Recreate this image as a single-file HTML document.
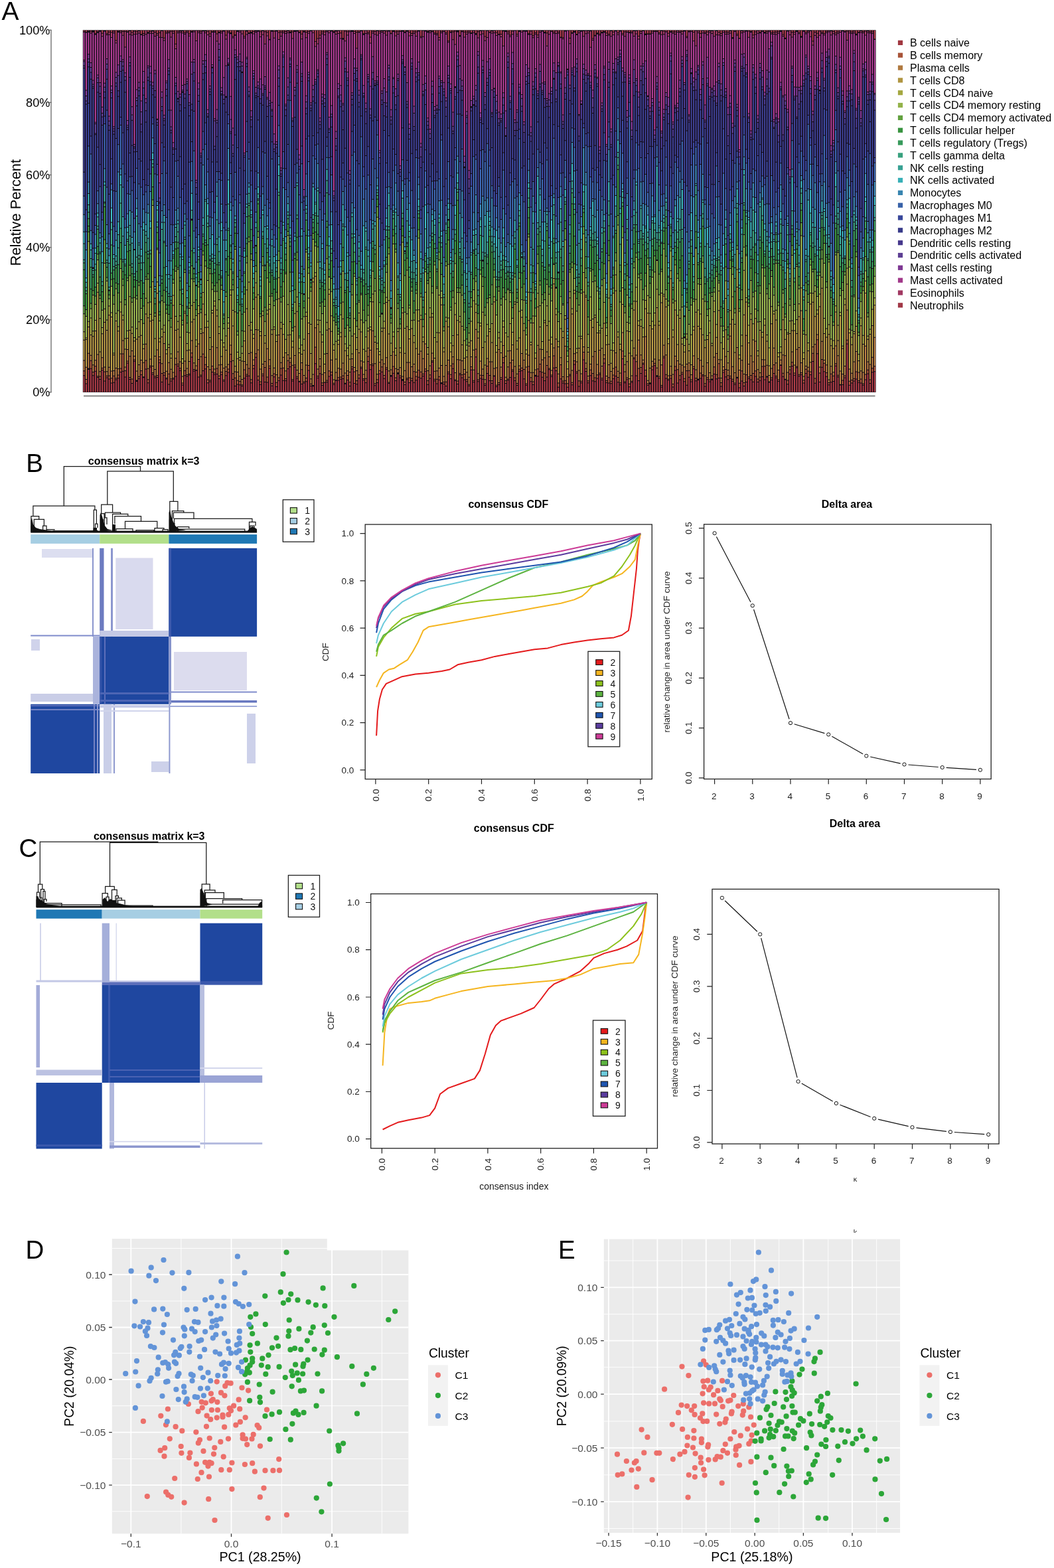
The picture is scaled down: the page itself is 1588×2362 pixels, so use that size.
<!DOCTYPE html>
<html><head><meta charset="utf-8"><style>
html,body{margin:0;padding:0;background:#fff;}
svg{display:block;font-family:'Liberation Sans', Arial, sans-serif;}
</style></head><body>
<svg width="1588" height="2362" viewBox="0 0 1588 2362">
<rect width="1588" height="2362" fill="#fff"/>
<rect x="124.8" y="45.3" width="1194.8" height="545.6" fill="#120a14"/>
<g transform="translate(126.527,0) scale(3.45318,1)" stroke-width="0.565" fill="none">
<path stroke="#b8404a" d="M0 566.2V590.4M1 578.4V590.4M2 557.0V590.4M3 555.8V590.4M4 566.3V590.4M5 559.8V590.4M6 568.9V590.4M7 571.9V590.4M8 558.0V590.4M9 574.4V590.4M10 569.5V590.4M11 571.4V590.4M12 577.5V590.4M13 576.7V590.4M14 572.6V590.4M15 570.2V590.4M16 560.9V590.4M17 559.7V590.4M18 568.5V590.4M19 547.5V590.4M20 572.0V590.4M21 578.1V590.4M22 544.8V590.4M23 574.9V590.4M24 571.0V590.4M25 565.0V590.4M26 569.2V590.4M27 556.5V590.4M28 577.2V590.4M29 553.4V590.4M30 564.6V590.4M31 569.4V590.4M32 568.9V590.4M33 546.8V590.4M34 576.0V590.4M35 565.8V590.4M36 571.6V590.4M37 579.5V590.4M38 574.4V590.4M39 571.8V590.4M40 567.4V590.4M41 551.8V590.4M42 558.7V590.4M43 580.6V590.4M44 566.2V590.4M45 567.6V590.4M46 565.6V590.4M47 538.6V590.4M48 559.6V590.4M49 558.6V590.4M50 568.4V590.4M51 567.4V590.4M52 559.1V590.4M53 556.2V590.4M54 577.2V590.4M55 575.5V590.4M56 561.1V590.4M57 564.8V590.4M58 563.9V590.4M59 570.9V590.4M60 564.7V590.4M61 574.8V590.4M62 566.2V590.4M63 561.4V590.4M64 545.2V590.4M65 572.1V590.4M66 581.9V590.4M67 579.6V590.4M68 580.2V590.4M69 582.2V590.4M70 570.3V590.4M71 567.0V590.4M72 566.8V590.4M73 577.2V590.4M74 555.7V590.4M75 538.7V590.4M76 573.0V590.4M77 579.7V590.4M78 566.6V590.4M79 576.1V590.4M80 576.5V590.4M81 555.2V590.4M82 581.7V590.4M83 568.3V590.4M84 583.1V590.4M85 573.8V590.4M86 565.6V590.4M87 573.8V590.4M88 573.9V590.4M89 555.9V590.4M90 552.9V590.4M91 574.4V590.4M92 553.4V590.4M93 570.5V590.4M94 575.8V590.4M95 578.9V590.4M96 577.4V590.4M97 575.2V590.4M98 558.4V590.4M99 582.1V590.4M100 582.3V590.4M101 548.3V590.4M102 569.7V590.4M103 563.2V590.4M104 581.0V590.4M105 576.8V590.4M106 576.2V590.4M107 567.5V590.4M108 565.6V590.4M109 579.7V590.4M110 573.8V590.4M111 573.4V590.4M112 571.7V590.4M113 571.0V590.4M114 578.8V590.4M115 573.1V590.4M116 582.1V590.4M117 556.3V590.4M118 577.9V590.4M119 579.2V590.4M120 570.3V590.4M121 555.5V590.4M122 573.2V590.4M123 577.1V590.4M124 545.1V590.4M125 557.2V590.4M126 551.3V590.4M127 581.2V590.4M128 577.1V590.4M129 563.5V590.4M130 560.7V590.4M131 570.8V590.4M132 556.8V590.4M133 578.1V590.4M134 567.5V590.4M135 562.7V590.4M136 574.1V590.4M137 563.7V590.4M138 569.4V590.4M139 573.7V590.4M140 579.9V590.4M141 572.2V590.4M142 577.0V590.4M143 573.9V590.4M144 576.7V590.4M145 573.3V590.4M146 568.8V590.4M147 570.3V590.4M148 567.1V590.4M149 559.7V590.4M150 579.7V590.4M151 570.4V590.4M152 545.9V590.4M153 574.3V590.4M154 578.5V590.4M155 572.7V590.4M156 578.4V590.4M157 578.9V590.4M158 582.0V590.4M159 563.4V590.4M160 571.0V590.4M161 555.7V590.4M162 574.1V590.4M163 579.1V590.4M164 565.1V590.4M165 569.6V590.4M166 572.6V590.4M167 575.2V590.4M168 581.8V590.4M169 557.8V590.4M170 576.2V590.4M171 538.3V590.4M172 575.3V590.4M173 570.4V590.4M174 571.8V590.4M175 581.0V590.4M176 563.0V590.4M177 574.0V590.4M178 577.9V590.4M179 567.3V590.4M180 583.0V590.4M181 579.9V590.4M182 572.0V590.4M183 546.9V590.4M184 578.1V590.4M185 573.2V590.4M186 569.1V590.4M187 559.8V590.4M188 573.7V590.4M189 581.1V590.4M190 559.8V590.4M191 558.9V590.4M192 571.2V590.4M193 580.7V590.4M194 560.8V590.4M195 575.3V590.4M196 579.9V590.4M197 567.2V590.4M198 567.2V590.4M199 560.2V590.4M200 568.7V590.4M201 574.1V590.4M202 568.4V590.4M203 557.3V590.4M204 567.8V590.4M205 554.8V590.4M206 559.0V590.4M207 583.8V590.4M208 571.3V590.4M209 577.4V590.4M210 578.6V590.4M211 583.8V590.4M212 566.6V590.4M213 580.3V590.4M214 549.6V590.4M215 562.5V590.4M216 582.5V590.4M217 577.2V590.4M218 542.5V590.4M219 559.9V590.4M220 577.3V590.4M221 566.2V590.4M222 574.3V590.4M223 575.3V590.4M224 570.4V590.4M225 564.7V590.4M226 572.8V590.4M227 547.5V590.4M228 577.0V590.4M229 577.5V590.4M230 578.3V590.4M231 571.1V590.4M232 566.9V590.4M233 576.3V590.4M234 580.3V590.4M235 541.0V590.4M236 577.3V590.4M237 572.2V590.4M238 583.3V590.4M239 576.5V590.4M240 541.1V590.4M241 566.5V590.4M242 573.9V590.4M243 562.9V590.4M244 549.3V590.4M245 567.1V590.4M246 580.8V590.4M247 578.8V590.4M248 557.4V590.4M249 551.2V590.4M250 567.7V590.4M251 570.3V590.4M252 583.4V590.4M253 539.5V590.4M254 570.6V590.4M255 573.2V590.4M256 570.4V590.4M257 583.6V590.4M258 558.5V590.4M259 577.6V590.4M260 572.5V590.4M261 564.2V590.4M262 575.2V590.4M263 580.7V590.4M264 568.7V590.4M265 575.4V590.4M266 556.1V590.4M267 574.2V590.4M268 573.1V590.4M269 570.4V590.4M270 566.8V590.4M271 582.4V590.4M272 572.3V590.4M273 575.4V590.4M274 572.8V590.4M275 564.1V590.4M276 571.2V590.4M277 570.0V590.4M278 582.6V590.4M279 561.6V590.4M280 568.3V590.4M281 572.2V590.4M282 570.1V590.4M283 574.8V590.4M284 579.7V590.4M285 570.1V590.4M286 584.6V590.4M287 574.4V590.4M288 582.1V590.4M289 576.0V590.4M290 570.7V590.4M291 572.6V590.4M292 575.8V590.4M293 567.6V590.4M294 575.9V590.4M295 573.7V590.4M296 568.0V590.4M297 572.4V590.4M298 568.5V590.4M299 576.4V590.4M300 572.7V590.4M301 562.9V590.4M302 569.5V590.4M303 574.9V590.4M304 550.9V590.4M305 567.8V590.4M306 572.6V590.4M307 579.3V590.4M308 563.7V590.4M309 552.1V590.4M310 565.7V590.4M311 554.5V590.4M312 567.3V590.4M313 564.9V590.4M314 577.6V590.4M315 563.1V590.4M316 568.8V590.4M317 564.9V590.4M318 544.9V590.4M319 577.7V590.4M320 533.3V590.4M321 576.1V590.4M322 553.8V590.4M323 560.3V590.4M324 567.7V590.4M325 580.2V590.4M326 576.2V590.4M327 575.0V590.4M328 551.8V590.4M329 568.2V590.4M330 580.4V590.4M331 580.1V590.4M332 569.6V590.4M333 518.4V590.4M334 580.7V590.4M335 577.4V590.4M336 574.5V590.4M337 571.5V590.4M338 576.7V590.4M339 577.4V590.4M340 580.8V590.4M341 572.4V590.4M342 563.6V590.4M343 577.9V590.4M344 561.3V590.4M345 560.3V590.4"/>
<path stroke="#c06040" d="M0 559.2V565.2M1 572.1V577.4M3 543.7V554.8M4 561.0V565.3M5 552.2V558.8M6 567.3V567.9M7 567.6V570.9M8 555.1V557.0M9 560.6V573.4M10 566.8V568.5M11 566.4V570.4M12 570.2V576.5M13 566.8V575.7M14 570.3V571.6M15 565.4V569.2M16 555.6V559.9M17 533.4V558.7M18 559.0V567.5M19 544.4V546.5M20 569.0V571.0M21 571.5V577.1M22 542.6V543.8M24 567.7V570.0M25 559.0V564.0M27 543.6V555.5M28 572.2V576.2M29 551.5V552.4M30 562.0V563.6M31 567.3V568.4M32 566.2V567.9M33 542.6V545.8M34 562.9V575.0M35 561.9V564.8M36 569.9V570.6M37 563.8V578.5M38 571.3V573.4M39 569.9V570.8M40 549.6V566.4M41 548.7V550.8M42 555.3V557.7M43 577.4V579.6M44 558.8V565.2M45 565.0V566.6M46 563.8V564.6M47 532.3V537.6M48 557.0V558.6M50 541.9V567.4M51 565.6V566.4M52 533.7V558.1M53 549.7V555.2M54 572.4V576.2M55 573.3V574.5M56 551.9V560.1M57 562.3V563.8M58 555.4V562.9M59 566.7V569.9M60 561.0V563.7M61 572.7V573.8M62 560.1V565.2M63 556.6V560.4M64 534.2V544.2M65 563.2V571.1M66 569.7V580.9M67 573.7V578.6M68 575.0V579.2M69 580.3V581.2M70 557.6V569.3M71 564.5V566.0M72 555.4V565.8M73 572.3V576.2M74 550.9V554.7M75 533.2V537.7M76 567.2V572.0M77 575.5V578.7M78 563.7V565.6M79 553.9V575.1M80 568.5V575.5M81 551.7V554.2M82 577.9V580.7M83 563.4V567.3M84 576.8V582.1M85 569.4V572.8M86 555.5V564.6M87 554.7V572.8M88 571.1V572.9M89 543.7V554.9M90 546.5V551.9M91 572.2V573.4M92 550.2V552.4M93 567.7V569.5M95 557.2V577.9M96 575.4V576.4M97 570.0V574.2M98 550.9V557.4M99 578.8V581.1M101 523.4V547.3M102 567.1V568.7M103 552.2V562.2M104 577.2V580.0M106 573.5V575.2M107 559.3V566.5M108 561.0V564.6M109 577.8V578.7M111 569.2V572.4M112 568.4V570.7M113 566.5V570.0M115 566.1V572.1M116 576.2V581.1M117 553.0V555.3M118 560.4V576.9M119 573.9V578.2M120 565.2V569.3M121 553.4V554.5M122 570.9V572.2M123 570.7V576.1M124 537.5V544.1M125 550.1V556.2M126 548.7V550.3M127 578.3V580.2M128 572.2V576.1M129 558.8V562.5M130 553.3V559.7M131 566.1V569.8M132 554.3V555.8M133 576.4V577.1M135 552.5V561.7M136 569.5V573.1M138 566.6V568.4M140 575.9V578.9M141 570.3V571.2M142 569.5V576.0M143 570.6V572.9M144 560.2V575.7M145 567.4V572.3M146 558.2V567.8M147 560.7V569.3M148 563.8V566.1M149 556.3V558.7M150 574.0V578.7M151 565.3V569.4M152 544.1V544.9M153 571.7V573.3M154 571.7V577.5M155 567.7V571.7M157 576.1V577.9M158 575.8V581.0M159 560.7V562.4M160 564.7V570.0M161 548.5V554.7M162 572.4V573.1M163 574.5V578.1M164 562.9V564.1M165 565.1V568.6M166 564.0V571.6M167 572.3V574.2M168 579.7V580.8M169 552.9V556.8M170 573.7V575.2M171 526.4V537.3M172 572.4V574.3M173 565.8V569.4M174 565.9V570.8M175 578.4V580.0M176 551.9V562.0M177 566.0V573.0M178 574.1V576.9M180 580.8V582.0M181 576.9V578.9M182 569.3V571.0M183 538.9V545.9M184 574.0V577.1M185 571.4V572.2M186 546.9V568.1M187 557.4V558.8M188 569.4V572.7M189 577.9V580.1M190 556.8V558.8M191 554.8V557.9M192 556.9V570.2M193 578.6V579.7M194 552.5V559.8M195 569.2V574.3M196 575.5V578.9M198 556.3V566.2M199 549.0V559.2M200 561.3V567.7M201 562.7V573.1M202 550.9V567.4M203 555.4V556.3M204 565.5V566.8M205 536.5V553.8M206 553.9V558.0M207 577.5V582.8M208 550.0V570.3M209 574.6V576.4M210 573.7V577.6M211 578.2V582.8M212 564.6V565.6M213 576.7V579.3M214 544.0V548.6M215 560.3V561.5M216 574.2V581.5M217 574.8V576.2M218 531.0V541.5M219 555.7V558.9M220 574.2V576.3M221 557.7V565.2M222 563.0V573.3M223 569.4V574.3M224 565.2V569.4M225 562.4V563.7M226 570.3V571.8M227 541.0V546.5M228 573.9V576.0M229 569.2V576.5M230 574.7V577.3M231 565.6V570.1M232 553.6V565.9M233 569.0V575.3M234 577.2V579.3M235 529.2V540.0M236 575.5V576.3M237 569.6V571.2M238 578.7V582.3M239 574.8V575.5M240 539.2V540.1M241 545.3V565.5M242 555.4V572.9M243 554.1V561.9M244 547.6V548.3M245 558.1V566.1M246 578.3V579.8M248 552.5V556.4M249 547.7V550.2M251 567.5V569.3M252 581.1V582.4M253 537.3V538.5M254 564.8V569.6M255 571.4V572.2M256 566.2V569.4M257 578.9V582.6M258 552.5V557.5M259 557.2V576.6M260 566.3V571.5M261 561.5V563.2M262 570.7V574.2M263 559.0V579.7M264 558.8V567.7M265 572.4V574.4M266 552.8V555.1M267 570.3V573.2M269 562.6V569.4M270 565.0V565.8M271 578.3V581.4M272 569.2V571.3M273 572.4V574.4M275 553.3V563.1M276 564.8V570.2M277 548.3V569.0M278 576.9V581.6M279 558.2V560.6M280 556.9V567.3M281 566.2V571.2M282 567.0V569.1M283 571.8V573.8M284 577.6V578.7M286 577.8V583.6M287 559.2V573.4M288 577.1V581.1M289 565.1V575.0M290 568.3V569.7M291 566.1V571.6M292 562.9V574.8M293 559.3V566.6M294 571.4V574.9M295 568.4V572.7M296 552.5V567.0M297 552.2V571.4M300 569.5V571.7M301 550.1V561.9M302 566.9V568.5M303 572.5V573.9M305 562.7V566.8M307 573.6V578.3M308 557.5V562.7M309 546.2V551.1M310 562.4V564.7M311 552.7V553.5M312 564.8V566.3M313 561.9V563.9M314 573.2V576.6M315 556.8V562.1M316 559.6V567.8M317 560.6V563.9M318 532.7V543.9M319 570.6V576.7M320 512.3V532.3M321 562.4V575.1M322 541.9V552.8M323 547.8V559.3M324 562.0V566.7M325 577.0V579.2M326 563.8V575.2M327 566.8V574.0M328 548.3V550.8M329 565.7V567.2M331 573.6V579.1M332 566.5V568.6M333 512.8V517.4M334 574.7V579.7M335 573.1V576.4M336 570.8V573.5M337 560.4V570.5M338 574.1V575.7M339 571.6V576.4M340 578.4V579.8M341 564.4V571.4M342 557.8V562.6M343 572.6V576.9M344 555.3V560.3M345 552.2V559.3"/>
<path stroke="#c88a48" d="M0 543.6V558.2M1 553.7V571.1M2 532.8V554.6M3 535.8V542.7M4 550.3V560.0M5 543.2V551.2M6 534.5V566.3M7 560.3V566.6M8 539.2V554.1M9 553.4V559.6M10 560.3V565.8M11 553.7V565.4M12 559.4V569.2M13 559.1V565.8M14 555.0V569.3M15 556.1V564.4M16 533.5V554.6M17 513.6V532.4M18 553.6V558.0M19 527.1V543.4M20 537.3V568.0M21 528.9V570.5M22 536.9V541.6M23 559.4V572.4M24 549.9V566.7M25 543.1V558.0M26 546.7V567.3M27 518.8V542.6M28 555.7V571.2M29 541.5V550.5M30 552.0V561.0M31 557.0V566.3M32 527.6V565.2M33 538.0V541.6M34 548.2V561.9M35 518.0V560.9M36 559.8V568.9M37 546.7V562.8M38 556.8V570.3M39 561.4V568.9M40 540.3V548.6M41 530.6V547.7M42 545.5V554.3M43 567.5V576.4M44 544.5V557.8M45 555.6V564.0M46 545.1V562.8M47 513.5V531.3M48 547.3V556.0M49 551.5V556.9M50 518.4V540.9M51 537.8V564.6M52 501.8V532.7M53 538.8V548.7M54 552.9V571.4M55 557.3V572.3M56 522.8V550.9M57 556.6V561.3M58 524.3V554.4M59 550.2V565.7M60 549.7V560.0M61 555.0V571.7M62 553.2V559.1M63 549.6V555.6M64 520.4V533.2M65 543.7V562.2M66 560.5V568.7M67 561.0V572.7M68 567.3V574.0M69 571.9V579.3M70 545.0V556.6M71 549.8V563.5M72 532.9V554.4M73 531.6V571.3M74 542.6V549.9M75 496.9V532.2M76 527.5V566.2M77 556.4V574.5M78 549.1V562.7M79 544.9V552.9M80 525.7V567.5M81 542.3V550.7M82 566.2V576.9M83 554.8V562.4M84 565.0V575.8M85 505.0V568.4M86 546.8V554.5M87 538.7V553.7M88 559.2V570.1M89 535.0V542.7M90 539.9V545.5M91 550.7V571.2M92 536.1V549.2M93 557.9V566.7M94 562.9V573.8M95 546.9V556.2M96 566.1V574.4M97 550.5V569.0M98 502.9V549.9M99 571.3V577.8M100 564.5V579.9M101 494.3V522.4M102 556.5V566.1M103 541.0V551.2M104 564.6V576.2M105 562.1V575.5M106 533.0V572.5M107 495.7V558.3M108 542.8V560.0M109 572.5V576.8M110 561.6V572.3M111 555.2V568.2M112 556.5V567.4M113 547.5V565.5M114 562.4V576.8M115 559.2V565.1M116 561.0V575.2M117 541.1V552.0M118 553.9V559.4M119 559.0V572.9M120 532.1V564.2M121 544.3V552.4M122 564.6V569.9M123 558.3V569.7M124 524.8V536.5M125 527.9V549.1M126 498.8V547.7M127 548.3V577.3M128 564.2V571.2M129 546.2V557.8M130 542.4V552.3M131 548.5V565.1M132 539.3V553.3M133 559.2V575.4M134 557.5V564.9M135 530.5V551.5M136 555.7V568.5M137 556.9V561.1M138 554.3V565.6M139 567.4V571.1M140 558.8V574.9M141 546.6V569.3M142 546.5V568.5M143 553.0V569.6M144 549.1V559.2M145 560.9V566.4M146 534.0V557.2M147 529.5V559.7M148 540.8V562.8M149 518.5V555.3M150 559.0V573.0M151 551.4V564.3M152 532.4V543.1M153 559.7V570.7M154 559.2V570.7M155 554.9V566.7M156 551.1V575.9M157 567.5V575.1M158 551.1V574.8M159 542.9V559.7M160 551.4V563.7M161 538.1V547.5M162 562.1V571.4M163 542.2V573.5M164 542.8V561.9M165 543.9V564.1M166 557.0V563.0M167 561.3V571.3M168 568.8V578.7M169 537.9V551.9M170 557.7V572.7M171 496.7V525.4M172 563.2V571.4M173 544.6V564.8M174 556.5V564.9M175 572.2V577.4M176 540.4V550.9M177 545.4V565.0M178 545.5V573.1M179 555.5V565.6M180 554.5V579.8M181 526.9V575.9M182 553.5V568.3M183 521.0V537.9M184 568.7V573.0M185 553.3V570.4M186 528.8V545.9M187 543.1V556.4M188 552.5V568.4M189 563.7V576.9M190 551.6V555.8M191 533.1V553.8M192 543.1V555.9M193 553.4V577.6M194 535.5V551.5M195 561.8V568.2M196 561.7V574.5M197 557.4V564.8M198 520.7V555.3M199 526.6V548.0M200 542.4V560.3M201 539.5V561.7M202 530.4V549.9M203 538.1V554.4M204 558.6V564.5M205 524.6V535.5M206 511.2V552.9M207 563.8V576.5M208 539.2V549.0M209 567.9V573.6M210 522.0V572.7M211 568.0V577.2M212 526.0V563.6M213 558.5V575.7M214 533.2V543.0M215 545.5V559.3M216 558.5V573.2M217 563.4V573.8M218 522.9V530.0M219 547.6V554.7M220 566.9V573.2M221 549.1V556.7M222 537.6V562.0M223 529.9V568.4M224 549.5V564.2M225 527.9V561.4M226 551.9V569.3M227 534.9V540.0M228 566.9V572.9M229 549.9V568.2M230 560.1V573.7M231 555.6V564.6M232 532.0V552.6M233 559.7V568.0M234 562.5V576.2M235 501.6V528.2M236 560.5V574.5M237 545.2V568.6M238 570.9V577.7M239 566.6V573.8M240 524.7V538.2M241 535.5V544.3M242 512.7V554.4M243 535.2V553.1M244 542.8V546.6M245 507.4V557.1M246 573.7V577.3M247 555.1V576.3M248 544.7V551.5M249 541.5V546.7M250 554.8V565.3M251 542.8V566.5M252 550.2V580.1M253 520.4V536.3M254 535.3V563.8M255 566.4V570.4M256 552.2V565.2M257 564.6V577.9M258 536.9V551.5M259 544.1V556.2M260 548.9V565.3M261 550.5V560.5M262 553.2V569.7M263 549.0V558.0M264 547.3V557.8M265 564.9V571.4M266 536.6V551.8M267 557.4V569.3M268 540.7V570.5M269 543.2V561.6M270 552.2V564.0M271 566.5V577.3M272 547.0V568.2M273 562.1V571.4M274 566.6V570.6M275 538.5V552.3M276 533.0V563.8M277 542.3V547.3M278 569.9V575.9M279 552.9V557.2M280 537.5V555.9M281 557.9V565.2M282 506.7V566.0M283 552.8V570.8M284 562.0V576.6M285 523.9V567.7M286 558.1V576.8M287 543.2V558.2M288 564.0V576.1M289 505.7V564.1M290 548.9V567.3M291 536.6V565.1M292 545.6V561.9M293 514.5V558.3M294 557.2V570.4M295 562.1V567.4M296 542.3V551.5M297 542.4V551.2M298 550.7V566.4M299 566.0V574.6M300 555.6V568.5M301 524.8V549.1M302 547.3V565.9M303 558.1V571.5M304 542.7V549.2M305 535.2V561.7M306 536.2V570.7M307 561.5V572.6M308 552.9V556.5M309 530.6V545.2M310 550.6V561.4M311 526.8V551.7M312 524.1V563.8M313 546.9V560.9M314 567.4V572.2M315 552.1V555.8M316 553.8V558.6M317 546.2V559.6M318 523.0V531.7M319 519.3V569.6M320 504.5V511.3M321 553.5V561.4M322 514.8V540.9M323 543.0V546.8M324 550.3V561.0M325 572.4V576.0M326 552.3V562.8M327 561.2V565.8M328 521.6V547.3M329 536.3V564.7M330 559.6V578.8M331 563.9V572.6M332 552.1V565.5M333 467.5V511.8M334 556.5V573.7M335 562.8V572.1M336 545.4V569.8M337 529.9V559.4M338 561.6V573.1M339 559.3V570.6M340 561.5V577.4M341 521.8V563.4M342 545.4V556.8M343 549.6V571.6M344 538.8V554.3M345 508.8V551.2"/>
<path stroke="#c8aa4a" d="M0 512.8V542.6M1 512.1V552.7M2 492.9V531.8M3 505.1V534.8M4 507.3V549.3M5 499.0V542.2M6 440.7V533.5M7 530.6V559.3M8 503.3V538.2M9 486.0V552.4M10 497.9V559.3M11 475.3V552.7M12 477.9V558.4M13 535.2V558.1M14 484.0V554.0M15 499.2V555.1M16 470.5V532.5M17 482.6V512.6M18 526.6V552.6M19 509.9V526.1M20 498.1V536.3M21 502.8V527.9M22 514.2V535.9M23 511.4V558.4M24 508.0V548.9M25 505.8V542.1M26 525.8V545.7M27 473.5V517.8M28 479.2V554.7M29 484.2V540.5M30 482.8V551.0M31 537.0V556.0M32 442.2V526.6M33 515.6V537.0M34 507.9V547.2M35 501.1V517.0M36 533.6V558.8M37 524.1V545.7M38 540.1V555.8M39 460.6V560.4M40 498.1V539.3M41 496.5V529.6M42 508.5V544.5M43 547.8V566.5M44 472.3V543.5M45 528.6V554.6M46 527.7V544.1M47 485.4V512.5M48 481.4V546.3M49 522.3V550.5M50 473.0V517.4M51 503.0V536.8M52 458.5V500.8M53 493.7V537.8M54 493.4V551.9M55 527.1V556.3M56 472.1V521.8M57 461.6V555.6M58 476.6V523.3M59 502.9V549.2M60 537.5V548.7M61 523.3V554.0M62 528.0V552.2M63 495.1V548.6M64 444.9V519.4M65 491.5V542.7M66 552.3V559.5M67 540.7V560.0M68 543.0V566.3M69 544.6V570.9M70 514.1V544.0M71 465.5V548.8M72 491.0V531.9M73 497.8V530.6M74 510.2V541.6M75 448.3V495.9M76 497.6V526.5M77 506.2V555.4M78 475.8V548.1M79 517.5V543.9M80 473.6V524.7M81 466.3V541.3M82 504.3V565.2M83 496.5V553.8M84 514.9V564.0M85 450.6V504.0M86 495.6V545.8M87 504.2V537.7M88 532.1V558.2M89 505.3V534.0M90 504.7V538.9M91 523.5V549.7M92 492.6V535.1M93 469.7V556.9M94 532.1V561.9M95 533.9V545.9M96 528.2V565.1M97 476.9V549.5M98 487.1V501.9M99 533.1V570.3M100 425.2V563.5M101 416.8V493.3M102 489.2V555.5M103 500.6V540.0M104 515.8V563.6M105 548.9V561.1M106 497.8V532.0M107 443.8V494.7M108 499.8V541.8M109 528.1V571.5M110 541.5V560.6M111 519.3V554.2M112 507.8V555.5M113 480.8V546.5M114 528.8V561.4M115 536.3V558.2M116 541.6V560.0M117 533.6V540.1M118 503.5V552.9M119 527.0V558.0M120 496.4V531.1M121 500.4V543.3M122 545.7V563.6M123 529.6V557.3M124 499.3V523.8M125 497.2V526.9M126 455.2V497.8M127 516.0V547.3M128 526.1V563.2M129 534.7V545.2M130 499.8V541.4M131 494.8V547.5M132 456.0V538.3M133 503.4V558.2M134 536.0V556.5M135 507.5V529.5M136 535.7V554.7M137 500.1V555.9M138 531.6V553.3M139 471.8V566.4M140 532.7V557.8M141 492.4V545.6M142 511.0V545.5M143 495.5V552.0M144 516.5V548.1M145 525.5V559.9M146 484.0V533.0M147 481.8V528.5M148 515.3V539.8M149 473.6V517.5M150 534.1V558.0M151 478.6V550.4M152 478.3V531.4M153 540.0V558.7M154 515.6V558.2M155 501.8V553.9M156 459.8V550.1M157 530.4V566.5M158 484.5V550.1M159 492.8V541.9M160 530.5V550.4M161 521.3V537.1M162 474.5V561.1M163 504.7V541.2M164 485.4V541.8M165 520.0V542.9M166 540.0V556.0M167 538.3V560.3M168 521.8V567.8M169 513.8V536.9M170 527.7V556.7M171 471.2V495.7M172 509.8V562.2M173 491.6V543.6M174 524.0V555.5M175 550.4V571.2M176 506.4V539.4M177 500.1V544.4M178 516.6V544.5M179 455.2V554.5M180 531.3V553.5M181 509.5V525.9M182 532.0V552.5M183 492.9V520.0M184 537.3V567.7M185 529.2V552.3M186 488.1V527.8M187 519.9V542.1M188 458.8V551.5M189 526.6V562.7M190 509.5V550.6M191 478.6V532.1M192 498.5V542.1M193 533.8V552.4M194 483.2V534.5M195 520.0V560.8M196 486.9V560.7M197 540.3V556.4M198 462.7V519.7M199 493.1V525.6M200 527.0V541.4M201 486.6V538.5M202 490.9V529.4M203 512.8V537.1M204 518.7V557.6M205 428.3V523.6M206 474.6V510.2M207 522.9V562.8M208 495.4V538.2M209 509.0V566.9M210 481.6V521.0M211 556.2V567.0M212 449.3V525.0M213 473.5V557.5M214 442.4V532.2M215 531.8V544.5M216 524.9V557.5M217 510.6V562.4M218 440.4V521.9M219 448.1V546.6M220 531.1V565.9M221 482.9V548.1M222 493.8V536.6M223 478.7V528.9M224 502.1V548.5M225 501.9V526.9M226 525.2V550.9M227 487.4V533.9M228 519.7V565.9M229 519.3V548.9M230 547.8V559.1M231 528.7V554.6M232 438.4V531.0M233 508.2V558.7M234 527.3V561.5M235 458.9V500.6M236 549.7V559.5M237 498.9V544.2M238 532.4V569.9M239 536.5V565.6M240 467.6V523.7M241 454.4V534.5M242 490.8V511.7M243 491.9V534.2M244 508.0V541.8M245 465.5V506.4M246 472.2V572.7M247 491.1V554.1M248 495.9V543.7M249 490.6V540.5M250 464.0V553.8M251 490.5V541.8M252 456.5V549.2M253 446.5V519.4M254 462.7V534.3M255 518.2V565.4M256 420.3V551.2M257 508.3V563.6M258 467.5V535.9M259 519.4V543.1M260 479.9V547.9M261 518.8V549.5M262 530.8V552.2M263 511.5V548.0M264 528.9V546.3M265 550.0V563.9M266 497.8V535.6M267 470.7V556.4M268 491.9V539.7M269 495.8V542.2M270 504.8V551.2M271 524.3V565.5M272 511.9V546.0M273 501.7V561.1M274 521.3V565.6M275 470.0V537.5M276 508.8V532.0M277 468.2V541.3M278 542.6V568.9M279 525.8V551.9M280 497.2V536.5M281 547.2V556.9M282 488.8V505.7M283 481.7V551.8M284 531.4V561.0M285 432.9V522.9M286 540.8V557.1M287 521.5V542.2M288 474.7V563.0M289 455.5V504.7M290 517.1V547.9M291 481.8V535.6M292 512.5V544.6M293 480.3V513.5M294 536.5V556.2M295 498.0V561.1M296 508.4V541.3M297 490.6V541.4M298 514.5V549.7M299 551.4V565.0M300 488.3V554.6M301 473.5V523.8M302 482.5V546.3M303 537.9V557.1M304 531.4V541.7M305 482.3V534.2M306 511.8V535.2M307 503.8V560.5M308 502.9V551.9M309 498.5V529.6M310 498.4V549.6M311 503.0V525.8M312 477.6V523.1M313 468.4V545.9M314 541.0V566.4M315 504.8V551.1M316 529.1V552.8M317 458.6V545.2M318 455.7V522.0M319 477.2V518.3M320 473.4V503.5M321 462.5V552.5M322 434.8V513.8M323 503.1V542.0M324 508.6V549.3M325 504.3V571.4M326 521.3V551.3M327 525.6V560.2M328 470.4V520.6M329 513.5V535.3M330 476.0V558.6M331 525.6V562.9M332 459.5V551.1M333 428.5V466.5M334 502.1V555.5M335 519.7V561.8M336 503.2V544.4M337 491.9V528.9M338 544.1V560.6M339 491.2V558.3M340 518.9V560.5M341 442.1V520.8M342 511.7V544.4M343 504.0V548.6M344 491.0V537.8M345 460.3V507.8"/>
<path stroke="#bcc04a" d="M0 500.3V511.8M1 509.4V511.1M2 484.8V491.9M3 479.5V504.1M4 499.3V506.3M5 482.9V498.0M6 426.9V439.7M7 480.3V529.6M8 494.1V502.3M9 465.8V485.0M10 482.4V496.9M11 461.4V474.3M12 471.6V476.9M13 532.4V534.2M14 472.6V483.0M15 492.4V498.2M16 455.6V469.5M17 475.4V481.6M18 510.5V525.6M19 498.7V508.9M20 447.3V497.1M21 493.2V501.8M22 508.9V513.2M23 495.6V510.4M24 485.3V507.0M25 481.9V504.8M26 519.3V524.8M27 449.8V472.5M28 456.5V478.2M29 473.9V483.2M30 424.7V481.8M31 510.5V536.0M32 425.3V441.2M33 510.2V514.6M34 496.3V506.9M35 490.6V500.1M36 527.3V532.6M37 519.6V523.1M38 533.6V539.1M39 445.6V459.6M40 477.0V497.1M41 484.8V495.5M42 476.3V507.5M43 541.0V546.8M44 469.4V471.3M45 517.9V527.6M46 501.8V526.7M47 460.8V484.4M48 456.1V480.4M49 512.5V521.3M50 461.1V472.0M51 496.1V502.0M52 440.9V457.5M53 474.4V492.7M54 484.6V492.4M55 509.0V526.1M56 468.0V471.1M57 453.9V460.6M58 467.6V475.6M59 492.8V501.9M60 512.8V536.5M61 516.9V522.3M62 506.5V527.0M63 487.2V494.1M64 437.2V443.9M65 468.1V490.5M66 470.2V551.3M67 531.0V539.7M68 539.0V542.0M69 532.7V543.6M70 499.6V513.1M71 437.2V464.5M72 425.5V490.0M73 485.9V496.8M74 504.3V509.2M75 426.5V447.3M76 444.4V496.6M77 499.9V505.2M78 469.3V474.8M79 506.1V516.5M80 467.7V472.6M81 458.9V465.3M82 497.2V503.3M83 493.0V495.5M84 505.6V513.9M85 418.7V449.6M86 486.2V494.6M87 489.0V503.2M88 511.8V531.1M89 459.2V504.3M90 484.9V503.7M91 514.6V522.5M92 472.7V491.6M93 447.7V468.7M94 525.6V531.1M95 520.2V532.9M96 511.4V527.2M97 470.7V475.9M98 449.5V486.1M99 488.9V532.1M100 419.4V424.2M101 411.2V415.8M102 482.5V488.2M103 483.1V499.6M104 504.7V514.8M105 533.7V547.9M106 486.3V496.8M107 436.6V442.8M108 476.3V498.8M109 519.6V527.1M110 514.8V540.5M111 512.9V518.3M112 501.4V506.8M113 455.6V479.8M114 518.5V527.8M115 524.7V535.3M116 520.8V540.6M117 506.7V532.6M118 480.2V502.5M119 509.0V526.0M120 471.9V495.4M121 482.5V499.4M122 526.8V544.7M123 507.9V528.6M124 494.7V498.3M125 493.1V496.2M126 443.5V454.2M127 507.4V515.0M128 517.6V525.1M129 529.9V533.7M130 494.7V498.8M131 484.5V493.8M132 448.4V455.0M133 453.2V502.4M134 517.5V535.0M135 500.6V506.5M136 524.9V534.7M137 495.3V499.1M138 524.6V530.6M139 464.1V470.8M140 494.9V531.7M141 473.3V491.4M142 496.9V510.0M143 483.2V494.5M144 505.9V515.5M145 467.6V524.5M146 467.3V483.0M147 475.5V480.8M148 508.3V514.3M149 440.8V472.6M150 524.0V533.1M151 464.3V477.6M152 472.8V477.3M153 509.1V539.0M154 501.6V514.6M155 445.0V500.8M156 449.1V458.8M157 524.4V529.4M158 478.5V483.5M159 479.5V491.8M160 517.2V529.5M161 506.0V520.3M162 457.4V473.5M163 483.3V503.7M164 477.1V484.4M165 492.1V519.0M166 513.6V539.0M167 528.2V537.3M168 516.4V520.8M169 484.6V512.8M170 453.6V526.7M171 458.6V470.2M172 500.6V508.8M173 487.2V490.6M174 470.8V523.0M175 515.5V549.4M176 489.2V505.4M177 495.9V499.1M178 488.0V515.6M179 447.4V454.2M180 521.1V530.3M181 501.2V508.5M182 515.6V531.0M183 484.1V491.9M184 501.9V536.3M185 507.7V528.2M186 455.3V487.1M187 501.1V518.9M188 455.3V457.8M189 514.0V525.6M190 469.4V508.5M191 467.7V477.6M192 487.8V497.5M193 527.5V532.8M194 440.8V482.2M195 515.9V519.0M196 476.4V485.9M197 532.3V539.3M198 442.3V461.7M199 461.1V492.1M200 515.1V526.0M201 483.3V485.6M202 461.3V489.9M203 484.6V511.8M204 508.5V517.7M205 420.1V427.3M206 465.4V473.6M207 514.7V521.9M208 473.0V494.4M209 499.8V508.0M210 476.0V480.6M211 545.2V555.2M212 439.7V448.3M213 465.4V472.5M214 437.7V441.4M215 525.5V530.8M216 506.9V523.9M217 507.1V509.6M218 411.0V439.4M219 445.4V447.1M220 524.1V530.1M221 447.7V481.9M222 480.9V492.8M223 475.2V477.7M224 485.9V501.1M225 499.0V500.9M226 495.1V524.2M227 456.1V486.4M228 506.1V518.7M229 449.6V518.3M230 528.1V546.8M231 516.9V527.7M232 414.6V437.4M233 500.5V507.2M234 518.9V526.3M235 434.0V457.9M236 537.1V548.7M237 485.9V497.9M238 500.1V531.4M239 513.5V535.5M240 454.3V466.6M241 433.2V453.4M242 483.8V489.8M243 482.3V490.9M244 494.3V507.0M245 453.1V464.5M246 445.8V471.2M247 472.5V490.1M248 484.5V494.9M249 472.0V489.6M250 436.3V463.0M251 484.6V489.5M252 442.0V455.5M253 443.8V445.5M254 450.9V461.7M255 510.7V517.2M256 408.2V419.3M257 497.6V507.3M258 453.7V466.5M259 475.5V518.4M260 467.5V478.9M261 510.0V517.8M262 521.0V529.8M263 503.4V510.5M264 519.2V527.9M265 504.7V549.0M266 492.4V496.8M267 451.4V469.7M268 467.5V490.9M269 473.6V494.8M270 450.7V503.8M271 512.8V523.3M272 506.1V510.9M273 483.8V500.7M274 517.7V520.3M275 453.7V469.0M276 489.3V507.8M277 438.7V467.2M278 516.8V541.6M279 508.0V524.8M280 449.9V496.2M281 530.1V546.2M282 468.3V487.8M283 447.6V480.7M284 489.1V530.4M285 406.6V431.9M286 535.3V539.8M287 505.2V520.5M288 407.8V473.7M289 448.9V454.5M290 490.6V516.1M291 473.3V480.8M292 488.3V511.5M293 465.9V479.3M294 529.1V535.5M295 485.1V497.0M296 501.0V507.4M297 481.0V489.6M298 504.9V513.5M299 524.4V550.4M300 462.3V487.3M301 469.3V472.5M302 467.8V481.5M303 531.9V536.9M304 523.0V530.4M305 463.2V481.3M306 497.3V510.8M307 501.5V502.8M308 484.1V501.9M309 483.5V497.5M310 488.6V497.4M311 482.1V502.0M312 458.3V476.6M313 434.3V467.4M314 531.7V540.0M315 468.3V503.8M316 517.1V528.1M317 441.9V457.6M318 442.2V454.7M319 439.5V476.2M320 467.6V472.4M321 443.6V461.5M322 417.9V433.8M323 480.0V502.1M324 495.6V507.6M325 489.6V503.3M326 511.2V520.3M327 513.4V524.6M328 461.2V469.4M329 490.4V512.5M330 471.1V475.0M331 521.7V524.6M332 450.7V458.5M333 404.4V427.5M334 496.5V501.1M335 508.6V518.7M336 499.9V502.2M337 468.8V490.9M338 534.2V543.1M339 479.5V490.2M340 505.7V517.9M341 423.8V441.1M342 506.8V510.7M343 496.5V503.0M344 466.5V490.0M345 449.2V459.3"/>
<path stroke="#a8cc55" d="M0 473.3V499.3M1 477.1V508.4M2 364.2V483.8M3 465.5V478.5M4 445.0V498.3M5 459.1V481.9M6 391.9V425.9M7 450.2V479.3M8 467.8V493.1M9 397.0V464.8M10 423.8V481.4M11 450.6V460.4M12 431.7V470.6M13 458.7V531.4M14 435.4V471.6M15 468.5V491.4M16 404.9V454.6M17 430.6V474.4M18 459.4V509.5M19 423.3V497.7M20 415.6V446.3M21 455.7V492.2M22 448.7V507.9M23 450.8V494.6M24 430.5V484.3M25 464.9V480.9M26 487.8V518.3M27 421.3V448.8M28 421.3V455.5M29 455.4V472.9M30 310.1V423.7M31 476.9V509.5M32 376.4V424.3M33 483.9V509.2M34 453.4V495.3M35 455.7V489.6M36 472.5V526.3M37 483.5V518.6M38 493.4V532.6M39 427.1V444.6M40 409.0V476.0M41 406.3V483.8M42 458.9V475.3M43 490.1V540.0M44 411.0V468.4M45 501.1V516.9M46 464.9V500.8M47 420.6V459.8M48 424.7V455.1M49 476.1V511.5M50 432.8V460.1M51 471.4V495.1M52 384.4V439.9M53 401.6V473.4M54 423.1V483.6M55 412.8V508.0M56 436.4V467.0M57 439.5V452.9M58 439.6V466.6M59 451.9V491.8M60 436.5V511.8M61 495.6V515.9M62 446.9V505.5M63 478.9V486.2M64 406.4V436.2M65 437.3V467.1M66 376.1V469.2M67 505.3V530.0M68 468.4V538.0M69 522.4V531.7M70 470.7V498.6M71 396.4V436.2M72 364.7V424.5M73 391.7V484.9M74 465.7V503.3M75 409.4V425.5M76 358.1V443.4M77 477.6V498.9M78 400.8V468.3M79 484.7V505.1M80 419.3V466.7M81 446.8V457.9M82 446.6V496.2M83 461.1V492.0M84 451.8V504.6M85 392.9V417.7M86 455.5V485.2M87 446.8V488.0M88 413.1V510.8M89 355.2V458.2M90 439.4V483.9M91 499.1V513.6M92 455.8V471.7M93 392.2V446.7M94 509.4V524.6M95 480.9V519.2M96 477.6V510.4M97 380.3V469.7M98 412.2V448.5M99 439.3V487.9M100 361.1V418.4M101 371.0V410.2M102 395.4V481.5M103 461.7V482.1M104 473.0V503.7M105 461.9V532.7M106 390.2V485.3M107 418.1V435.6M108 439.7V475.3M109 483.4V518.6M110 490.1V513.8M111 504.1V511.9M112 474.8V500.4M113 409.1V454.6M114 507.5V517.5M115 490.4V523.7M116 498.9V519.8M117 444.7V505.7M118 416.7V479.2M119 492.3V508.0M120 455.8V470.9M121 444.5V481.5M122 486.4V525.8M123 483.4V506.9M124 475.4V493.7M125 455.1V492.1M126 408.9V442.5M127 439.0V506.4M128 327.8V516.6M129 477.3V528.9M130 473.8V493.7M131 457.7V483.5M132 410.8V447.4M133 382.9V452.2M134 487.3V516.5M135 368.1V499.6M136 380.5V523.9M137 465.3V494.3M138 495.4V523.6M139 365.5V463.1M140 470.8V493.9M141 407.6V472.3M142 464.5V495.9M143 439.0V482.2M144 482.8V504.9M145 442.6V466.6M146 359.2V466.3M147 447.7V474.5M148 492.4V507.3M149 409.9V439.8M150 427.6V523.0M151 419.0V463.3M152 441.8V471.8M153 399.6V508.1M154 434.9V500.6M155 391.8V444.0M156 438.9V448.1M157 499.1V523.4M158 401.1V477.5M159 398.7V478.5M160 467.8V516.2M161 448.6V505.0M162 397.4V456.4M163 441.1V482.3M164 441.3V476.1M165 445.3V491.1M166 497.6V512.6M167 520.5V527.2M168 502.3V515.4M169 462.8V483.6M170 436.9V452.6M171 424.4V457.6M172 486.6V499.6M173 413.4V486.2M174 432.1V469.8M175 475.6V514.5M176 456.6V488.2M177 449.1V494.9M178 458.7V487.0M179 418.1V446.4M180 475.0V520.1M181 439.1V500.2M182 460.0V514.6M183 447.7V483.1M184 451.8V500.9M185 437.0V506.7M186 441.3V454.3M187 480.0V500.1M188 417.7V454.3M189 456.0V513.0M190 419.7V468.4M191 452.1V466.7M192 452.7V486.8M193 505.1V526.5M194 357.4V439.8M195 487.1V514.9M196 441.5V475.4M197 476.8V531.3M198 397.4V441.3M199 429.8V460.1M200 456.7V514.1M201 452.1V482.3M202 428.7V460.3M203 443.7V483.6M204 453.8V507.5M205 399.1V419.1M206 434.7V464.4M207 485.0V513.7M208 447.3V472.0M209 460.1V498.8M210 361.8V475.0M211 537.0V544.2M212 410.6V438.7M213 403.4V464.4M214 420.1V436.7M215 469.3V524.5M216 459.9V505.9M217 442.3V506.1M218 352.8V410.0M219 418.9V444.4M220 504.3V523.1M221 408.8V446.7M222 425.0V479.9M223 423.7V474.2M224 438.7V484.9M225 490.6V498.0M226 430.7V494.1M227 419.8V455.1M228 494.3V505.1M229 393.3V448.6M230 488.1V527.1M231 442.3V515.9M232 393.5V413.6M233 339.6V499.5M234 455.5V517.9M235 358.5V433.0M236 471.7V536.1M237 445.1V484.9M238 487.5V499.1M239 465.2V512.5M240 403.9V453.3M241 387.9V432.2M242 418.9V482.8M243 421.9V481.3M244 452.2V493.3M245 431.5V452.1M246 398.9V444.8M247 448.8V471.5M248 418.0V483.5M249 410.2V471.0M250 393.1V435.3M251 444.5V483.6M252 409.6V441.0M253 375.5V442.8M254 437.0V449.9M255 460.6V509.7M256 378.6V407.2M257 456.8V496.6M258 399.4V452.7M259 419.8V474.5M260 423.5V466.5M261 463.1V509.0M262 509.5V520.0M263 463.3V502.4M264 489.0V518.2M265 460.1V503.7M266 454.4V491.4M267 374.4V450.4M268 428.2V466.5M269 429.1V472.6M270 395.8V449.7M271 454.4V511.8M272 476.1V505.1M273 465.5V482.8M274 446.9V516.7M275 440.5V452.7M276 417.0V488.3M277 426.8V437.7M278 491.8V515.8M279 498.8V507.0M280 423.4V448.9M281 511.4V529.1M282 405.0V467.3M283 413.7V446.6M284 471.8V488.1M285 376.0V405.6M286 469.6V534.3M287 452.0V504.2M288 372.7V406.8M289 385.8V447.9M290 462.2V489.6M291 423.0V472.3M292 447.4V487.3M293 439.0V464.9M294 485.6V528.1M295 442.3V484.1M296 403.9V500.0M297 416.6V480.0M298 443.3V503.9M299 450.3V523.4M300 417.1V461.3M301 445.2V468.3M302 397.3V466.8M303 460.8V530.9M304 497.2V522.0M305 442.3V462.2M306 478.3V496.3M307 404.0V500.5M308 460.4V483.1M309 385.0V482.5M310 468.2V487.6M311 402.0V481.1M312 435.5V457.3M313 355.4V433.3M314 504.0V530.7M315 438.4V467.3M316 455.9V516.1M317 399.8V440.9M318 410.0V441.2M319 430.9V438.5M320 447.0V466.6M321 415.5V442.6M322 390.6V416.9M323 397.1V479.0M324 433.4V494.6M325 395.3V488.6M326 475.8V510.2M327 490.7V512.4M328 384.4V460.2M329 381.0V489.4M330 445.8V470.1M331 437.9V520.7M332 414.7V449.7M333 357.5V403.4M334 402.7V495.5M335 498.2V507.6M336 447.4V498.9M337 387.3V467.8M338 505.9V533.2M339 454.7V478.5M340 438.2V504.7M341 408.6V422.8M342 477.8V505.8M343 439.5V495.5M344 440.0V465.5M345 416.8V448.2"/>
<path stroke="#70b848" d="M0 461.3V472.3M1 467.0V476.1M2 349.7V363.2M3 457.6V464.5M4 438.3V444.0M5 446.5V458.1M6 383.2V390.9M7 445.2V449.2M8 454.9V466.8M9 361.5V396.0M10 418.4V422.8M11 444.8V449.6M12 421.6V430.7M13 445.5V457.7M14 426.8V434.4M15 441.8V467.5M16 390.8V403.9M17 421.0V429.6M18 452.1V458.4M19 419.2V422.3M20 400.0V414.6M21 449.5V454.7M22 432.7V447.7M23 445.7V449.8M24 425.5V429.5M25 449.9V463.9M26 461.5V486.8M27 417.4V420.3M28 412.8V420.3M29 432.9V454.4M30 301.6V309.1M31 472.1V475.9M32 374.6V375.4M33 475.1V482.9M34 446.3V452.4M35 437.8V454.7M36 466.2V471.5M37 474.1V482.5M38 480.1V492.4M39 421.6V426.1M40 401.5V408.0M41 403.4V405.3M42 437.4V457.9M43 483.0V489.1M44 406.4V410.0M45 487.3V500.1M46 456.8V463.9M47 401.0V419.6M48 420.5V423.7M49 466.8V475.1M50 425.0V431.8M51 466.6V470.4M52 378.4V383.4M53 393.3V400.6M54 404.3V422.1M55 405.1V411.8M56 426.4V435.4M57 431.1V438.5M58 426.6V438.6M59 421.8V450.9M60 430.3V435.5M61 488.1V494.6M62 440.6V445.9M63 415.3V477.9M64 389.7V405.4M65 429.6V436.3M66 372.0V375.1M67 499.5V504.3M68 459.6V467.4M69 498.7V521.4M70 443.6V469.7M71 386.4V395.4M72 357.4V363.7M73 383.1V390.7M74 451.6V464.7M75 400.7V408.4M76 349.2V357.1M77 473.2V476.6M78 386.9V399.8M79 463.5V483.7M80 395.5V418.3M81 425.5V445.8M82 442.7V445.6M83 453.7V460.1M84 440.7V450.8M85 378.7V391.9M86 448.5V454.5M87 424.7V445.8M88 410.7V412.1M89 349.0V354.2M90 410.6V438.4M91 494.2V498.1M92 436.7V454.8M93 380.6V391.2M94 506.8V508.4M95 442.7V479.9M96 464.3V476.6M97 376.0V379.3M98 403.8V411.2M99 432.9V438.3M100 351.9V360.1M101 365.3V370.0M102 372.5V394.4M103 456.9V460.7M104 455.5V472.0M105 451.6V460.9M106 370.2V389.2M108 420.0V438.7M109 478.4V482.4M110 486.2V489.1M111 499.5V503.1M112 457.2V473.8M113 393.1V408.1M114 495.1V506.5M115 478.9V489.4M116 494.0V497.9M117 429.1V443.7M118 412.4V415.7M119 483.6V491.3M120 453.2V454.8M121 442.6V443.5M122 467.7V485.4M123 443.9V482.4M124 460.5V474.4M125 448.9V454.1M126 394.7V407.9M127 420.0V438.0M128 312.0V326.8M129 456.3V476.3M131 441.2V456.7M132 398.5V409.8M133 373.8V381.9M134 479.8V486.3M135 355.7V367.1M136 375.7V379.5M137 457.4V464.3M138 488.6V494.4M139 355.8V364.5M140 415.6V469.8M141 389.4V406.6M142 460.3V463.5M143 432.7V438.0M144 471.7V481.8M145 437.5V441.6M146 346.6V358.2M147 442.5V446.7M148 481.7V491.4M149 405.9V408.9M150 423.1V426.6M151 409.8V418.0M152 431.7V440.8M153 394.2V398.6M154 432.7V433.9M155 380.3V390.8M156 414.1V437.9M157 492.7V498.1M158 394.4V400.1M159 362.0V397.7M160 463.3V466.8M161 438.5V447.6M162 382.5V396.4M163 433.9V440.1M164 434.6V440.3M165 430.1V444.3M166 470.4V496.6M167 511.2V519.5M168 488.0V501.3M169 448.9V461.8M170 420.2V435.9M171 416.0V423.4M172 472.7V485.6M173 407.2V412.4M174 417.2V431.1M175 463.4V474.6M176 450.2V455.6M177 444.8V448.1M178 429.4V457.7M179 407.3V417.1M180 452.8V474.0M181 432.3V438.1M182 450.5V459.0M183 434.0V446.7M184 441.4V450.8M185 435.2V436.0M186 438.1V440.3M187 464.0V479.0M188 412.5V416.7M189 449.7V455.0M190 410.7V418.7M191 433.6V451.1M192 428.6V451.7M193 494.5V504.1M194 353.1V356.4M195 480.8V486.1M196 426.1V440.5M197 464.5V475.8M198 383.6V396.4M199 423.4V428.8M200 444.3V455.7M201 441.3V451.1M202 421.7V427.7M203 432.5V442.7M204 434.4V452.8M205 397.5V398.1M207 470.4V484.0M208 428.4V446.3M209 458.1V459.1M210 344.9V360.8M211 529.3V536.0M212 406.8V409.6M213 395.5V402.4M214 398.1V419.1M215 450.2V468.3M216 440.7V458.9M217 437.0V441.3M218 341.7V351.8M219 404.8V417.9M220 477.9V503.3M221 405.3V407.8M222 406.8V424.0M223 416.3V422.7M224 432.6V437.7M225 466.5V489.6M226 421.8V429.7M227 397.8V418.8M228 486.8V493.3M229 385.3V392.3M230 476.8V487.1M231 434.6V441.3M232 381.2V392.5M233 324.9V338.6M234 439.0V454.5M235 341.8V357.5M236 462.2V470.7M237 415.9V444.1M238 478.0V486.5M239 458.6V464.2M240 394.9V402.9M241 381.6V386.9M242 413.6V417.9M243 412.1V420.9M244 436.7V451.2M245 411.9V430.5M246 389.2V397.9M247 427.3V447.8M248 407.6V417.0M249 385.9V409.2M251 413.4V443.5M252 406.2V408.6M253 367.2V374.5M254 386.5V436.0M255 454.1V459.6M256 372.4V377.6M257 451.4V455.8M258 391.7V398.4M259 412.8V418.8M260 403.9V422.5M261 444.9V462.1M263 456.0V462.3M264 468.1V488.0M265 449.3V459.1M266 451.1V453.4M268 419.9V427.2M269 420.0V428.1M270 386.1V394.8M271 444.8V453.4M272 466.6V475.1M273 442.1V464.5M274 441.0V445.9M275 434.1V439.5M276 409.6V416.0M277 423.6V425.8M278 479.1V490.8M279 491.8V497.8M280 402.4V422.4M281 505.3V510.4M282 392.4V404.0M283 402.3V412.7M284 465.5V470.8M285 370.6V375.0M286 465.3V468.6M287 437.2V451.0M288 354.0V371.7M289 383.8V384.8M290 457.0V461.2M291 404.4V422.0M292 440.8V446.4M293 411.3V438.0M294 468.6V484.6M295 430.8V441.3M296 399.6V402.9M297 404.0V415.6M298 435.2V442.3M299 428.3V449.3M300 408.0V416.1M301 432.9V444.2M302 392.5V396.3M303 455.8V459.8M304 400.0V496.2M305 436.9V441.3M306 473.6V477.3M307 398.2V403.0M308 451.1V459.4M309 370.3V384.0M310 459.0V467.2M311 398.8V401.0M312 430.3V434.5M313 336.1V354.4M314 498.8V503.0M315 426.4V437.4M316 443.8V454.9M317 390.9V398.8M318 406.3V409.0M319 406.0V429.9M320 433.1V446.0M321 410.4V414.5M322 376.8V389.6M323 367.0V396.1M324 425.1V432.4M325 391.3V394.3M326 448.8V474.8M327 485.6V489.7M328 380.4V383.4M329 378.6V380.0M330 435.1V444.8M331 426.1V436.9M332 409.8V413.7M333 343.5V356.5M334 391.8V401.7M335 489.7V497.2M336 445.0V446.4M337 379.8V386.3M338 501.1V504.9M339 441.9V453.7M340 432.3V437.2M341 386.9V407.6M342 471.8V476.8M343 429.7V438.5M344 428.3V439.0M345 401.3V415.8"/>
<path stroke="#40a848" d="M0 406.7V460.3M1 443.0V466.0M2 340.9V348.7M3 435.8V456.6M4 417.8V437.3M5 433.1V445.5M6 371.7V382.2M7 417.7V444.2M8 440.0V453.9M9 311.9V360.5M10 402.9V417.4M11 438.6V443.8M12 411.8V420.6M13 420.6V444.5M14 404.1V425.8M15 428.3V440.8M16 366.1V389.8M17 409.4V420.0M18 414.6V451.1M19 379.4V418.2M20 377.9V399.0M21 412.8V448.5M22 421.9V431.7M23 422.9V444.7M24 396.9V424.5M25 423.2V448.9M26 443.0V460.5M27 380.4V416.4M28 389.4V411.8M29 401.8V431.9M30 281.9V300.6M31 458.3V471.1M32 350.8V373.6M33 469.7V474.1M34 427.0V445.3M35 403.4V436.8M36 459.8V465.2M37 460.2V473.1M38 457.0V479.1M39 406.4V420.6M40 375.4V400.5M41 374.2V402.4M42 423.8V436.4M43 460.8V482.0M44 371.0V405.4M45 476.0V486.3M46 431.8V455.8M47 378.3V400.0M48 412.7V419.5M49 452.3V465.8M50 410.9V424.0M51 448.3V465.6M52 368.1V377.4M53 370.2V392.3M54 369.3V403.3M55 398.3V404.1M56 412.8V425.4M57 411.6V430.1M58 399.2V425.6M59 414.3V420.8M60 419.0V429.3M61 480.6V487.1M62 410.1V439.6M63 386.7V414.3M64 380.7V388.7M65 421.8V428.6M66 351.8V371.0M67 471.9V498.5M68 421.1V458.6M69 473.8V497.7M70 432.7V442.6M71 367.4V385.4M72 325.8V356.4M73 362.9V382.1M74 441.7V450.6M75 381.2V399.7M76 307.5V348.2M77 449.8V472.2M78 359.5V385.9M79 408.1V462.5M80 381.1V394.5M81 411.2V424.5M82 415.6V441.7M83 436.2V452.7M84 420.6V439.7M85 343.5V377.7M86 432.6V447.5M87 407.3V423.7M88 392.2V409.7M89 338.0V348.0M90 371.6V409.6M91 467.9V493.2M92 390.1V435.7M93 357.7V379.6M94 461.4V505.8M95 425.3V441.7M96 454.1V463.3M97 355.2V375.0M98 391.6V402.8M99 426.5V431.9M100 343.4V350.9M101 350.1V364.3M102 353.5V371.5M103 435.2V455.9M104 431.5V454.5M105 437.2V450.6M106 342.7V369.2M107 406.6V416.5M108 393.2V419.0M109 461.1V477.4M110 473.5V485.2M111 494.9V498.5M112 433.3V456.2M113 373.2V392.1M114 441.2V494.1M115 432.9V477.9M116 479.9V493.0M117 395.0V428.1M118 394.6V411.4M119 458.3V482.6M120 418.2V452.2M121 424.9V441.6M122 431.2V466.7M123 428.2V442.9M124 442.8V459.5M125 431.4V447.9M126 374.2V393.7M127 383.3V419.0M128 300.5V311.0M129 437.2V455.3M130 440.3V471.3M131 433.6V440.2M132 388.0V397.5M133 359.6V372.8M134 474.1V478.8M135 346.2V354.7M136 367.8V374.7M137 444.0V456.4M138 480.7V487.6M139 341.0V354.8M140 392.6V414.6M141 371.7V388.4M142 417.9V459.3M143 425.5V431.7M144 453.7V470.7M145 428.8V436.5M146 328.7V345.6M147 423.9V441.5M148 463.3V480.7M149 394.3V404.9M150 412.2V422.1M151 398.6V408.8M152 362.0V430.7M153 375.1V393.2M154 409.6V431.7M155 365.6V379.3M156 397.1V413.1M157 459.8V491.7M158 368.1V393.4M159 343.0V361.0M160 439.6V462.3M161 418.3V437.5M162 363.3V381.5M163 302.2V432.9M164 389.8V433.6M165 414.6V429.1M166 456.4V469.4M167 493.9V510.2M168 480.1V487.0M169 440.0V447.9M170 381.8V419.2M171 403.9V415.0M172 460.2V471.7M173 392.7V406.2M174 404.0V416.2M175 418.3V462.4M176 397.5V449.2M177 356.7V443.8M178 380.6V428.4M179 398.4V406.3M180 432.8V451.8M181 422.2V431.3M182 418.3V449.5M183 406.5V433.0M184 421.0V440.4M185 416.6V434.2M186 425.6V437.1M187 441.6V463.0M188 375.7V411.5M189 440.9V448.7M190 341.2V409.7M191 411.6V432.6M192 408.7V427.6M193 478.3V493.5M194 328.5V352.1M195 453.6V479.8M196 411.3V425.1M197 450.6V463.5M198 371.6V382.6M199 371.0V422.4M200 401.2V443.3M201 420.4V440.3M202 348.1V420.7M203 410.2V431.5M204 429.7V433.4M205 367.2V396.5M206 420.6V432.1M207 420.6V469.4M208 388.6V427.4M209 423.0V457.1M210 332.9V343.9M211 522.8V528.3M212 398.1V405.8M213 307.5V394.5M214 356.2V397.1M215 439.4V449.2M216 426.9V439.7M217 400.7V436.0M218 320.6V340.7M219 386.9V403.8M220 452.9V476.9M221 369.8V404.3M222 372.7V405.8M223 397.1V415.3M224 392.9V431.6M225 449.8V465.5M226 395.7V420.8M227 366.6V396.8M228 478.7V485.8M229 362.8V384.3M230 467.8V475.8M231 414.9V433.6M232 352.1V380.2M233 255.7V323.9M234 409.7V438.0M235 311.3V340.8M236 436.2V461.2M237 398.5V414.9M238 461.2V477.0M239 440.3V457.6M240 368.2V393.9M241 349.6V380.6M242 391.4V412.6M243 389.7V411.1M244 369.3V435.7M245 385.5V410.9M246 375.3V388.2M247 417.1V426.3M248 371.0V406.6M249 377.4V384.9M250 377.4V390.9M251 371.1V412.4M252 384.7V405.2M253 348.6V366.2M254 343.9V385.5M255 427.0V453.1M256 355.6V371.4M257 436.9V450.4M258 381.0V390.7M259 373.4V411.8M260 392.3V402.9M261 385.7V443.9M262 503.4V507.1M263 441.5V455.0M264 405.3V467.1M265 382.0V448.3M266 437.0V450.1M267 349.5V372.4M268 399.2V418.9M269 393.7V419.0M270 341.4V385.1M271 428.1V443.8M272 455.1V465.6M273 434.4V441.1M274 423.7V440.0M275 419.6V433.1M276 402.7V408.6M277 413.4V422.6M278 462.4V478.1M279 464.9V490.8M280 383.4V401.4M281 493.1V504.3M282 378.8V391.4M283 393.6V401.3M284 439.5V464.5M285 334.5V369.6M286 452.0V464.3M287 396.1V436.2M288 317.3V353.0M289 370.8V382.8M290 451.4V456.0M291 391.1V403.4M292 391.6V439.8M293 380.7V410.3M294 431.3V467.6M295 373.9V429.8M296 365.7V398.6M297 386.6V403.0M298 401.7V434.2M299 404.5V427.3M300 387.3V407.0M301 398.1V431.9M302 365.0V391.5M303 396.9V454.8M304 381.8V399.0M305 407.5V435.9M306 457.7V472.6M307 391.3V397.2M308 431.0V450.1M309 353.4V369.3M310 425.2V458.0M311 375.8V397.8M312 417.2V429.3M313 317.3V335.1M314 480.8V497.8M315 417.1V425.4M316 429.2V442.8M317 371.0V389.9M318 395.1V405.3M319 386.4V405.0M320 421.7V432.1M321 390.8V409.4M322 343.2V375.8M323 355.5V366.0M324 387.8V424.1M325 383.6V390.3M326 438.2V447.8M327 458.7V484.6M328 344.4V379.4M329 353.9V377.6M330 402.3V434.1M331 409.5V425.1M332 398.9V408.8M333 329.7V342.5M334 368.2V390.8M335 446.5V488.7M336 371.0V444.0M337 361.3V378.8M338 486.9V500.1M339 431.6V440.9M340 419.9V431.3M341 345.3V385.9M342 417.6V470.8M343 403.6V428.7M344 405.0V427.3M345 348.5V400.3"/>
<path stroke="#40b068" d="M0 396.5V405.7M1 438.6V442.0M2 329.7V339.9M3 403.1V434.8M4 414.3V416.8M5 407.2V432.1M6 345.7V370.7M7 382.4V416.7M8 430.7V439.0M9 306.5V310.9M10 396.2V401.9M12 369.4V410.8M13 407.2V419.6M14 400.0V403.1M15 399.3V427.3M16 344.4V365.1M17 394.7V408.4M18 400.9V413.6M19 363.9V378.4M20 369.2V376.9M21 403.0V411.8M22 417.6V420.9M23 409.4V421.9M24 390.6V395.9M25 406.7V422.2M26 426.7V442.0M27 365.7V379.4M28 383.6V388.4M29 382.7V400.8M30 252.3V280.9M31 449.8V457.3M32 342.5V349.8M33 456.5V468.7M34 421.4V426.0M35 366.1V402.4M36 439.7V458.8M37 446.9V459.2M38 452.7V456.0M39 389.3V405.4M40 364.9V374.4M41 365.4V373.2M42 418.4V422.8M43 443.0V459.8M44 361.0V370.0M45 464.3V475.0M46 411.6V430.8M47 332.2V377.3M48 405.6V411.7M49 430.9V451.3M50 391.6V409.9M51 442.5V447.3M52 356.2V367.1M53 365.7V369.2M54 342.0V368.3M55 392.9V397.3M56 393.9V411.8M57 406.2V410.6M58 369.0V398.2M59 399.6V413.3M60 416.6V418.0M61 475.4V479.6M62 391.7V409.1M63 347.5V385.7M64 371.6V379.7M65 412.5V420.8M66 342.6V350.8M67 455.7V470.9M68 407.7V420.1M69 461.8V472.8M70 411.9V431.7M71 359.5V366.4M72 309.9V324.8M73 346.2V361.9M74 433.5V440.7M75 371.2V380.2M76 302.1V306.5M77 447.2V448.8M78 356.5V358.5M79 401.0V407.1M80 374.5V380.1M81 400.7V410.2M82 410.8V414.6M83 421.1V435.2M84 409.6V419.6M85 294.7V342.5M86 412.3V431.6M87 362.6V406.3M88 383.5V391.2M89 329.7V337.0M90 364.8V370.6M91 464.5V466.9M92 384.6V389.1M93 329.9V356.7M94 458.0V460.4M95 412.9V424.3M96 444.3V453.1M97 331.9V354.2M98 388.2V390.6M99 422.8V425.5M100 335.5V342.4M101 325.3V349.1M102 336.7V352.5M103 425.6V434.2M104 425.9V430.5M105 427.8V436.2M106 333.8V341.7M107 398.6V405.6M108 382.1V392.2M109 456.2V460.1M110 464.0V472.5M111 485.3V493.9M112 414.1V432.3M113 347.1V372.2M114 438.1V440.2M115 423.0V431.9M116 475.3V478.9M117 358.7V394.0M118 380.6V393.6M119 444.4V457.3M120 393.8V417.2M121 421.6V423.9M122 422.2V430.2M123 375.7V427.2M124 437.0V441.8M125 418.8V430.4M126 363.9V373.2M127 376.5V382.3M128 295.0V299.5M129 420.4V436.2M130 437.9V439.3M131 425.7V432.6M132 357.0V387.0M133 347.1V358.6M134 465.4V473.1M135 329.7V345.2M136 352.5V366.8M137 436.3V443.0M138 452.8V479.7M139 329.4V340.0M140 382.2V391.6M141 367.6V370.7M142 403.1V416.9M143 420.6V424.5M144 420.5V452.7M145 426.0V427.8M146 322.6V327.7M147 420.4V422.9M148 452.7V462.3M149 385.6V393.3M150 402.8V411.2M151 391.9V397.6M152 356.9V361.0M153 367.6V374.1M154 405.7V408.6M155 358.2V364.6M156 372.4V396.1M157 448.4V458.8M158 351.8V367.1M159 332.2V342.0M160 412.4V438.6M161 409.0V417.3M162 353.5V362.3M163 290.0V301.2M164 387.2V388.8M165 395.2V413.6M166 452.1V455.4M167 431.9V492.9M168 463.0V479.1M169 413.8V439.0M170 378.7V380.8M171 385.0V402.9M172 445.8V459.2M173 355.1V391.7M174 393.7V403.0M175 386.5V417.3M176 387.5V396.5M177 347.2V355.7M178 371.3V379.6M179 389.7V397.4M180 421.8V431.8M181 418.4V421.2M182 407.3V417.3M183 392.3V405.5M184 411.9V420.0M185 411.0V415.6M186 419.8V424.6M187 421.0V440.6M188 367.7V374.7M189 436.3V439.9M190 336.5V340.2M191 388.5V410.6M192 402.0V407.7M193 457.0V477.3M194 312.9V327.5M195 441.0V452.6M196 401.0V410.3M197 436.7V449.6M198 353.6V370.6M199 349.8V370.0M200 396.1V400.2M201 407.5V419.4M202 341.8V347.1M203 401.1V409.2M204 419.0V428.7M205 359.6V366.2M206 396.8V419.6M207 411.7V419.6M208 375.7V387.6M209 409.6V422.0M210 308.1V331.9M211 514.6V521.8M212 381.9V397.1M213 290.9V306.5M214 323.6V355.2M215 432.0V438.4M216 418.1V425.9M217 389.3V399.7M218 314.8V319.6M219 365.0V385.9M220 431.3V451.9M221 362.1V368.8M222 362.4V371.7M223 372.0V396.1M224 384.7V391.9M225 443.3V448.8M226 380.0V394.7M227 349.6V365.6M228 448.1V477.7M229 340.6V361.8M230 462.2V466.8M231 405.4V413.9M232 347.5V351.1M233 249.6V254.7M234 399.8V408.7M235 305.8V310.3M236 422.7V435.2M237 361.9V397.5M238 458.4V460.2M239 428.0V439.3M240 343.7V367.2M241 339.1V348.6M242 380.3V390.4M243 360.6V388.7M244 360.4V368.3M245 377.4V384.5M246 367.5V374.3M247 406.7V416.1M248 360.7V370.0M249 359.2V376.4M250 365.4V376.4M251 361.8V370.1M252 367.3V383.7M253 343.5V347.6M254 327.0V342.9M255 418.3V426.0M256 343.8V354.6M257 433.6V435.9M258 371.5V380.0M259 360.8V372.4M260 365.1V391.3M261 359.9V384.7M262 477.5V502.4M263 436.9V440.5M264 398.6V404.3M265 371.5V381.0M266 425.3V436.0M267 325.3V348.5M268 396.3V398.2M269 390.2V392.7M270 329.5V340.4M271 417.8V427.1M272 423.8V454.1M273 418.8V433.4M274 414.4V422.7M275 403.6V418.6M276 392.8V401.7M277 392.1V412.4M278 414.5V461.4M279 456.7V463.9M280 367.9V382.4M281 470.2V492.1M282 366.3V377.8M283 390.8V392.6M284 420.1V438.5M285 323.1V333.5M286 434.8V451.0M287 389.3V395.1M288 309.3V316.3M289 337.4V369.8M290 446.6V450.4M291 386.4V390.1M292 372.8V390.6M293 369.6V379.7M294 425.9V430.3M295 362.3V372.9M296 331.9V364.7M297 383.2V385.6M298 371.4V400.7M299 398.3V403.5M300 374.9V386.3M301 391.4V397.1M302 353.7V364.0M303 392.5V395.9M304 351.7V380.8M305 402.8V406.5M306 434.9V456.7M307 382.1V390.3M308 423.8V430.0M309 345.6V352.4M310 419.5V424.2M311 367.2V374.8M312 402.4V416.2M313 306.9V316.3M314 452.5V479.8M315 394.6V416.1M316 423.8V428.2M317 354.3V370.0M318 373.2V394.1M319 383.3V385.4M320 415.8V420.7M321 377.3V389.8M322 330.2V342.2M323 346.4V354.5M324 384.1V386.8M325 372.6V382.6M326 432.9V437.2M327 454.7V457.7M328 336.7V343.4M329 338.6V352.9M330 385.3V401.3M331 396.5V408.5M332 390.3V397.9M333 322.6V328.7M334 363.4V367.2M335 432.8V445.5M336 348.0V370.0M337 345.0V360.3M338 483.5V485.9M339 425.4V430.6M340 413.0V418.9M341 333.6V344.3M342 393.1V416.6M343 380.1V402.6M344 394.4V404.0M345 332.8V347.5"/>
<path stroke="#40b890" d="M0 391.7V395.5M1 433.6V437.6M2 320.3V328.7M3 390.0V402.1M4 408.1V413.3M5 398.6V406.2M6 341.3V344.7M7 380.2V381.4M8 424.7V429.7M9 304.8V305.5M10 392.5V395.2M11 433.1V436.4M12 346.6V368.4M13 402.0V406.2M14 394.2V399.0M15 373.7V398.3M16 306.5V343.4M17 391.7V393.7M18 398.4V399.9M19 361.0V362.9M20 356.0V368.2M21 397.7V402.0M22 412.9V416.6M23 387.7V408.4M24 385.2V389.6M25 396.5V405.7M26 396.3V425.7M27 354.8V364.7M28 379.0V382.6M29 377.6V381.7M30 247.2V251.3M31 440.0V448.8M32 335.1V341.5M33 454.7V455.5M34 416.5V420.4M35 363.9V365.1M36 433.4V438.7M37 442.7V445.9M38 446.9V451.7M39 386.6V388.3M40 357.1V363.9M41 349.8V364.4M42 400.5V417.4M43 436.2V442.0M44 357.8V360.0M45 461.9V463.3M46 408.6V410.6M50 387.0V390.6M51 429.0V441.5M52 353.2V355.2M53 362.3V364.7M54 336.8V341.0M55 391.2V391.9M56 389.7V392.9M57 396.9V405.2M58 360.2V368.0M59 396.3V398.6M60 408.1V415.6M61 473.4V474.4M62 390.0V390.7M63 344.6V346.5M64 369.5V370.6M65 410.2V411.5M66 336.1V341.6M67 452.1V454.7M68 393.5V406.7M69 458.8V460.8M70 409.7V410.9M71 326.9V358.5M72 306.7V308.9M73 327.4V345.2M74 420.2V432.5M76 300.0V301.1M77 431.5V446.2M78 349.6V355.5M79 399.4V400.0M80 360.3V373.5M81 398.3V399.7M82 407.5V409.8M83 418.6V420.1M84 403.7V408.6M85 290.3V293.7M86 406.5V411.3M87 359.8V361.6M88 373.9V382.5M89 324.8V328.7M90 359.6V363.8M91 459.0V463.5M92 382.2V383.6M93 324.4V328.9M94 441.2V457.0M95 401.8V411.9M97 321.8V330.9M98 383.0V387.2M100 331.0V334.5M101 321.6V324.3M102 325.9V335.7M103 422.7V424.6M104 405.4V424.9M105 422.4V426.8M106 291.0V332.8M107 387.6V397.6M108 375.2V381.1M109 451.6V455.2M110 461.0V463.0M111 480.2V484.3M112 412.3V413.1M113 341.1V346.1M114 421.7V437.1M115 411.7V422.0M116 472.3V474.3M117 352.7V357.7M118 367.2V379.6M119 429.4V443.4M120 386.5V392.8M121 419.4V420.6M122 411.4V421.2M123 372.7V374.7M124 432.3V436.0M125 415.7V417.8M126 345.8V362.9M127 370.1V375.5M128 290.6V294.0M129 416.4V419.4M130 429.3V436.9M131 402.0V424.7M132 347.0V356.0M133 341.9V346.1M135 324.3V328.7M136 341.2V351.5M137 418.4V435.3M138 448.1V451.8M139 321.8V328.4M140 379.4V381.2M141 365.7V366.6M142 357.2V402.1M143 410.5V419.6M144 411.2V419.5M145 414.9V425.0M146 317.9V321.6M147 413.1V419.4M148 448.3V451.7M149 382.3V384.6M150 399.3V401.8M151 389.0V390.9M152 351.7V355.9M153 354.1V366.6M154 389.4V404.7M155 335.7V357.2M156 366.3V371.4M157 443.9V447.4M158 348.2V350.8M160 397.6V411.4M161 393.9V408.0M162 346.6V352.5M163 285.8V289.0M164 380.7V386.2M165 390.9V394.2M166 442.4V451.1M167 421.3V430.9M168 457.5V462.0M169 410.8V412.8M170 377.0V377.7M171 375.7V384.0M172 437.4V444.8M173 342.0V354.1M175 381.6V385.5M176 384.6V386.5M177 340.1V346.2M178 365.3V370.3M179 379.6V388.7M180 417.5V420.8M181 410.2V417.4M182 399.7V406.3M183 385.4V391.3M184 401.9V410.9M185 409.3V410.0M186 410.9V418.8M187 415.8V420.0M188 359.1V366.7M189 403.1V435.3M190 325.5V335.5M193 453.4V456.0M194 298.7V311.9M195 435.6V440.0M196 375.9V400.0M197 433.2V435.7M198 344.8V352.6M199 341.8V348.8M200 385.5V395.1M201 403.1V406.5M202 337.6V340.8M203 398.9V400.1M204 389.3V418.0M205 323.9V358.6M206 388.7V395.8M208 335.3V374.7M209 400.9V408.6M210 304.6V307.1M211 510.3V513.6M212 371.0V380.9M213 284.8V289.9M214 315.9V322.6M215 418.6V431.0M216 413.4V417.1M217 376.5V388.3M218 310.9V313.8M219 358.4V364.0M220 425.8V430.3M221 358.6V361.1M222 352.5V361.4M223 362.2V371.0M224 367.7V383.7M225 440.2V442.3M226 375.3V379.0M227 343.9V348.6M228 444.5V447.1M229 324.4V339.6M230 458.9V461.2M231 403.0V404.4M232 326.8V346.5M233 237.7V248.6M234 368.6V398.8M235 297.7V304.8M236 413.2V421.7M237 345.0V360.9M238 448.7V457.4M239 398.0V427.0M240 339.1V342.7M241 320.4V338.1M242 367.1V379.3M243 348.1V359.6M244 356.3V359.4M245 365.5V376.4M246 358.0V366.5M247 402.4V405.7M248 336.3V359.7M249 347.1V358.2M250 361.4V364.4M251 350.7V360.8M252 365.6V366.3M253 335.5V342.5M254 316.7V326.0M255 416.5V417.3M256 341.5V342.8M257 426.7V432.6M258 365.8V370.5M259 350.3V359.8M260 347.1V364.1M261 345.9V358.9M263 434.9V435.9M264 393.9V397.6M265 361.7V370.5M266 417.2V424.3M267 294.1V324.3M268 382.8V395.3M269 372.3V389.2M270 322.5V328.5M271 404.8V416.8M272 420.8V422.8M273 412.4V417.8M274 407.4V413.4M275 400.5V402.6M276 390.1V391.8M277 387.8V391.1M278 408.1V413.5M279 453.9V455.7M280 360.3V366.9M281 467.0V469.2M282 360.9V365.3M283 387.1V389.8M284 403.8V419.1M285 314.3V322.1M286 430.0V433.8M287 378.9V388.3M288 306.1V308.3M289 325.9V336.4M290 436.4V445.6M291 376.6V385.4M292 347.7V371.8M293 367.4V368.6M294 413.1V424.9M295 357.5V361.3M296 325.6V330.9M297 378.8V382.2M298 362.6V370.4M299 388.1V397.3M300 365.0V373.9M301 386.7V390.4M302 351.3V352.7M303 383.2V391.5M304 338.3V350.7M305 393.1V401.8M306 421.3V433.9M307 354.2V381.1M308 420.4V422.8M309 340.5V344.6M310 404.8V418.5M311 362.5V366.2M312 396.8V401.4M313 291.5V305.9M314 447.7V451.5M315 391.6V393.6M316 411.7V422.8M317 351.0V353.3M318 366.5V372.2M319 371.5V382.3M320 410.5V414.8M321 373.0V376.3M322 325.1V329.2M323 343.6V345.4M324 367.2V383.1M326 422.0V431.9M327 451.3V453.7M328 325.9V335.7M329 330.5V337.6M330 369.0V384.3M331 389.5V395.5M332 388.7V389.3M333 313.2V321.6M334 352.3V362.4M335 423.0V431.8M336 334.9V347.0M337 340.1V344.0M338 478.0V482.5M339 413.6V424.4M340 391.9V412.0M341 328.5V332.6M342 390.6V392.1M343 377.0V379.1M344 380.3V393.4M345 328.2V331.8"/>
<path stroke="#40b8a8" d="M0 367.5V390.7M1 425.7V432.6M2 309.1V319.3M3 377.1V389.0M4 405.0V407.1M5 381.9V397.6M6 327.3V340.3M7 366.5V379.2M8 396.2V423.7M9 279.5V303.8M10 374.0V391.5M11 397.0V432.1M12 335.6V345.6M13 390.3V401.0M14 386.0V393.2M15 354.1V372.7M16 278.9V305.5M17 356.3V390.7M18 391.0V397.4M19 350.6V360.0M20 340.0V355.0M21 366.7V396.7M22 377.1V411.9M23 326.0V386.7M24 369.4V384.2M25 386.2V395.5M26 346.9V395.3M27 349.2V353.8M28 359.6V378.0M29 344.2V376.6M30 241.1V246.2M31 436.1V439.0M32 316.7V334.1M33 439.3V453.7M34 346.1V415.5M35 335.4V362.9M36 414.3V432.4M37 420.6V441.7M38 415.3V445.9M39 384.0V385.6M40 343.1V356.1M41 337.4V348.8M42 387.4V399.5M43 391.2V435.2M44 339.6V356.8M45 448.9V460.9M46 402.7V407.6M47 317.3V329.6M48 381.2V403.6M49 418.4V428.9M50 376.9V386.0M51 422.2V428.0M52 340.1V352.2M53 303.6V361.3M54 325.8V335.8M55 386.1V390.2M56 383.4V388.7M57 389.4V395.9M58 331.6V359.2M59 379.6V395.3M60 347.9V407.1M61 455.2V472.4M62 378.1V389.0M63 307.8V343.6M64 355.1V368.5M65 396.4V409.2M66 331.6V335.1M67 445.6V451.1M68 385.8V392.5M69 450.7V457.8M70 388.0V408.7M71 312.5V325.9M72 291.8V305.7M73 323.9V326.4M74 412.2V419.2M75 343.6V369.0M76 292.5V299.0M77 422.6V430.5M78 323.9V348.6M79 368.0V398.4M80 345.2V359.3M81 392.2V397.3M82 370.8V406.5M83 396.6V417.6M84 392.9V402.7M85 265.1V289.3M86 396.5V405.5M87 339.7V358.8M88 366.7V372.9M89 319.7V323.8M90 354.7V358.6M91 438.3V458.0M92 363.3V381.2M93 280.3V323.4M94 425.4V440.2M95 356.3V400.8M96 425.9V442.0M97 315.4V320.8M98 373.5V382.0M99 401.4V420.3M100 323.9V330.0M101 307.8V320.6M102 287.9V324.9M103 403.9V421.7M104 375.0V404.4M105 413.7V421.4M106 272.6V290.0M107 370.8V386.6M108 363.3V374.2M109 436.4V450.6M110 451.3V460.0M111 476.8V479.2M112 402.2V411.3M113 338.1V340.1M114 412.4V420.7M115 386.6V410.7M116 464.1V471.3M117 327.0V351.7M118 357.6V366.2M119 423.5V428.4M120 374.3V385.5M121 405.9V418.4M122 406.4V410.4M123 348.8V371.7M124 386.6V431.3M125 407.3V414.7M126 337.4V344.8M127 340.8V369.1M128 286.4V289.6M129 407.3V415.4M130 423.3V428.3M131 399.8V401.0M132 341.3V346.0M133 310.2V340.9M134 450.1V462.8M135 320.0V323.3M136 320.2V340.2M137 416.3V417.4M138 443.9V447.1M139 299.0V320.8M141 333.3V364.7M142 349.1V356.2M143 394.3V409.5M144 393.0V410.2M145 405.3V413.9M146 311.6V316.9M147 390.3V412.1M148 411.7V447.3M149 345.3V381.3M150 389.5V398.3M151 372.6V388.0M152 333.3V350.7M153 339.8V353.1M154 386.0V388.4M155 328.8V334.7M156 356.0V365.3M157 428.5V442.9M158 338.6V347.2M159 315.8V329.9M160 393.1V396.6M161 376.3V392.9M162 324.8V345.6M163 275.9V284.8M164 375.0V379.7M165 359.2V389.9M166 411.1V441.4M167 412.5V420.3M168 439.6V456.5M169 384.5V409.8M170 354.9V376.0M171 354.1V374.7M172 406.2V436.4M173 331.3V341.0M174 380.5V391.3M175 341.5V380.6M176 365.3V383.6M177 334.1V339.1M178 356.6V364.3M179 367.9V378.6M180 373.2V416.5M181 386.7V409.2M182 393.7V398.7M183 359.0V384.4M184 392.8V400.9M185 402.2V408.3M186 402.1V409.9M187 411.3V414.8M188 349.4V358.1M189 400.5V402.1M190 317.7V324.5M191 382.9V386.2M192 390.3V400.4M193 447.7V452.4M194 283.9V297.7M195 411.5V434.6M196 336.8V374.9M197 428.0V432.2M198 335.9V343.8M199 317.0V340.8M200 376.0V384.5M201 363.6V402.1M202 323.8V336.6M203 374.3V397.9M204 364.6V388.3M205 308.9V322.9M206 380.7V387.7M207 379.9V409.2M208 315.1V334.3M209 371.9V399.9M210 297.8V303.6M211 505.6V509.3M212 352.8V370.0M213 273.2V283.8M214 307.8V314.9M215 407.0V417.6M216 367.1V412.4M217 361.2V375.5M218 289.5V309.9M219 347.1V357.4M220 403.7V424.8M221 347.3V357.6M222 325.0V351.5M223 350.2V361.2M224 363.6V366.7M225 434.4V439.2M226 351.5V374.3M227 333.3V342.9M228 436.0V443.5M229 303.2V323.4M230 445.2V457.9M231 358.5V402.0M232 310.8V325.8M233 229.9V236.7M234 322.3V367.6M235 289.2V296.7M236 400.5V412.2M237 331.0V344.0M238 436.0V447.7M239 389.7V397.0M240 325.3V338.1M241 279.3V319.4M242 364.0V366.1M243 314.6V347.1M244 352.3V355.3M245 343.7V364.5M246 350.3V357.0M247 389.1V401.4M248 333.0V335.3M249 336.7V346.1M250 350.9V360.4M251 343.4V349.7M252 347.6V364.6M253 329.4V334.5M254 305.0V315.7M255 404.1V415.5M256 338.5V340.5M257 386.8V425.7M258 347.2V364.8M259 334.3V349.3M260 330.4V346.1M261 316.1V344.9M262 461.6V475.3M263 427.2V433.9M264 381.7V392.9M265 348.1V360.7M266 398.9V416.2M267 279.9V293.1M268 357.9V381.8M269 366.7V371.3M270 305.3V321.5M271 371.7V403.8M272 367.7V419.8M273 385.2V411.4M274 398.7V406.4M275 390.8V399.5M276 366.0V389.1M277 376.2V386.8M278 401.5V407.1M279 404.3V452.9M280 342.8V359.3M281 445.6V466.0M282 352.8V359.9M283 377.0V386.1M284 383.8V402.8M285 307.0V313.3M286 411.0V429.0M287 353.4V377.9M288 263.9V305.1M289 320.6V324.9M290 331.6V435.4M291 358.2V375.6M292 316.9V346.7M293 351.2V366.4M294 393.3V412.1M295 312.0V356.5M296 300.8V324.6M297 346.7V377.8M298 356.8V361.6M299 379.1V387.1M300 351.4V364.0M301 364.0V385.7M302 340.7V350.3M303 376.9V382.2M304 330.6V337.3M305 382.3V392.1M306 411.4V420.3M307 339.9V353.2M308 412.8V419.4M309 317.9V339.5M310 382.3V403.8M311 349.5V361.5M312 384.8V395.8M313 284.3V290.5M314 437.1V446.7M315 385.2V390.6M316 386.5V410.7M317 321.5V350.0M318 342.7V365.5M319 343.1V370.5M320 385.6V409.5M321 348.7V372.0M322 320.6V324.1M323 318.9V342.6M324 354.6V366.2M325 358.7V370.3M326 417.1V421.0M327 441.5V450.3M328 281.7V324.9M329 321.8V329.5M330 356.4V368.0M331 358.6V388.5M332 386.2V387.7M333 307.7V312.2M334 336.2V351.3M335 404.8V422.0M336 324.0V333.9M337 332.2V339.1M338 474.4V477.0M339 409.5V412.6M340 389.1V390.9M341 304.0V327.5M342 365.0V389.6M343 365.0V376.0M344 372.8V379.3M345 310.1V327.2"/>
<path stroke="#40c8d0" d="M0 349.8V366.5M1 419.3V424.7M2 292.1V308.1M3 367.7V376.1M5 374.3V380.9M6 321.4V326.3M7 359.1V365.5M8 379.6V395.2M9 274.6V278.5M10 367.4V373.0M11 385.6V396.0M12 313.8V334.6M13 383.9V389.3M14 362.4V385.0M15 334.5V353.1M16 264.1V277.9M17 326.9V355.3M18 370.1V390.0M19 342.7V349.6M20 317.7V339.0M21 358.0V365.7M23 314.5V325.0M24 366.6V368.4M25 376.0V385.2M26 335.4V345.9M27 338.7V348.2M28 321.6V358.6M29 333.8V343.2M30 230.8V240.1M31 432.0V435.1M32 310.0V315.7M33 430.5V438.3M34 335.6V345.1M35 325.1V334.4M36 401.9V413.3M37 414.1V419.6M38 393.5V414.3M39 378.6V383.0M40 338.4V342.1M41 332.5V336.4M42 383.6V386.4M43 387.6V390.2M44 334.3V338.6M45 438.2V447.9M46 396.1V401.7M47 291.7V316.3M48 374.7V380.2M49 413.3V417.4M50 372.8V375.9M52 328.6V339.1M53 301.1V302.6M54 307.3V324.8M55 360.1V385.1M56 353.9V382.4M57 385.4V388.4M58 296.2V330.6M59 357.4V378.6M60 335.5V346.9M61 438.1V454.2M62 362.2V377.1M63 271.5V306.8M64 317.2V354.1M65 390.9V395.4M66 325.8V330.6M67 433.7V444.6M68 373.1V384.8M69 440.3V449.7M70 378.6V387.0M71 308.1V311.5M72 282.2V290.8M73 317.2V322.9M74 401.9V411.2M75 335.5V342.6M76 282.3V291.5M77 417.4V421.6M78 317.0V322.9M79 342.0V367.0M80 340.9V344.2M81 387.4V391.2M82 361.1V369.8M83 386.9V395.6M84 384.4V391.9M85 248.7V264.1M86 389.6V395.5M87 335.4V338.7M88 357.1V365.7M89 307.3V318.7M90 343.4V353.7M91 431.2V437.3M92 356.5V362.3M93 276.0V279.3M94 419.4V424.4M95 345.3V355.3M96 417.2V424.9M97 309.9V314.4M98 355.9V372.5M99 396.4V400.4M100 281.9V322.9M101 305.2V306.8M102 283.7V286.9M103 394.9V402.9M104 367.6V374.0M105 407.5V412.7M106 255.8V271.6M107 357.3V369.8M108 339.1V362.3M109 428.3V435.4M110 448.6V450.3M111 462.0V475.8M112 393.5V401.2M113 308.7V337.1M114 342.2V411.4M115 381.3V385.6M116 439.9V463.1M117 321.3V326.0M118 352.9V356.6M119 420.3V422.5M120 365.1V373.3M121 400.3V404.9M122 340.6V405.4M123 344.1V347.8M124 377.5V385.6M125 394.3V406.3M126 332.7V336.4M127 334.2V339.8M128 280.6V285.4M129 401.9V406.3M130 419.4V422.3M131 393.3V398.8M132 329.1V340.3M133 291.5V309.2M134 438.6V449.1M135 318.0V319.0M136 315.5V319.2M137 396.4V415.3M138 423.0V442.9M139 288.1V298.0M140 372.2V377.2M141 316.1V332.3M142 339.7V348.1M143 361.7V393.3M144 385.0V392.0M145 396.2V404.3M146 300.4V310.6M147 380.3V389.3M148 404.3V410.7M149 309.2V344.3M150 373.9V388.5M151 366.3V371.6M152 323.8V332.3M153 331.1V338.8M154 381.4V385.0M155 323.2V327.8M156 348.7V355.0M157 417.2V427.5M158 336.4V337.6M159 306.7V314.8M160 388.2V392.1M161 360.7V375.3M162 309.7V323.8M163 261.2V274.9M164 365.0V374.0M165 328.2V358.2M166 408.8V410.1M167 397.5V411.5M168 409.4V438.6M169 381.3V383.5M170 347.1V353.9M171 345.5V353.1M172 382.3V405.2M173 329.0V330.3M174 356.4V379.5M175 324.9V340.5M176 319.1V364.3M177 327.2V333.1M178 342.6V355.6M179 357.3V366.9M180 347.4V372.2M181 359.4V385.7M182 380.5V392.7M183 343.5V358.0M184 387.3V391.8M185 395.1V401.2M186 367.9V401.1M187 371.6V410.3M188 332.4V348.4M189 391.7V399.5M190 308.4V316.7M191 380.9V381.9M192 387.7V389.3M193 440.5V446.7M194 275.9V282.9M195 399.5V410.5M196 319.2V335.8M197 424.6V427.0M198 266.1V334.9M199 294.2V316.0M200 362.5V375.0M201 334.7V362.6M202 319.3V322.8M203 370.1V373.3M204 331.7V363.6M205 298.3V307.9M206 366.3V379.7M207 364.4V378.9M208 296.8V314.1M209 363.9V370.9M210 286.1V296.8M211 499.9V504.6M212 339.2V351.8M213 246.8V272.2M214 297.7V306.8M215 399.4V406.0M216 346.8V366.1M217 342.2V360.2M218 278.5V288.5M219 279.3V346.1M220 387.5V402.7M221 342.1V346.3M222 303.4V324.0M223 327.3V349.2M224 358.3V362.6M225 406.4V433.4M226 343.3V350.5M227 323.8V332.3M228 426.8V435.0M229 274.2V302.2M230 435.9V444.2M231 356.6V357.5M232 294.9V309.8M233 211.4V228.9M234 314.6V321.3M235 285.5V288.2M236 396.0V399.5M237 309.9V330.0M238 429.7V435.0M239 375.5V388.7M240 316.5V324.3M241 274.8V278.3M242 361.6V363.0M243 310.6V313.6M244 339.5V351.3M245 341.2V342.7M246 324.5V349.3M247 362.7V388.1M248 327.3V332.0M249 326.9V335.7M250 250.8V349.9M251 340.6V342.4M252 333.7V346.6M253 324.8V328.4M254 299.1V304.0M255 396.3V403.1M256 326.8V337.5M257 374.9V385.8M258 310.6V346.2M259 329.7V333.3M260 297.8V329.4M261 286.0V315.1M262 434.9V460.6M263 414.4V426.2M264 373.8V380.7M265 321.0V347.1M266 386.8V397.9M267 277.2V278.9M268 350.4V356.9M269 345.3V365.7M270 301.7V304.3M271 344.5V370.7M272 343.0V366.7M273 372.9V384.2M274 392.6V397.7M275 386.0V389.8M276 360.0V365.0M277 358.4V375.2M278 396.8V400.5M279 370.0V403.3M280 330.8V341.8M281 436.3V444.6M282 340.1V351.8M283 373.4V376.0M284 313.4V382.8M285 285.1V306.0M286 405.8V410.0M287 344.0V352.4M288 256.0V262.9M289 317.7V319.6M290 328.1V330.6M291 334.6V357.2M292 297.2V315.9M293 320.0V350.2M294 384.5V392.3M295 305.0V311.0M296 298.7V299.8M297 337.8V345.7M298 349.4V355.8M299 366.2V378.1M300 335.8V350.4M301 361.3V363.0M302 335.0V339.7M303 364.2V375.9M304 318.9V329.6M305 375.5V381.3M306 394.1V410.4M307 336.9V338.9M308 405.4V411.8M309 266.7V316.9M310 376.9V381.3M311 345.3V348.5M312 370.3V383.8M313 272.5V283.3M314 430.5V436.1M315 376.0V384.2M316 301.7V385.5M317 285.9V320.5M318 336.1V341.7M319 315.7V342.1M320 377.3V384.6M321 344.5V347.7M322 303.2V319.6M323 315.0V317.9M324 328.0V353.6M325 353.9V357.7M326 408.5V416.1M327 429.0V440.5M328 261.2V280.7M329 312.9V320.8M330 342.6V355.4M331 347.9V357.6M332 362.0V385.2M333 301.5V306.7M334 299.2V335.2M335 397.7V403.8M336 318.6V323.0M337 327.4V331.2M338 464.6V473.4M339 390.1V408.5M340 378.8V388.1M341 297.3V303.0M342 351.3V364.0M343 358.5V364.0M344 362.5V371.8M345 296.0V309.1"/>
<path stroke="#4098c8" d="M0 323.7V348.8M1 377.1V418.3M2 274.7V291.1M3 347.8V366.7M4 391.4V402.5M5 353.4V373.3M6 307.2V320.4M7 351.3V358.1M8 357.2V378.6M9 254.4V273.6M10 338.9V366.4M11 375.6V384.6M12 286.5V312.8M13 371.2V382.9M14 349.0V361.4M15 259.6V333.5M16 254.7V263.1M17 282.5V325.9M18 343.4V369.1M19 322.5V341.7M20 293.1V316.7M21 320.1V357.0M22 349.7V375.0M23 299.5V313.5M24 337.6V365.6M25 342.2V375.0M26 315.5V334.4M27 320.5V337.7M28 308.4V320.6M29 289.1V332.8M30 208.2V229.8M31 418.4V431.0M32 304.1V309.0M33 415.7V429.5M34 318.0V334.6M35 309.0V324.1M36 371.0V400.9M37 393.2V413.1M38 369.0V392.5M39 366.0V377.6M40 316.9V337.4M41 314.2V331.5M42 367.5V382.6M43 366.4V386.6M44 322.8V333.3M45 427.1V437.2M46 387.7V395.1M47 272.8V290.7M48 348.5V373.7M49 395.5V412.3M50 353.9V371.8M51 410.1V419.8M52 249.1V327.6M53 279.1V300.1M54 299.5V306.3M55 340.9V359.1M56 328.4V352.9M57 368.6V384.4M58 274.8V295.2M59 337.3V356.4M60 307.9V334.5M61 362.3V437.1M62 347.2V361.2M63 223.9V270.5M64 305.2V316.2M65 367.7V389.9M66 301.6V324.8M67 417.2V432.7M68 306.3V372.1M69 424.5V439.3M70 374.7V377.6M71 292.9V307.1M72 276.2V281.2M73 304.2V316.2M74 393.1V400.9M75 319.9V334.5M76 260.9V281.3M77 395.4V416.4M78 292.5V316.0M79 309.8V341.0M80 325.4V339.9M81 369.6V386.4M82 346.3V360.1M83 372.8V385.9M84 360.6V383.4M85 236.0V247.7M86 370.0V388.6M87 283.2V334.4M88 346.4V356.1M89 297.0V306.3M90 324.7V342.4M91 410.6V430.2M92 351.4V355.5M93 261.3V275.0M94 412.0V418.4M95 305.5V344.3M96 406.1V416.2M97 296.6V308.9M98 346.9V354.9M99 378.7V395.4M100 276.7V280.9M101 285.6V304.2M102 246.7V282.7M103 357.1V393.9M104 332.0V366.6M105 397.1V406.5M106 237.8V254.8M107 339.6V356.3M108 319.4V338.1M109 417.4V427.3M110 436.0V447.6M111 435.7V461.0M112 368.0V392.5M113 288.9V307.7M114 316.5V341.2M115 354.4V380.3M116 407.7V438.9M117 305.9V320.3M118 313.5V351.9M119 397.8V419.3M120 355.2V364.1M121 379.1V399.3M122 300.6V339.6M123 334.2V343.1M124 362.2V376.5M125 366.5V393.3M126 300.7V331.7M127 321.3V333.2M128 268.4V279.6M129 371.7V400.9M130 405.8V418.4M131 361.7V392.3M132 314.3V328.1M133 281.7V290.5M134 423.0V437.6M135 309.6V317.0M136 276.2V314.5M137 325.1V395.4M138 412.8V422.0M139 272.7V287.1M140 358.1V371.2M141 297.0V315.1M142 306.7V338.7M143 344.2V360.7M144 377.4V384.0M145 356.4V395.2M146 278.4V299.4M147 353.1V379.3M148 392.0V403.3M149 282.4V308.2M150 320.7V372.9M151 355.5V365.3M152 315.7V322.8M153 317.9V330.1M154 374.4V380.4M155 303.0V322.2M156 302.2V347.7M157 388.3V416.2M158 324.4V335.4M159 300.3V305.7M160 380.9V387.2M161 346.2V359.7M162 283.7V308.7M163 235.8V260.2M164 321.7V364.0M165 288.2V327.2M166 374.2V407.8M167 389.1V396.5M168 388.6V408.4M169 365.3V380.3M170 320.4V346.1M171 293.9V344.5M172 368.7V381.3M173 307.8V328.0M174 296.1V355.4M175 302.4V323.9M176 298.6V318.1M177 318.5V326.2M178 298.7V341.6M179 345.6V356.3M180 328.4V346.4M181 342.5V358.4M182 366.5V379.5M183 314.7V342.5M184 372.1V386.3M185 366.0V394.1M186 329.0V366.9M187 355.5V370.6M188 298.7V331.4M189 346.6V390.7M190 291.0V307.4M191 369.2V379.9M192 379.8V386.7M193 420.3V439.5M194 257.2V274.9M195 373.1V398.5M196 296.1V318.2M197 412.7V423.6M198 253.1V265.1M199 284.9V293.2M200 335.1V361.5M201 319.1V333.7M202 313.9V318.3M203 358.6V369.1M204 311.2V330.7M205 292.5V297.3M206 360.2V365.3M207 337.7V363.4M208 281.5V295.8M209 348.2V362.9M210 267.6V285.1M211 495.6V498.9M212 324.7V338.2M213 215.1V245.8M214 258.0V296.7M215 369.7V398.4M216 336.7V345.8M217 327.0V341.2M218 223.0V277.5M219 259.9V278.3M220 354.3V386.5M221 314.1V341.1M222 300.0V302.4M223 300.6V326.3M224 317.1V357.3M225 389.7V405.4M226 317.1V342.3M227 301.4V322.8M228 412.7V425.8M229 225.8V273.2M230 418.3V434.9M231 341.5V355.6M232 282.2V293.9M233 179.3V210.4M234 296.5V313.6M235 276.7V284.5M236 381.7V395.0M237 292.1V308.9M238 418.2V428.7M239 347.6V374.5M240 303.2V315.5M241 256.5V273.8M242 349.2V360.6M243 274.4V309.6M244 307.0V338.5M245 308.5V340.2M246 311.3V323.5M247 345.9V361.7M248 295.5V326.3M249 324.4V325.9M250 237.0V249.8M251 317.5V339.6M252 311.2V332.7M253 310.4V323.8M254 279.4V298.1M255 368.6V395.3M256 320.3V325.8M257 351.0V373.9M258 301.2V309.6M259 295.2V328.7M260 274.8V296.8M261 270.8V285.0M262 423.5V433.9M263 350.1V413.4M264 364.7V372.8M265 295.2V320.0M266 297.1V385.8M267 249.3V276.2M268 332.0V349.4M269 325.3V344.3M270 262.9V300.7M271 308.2V343.5M272 330.5V342.0M273 341.5V371.9M274 378.7V391.6M275 367.8V385.0M276 297.3V359.0M277 338.7V357.4M278 384.6V395.8M279 352.4V369.0M280 316.7V329.8M281 424.3V435.3M282 321.2V339.1M283 365.6V372.4M284 296.5V312.4M285 274.4V284.1M286 382.6V404.8M287 331.5V343.0M288 236.7V255.0M289 284.7V316.7M290 318.4V327.1M291 313.2V333.6M292 275.9V296.2M293 298.1V319.0M294 362.2V383.5M295 290.7V304.0M296 281.6V297.7M297 308.8V336.8M298 307.6V348.4M299 357.6V365.2M300 326.9V334.8M301 353.9V360.3M302 323.5V334.0M303 353.3V363.2M304 279.0V317.9M305 339.9V374.5M306 376.9V393.1M307 326.0V335.9M308 397.6V404.4M309 255.2V265.7M310 357.1V375.9M311 335.1V344.3M312 346.4V369.3M313 264.9V271.5M314 356.6V429.5M315 288.0V375.0M316 284.9V300.7M317 248.0V284.9M318 312.8V335.1M319 275.8V314.7M320 360.7V376.3M321 321.1V343.5M322 279.9V302.2M323 274.6V314.0M324 306.8V327.0M325 341.2V352.9M326 366.9V407.5M327 419.4V428.0M328 244.1V260.2M329 303.6V311.9M330 318.8V341.6M331 340.8V346.9M332 347.3V361.0M333 268.3V300.5M334 280.3V298.2M335 388.8V396.7M336 296.9V317.6M337 311.5V326.4M338 449.7V463.6M339 373.9V389.1M340 359.0V377.8M341 261.7V296.3M342 333.9V350.3M343 347.0V357.5M344 347.0V361.5M345 274.1V295.0"/>
<path stroke="#4070c0" d="M0 295.7V322.7M1 349.5V376.1M2 220.5V273.7M3 232.4V346.8M4 374.6V390.4M5 339.9V352.4M6 288.1V306.2M7 281.5V350.3M8 331.8V356.2M9 187.0V253.4M10 282.6V337.9M11 352.7V374.6M12 277.5V285.5M13 341.5V370.2M14 288.7V348.0M15 218.3V258.6M16 189.0V253.7M17 247.6V281.5M18 330.4V342.4M19 292.2V321.5M20 266.7V292.1M21 287.4V319.1M22 329.5V348.7M23 253.9V298.5M24 277.4V336.6M25 282.4V341.2M26 293.8V314.5M27 289.4V319.5M28 280.0V307.4M29 262.4V288.1M30 187.2V207.2M31 262.4V417.4M32 263.7V303.1M33 381.6V414.7M34 262.1V317.0M35 242.8V308.0M36 327.9V370.0M37 316.4V392.2M38 338.8V368.0M39 339.3V365.0M40 243.2V315.9M41 266.0V313.2M42 297.7V366.5M43 344.8V365.4M44 307.2V321.8M45 330.4V426.1M46 355.8V386.7M47 243.8V271.8M48 227.8V347.5M49 357.9V394.5M50 331.0V352.9M51 400.2V409.1M52 225.7V248.1M53 217.8V278.1M54 259.4V298.5M55 327.4V339.9M56 289.3V327.4M57 320.6V367.6M58 258.9V273.8M59 270.9V336.3M60 272.2V306.9M61 343.8V361.3M62 335.6V346.2M63 186.9V222.9M64 262.0V304.2M65 310.6V366.7M66 259.9V300.6M67 352.2V416.2M68 293.7V305.3M69 415.8V423.5M70 336.8V373.7M71 228.9V291.9M72 240.0V275.2M73 279.3V303.2M74 373.4V392.1M75 285.1V318.9M76 222.7V259.9M77 328.9V394.4M78 281.4V291.5M79 231.0V308.8M80 300.8V324.4M81 314.3V368.6M82 240.1V345.3M83 354.6V371.8M84 341.3V359.6M85 189.4V235.0M86 351.4V369.0M87 254.3V282.2M88 286.0V345.4M89 275.6V296.0M90 151.7V323.7M91 392.4V409.6M92 282.9V350.4M93 246.3V260.3M94 356.8V411.0M95 247.2V304.5M96 349.0V405.1M97 262.4V295.6M98 243.9V345.9M99 355.2V377.7M100 235.3V275.7M101 240.1V284.6M102 217.6V245.7M103 316.3V356.1M104 304.3V331.0M105 322.8V396.1M106 220.7V236.8M107 293.4V338.6M108 264.1V318.4M109 402.4V416.4M110 390.1V435.0M111 402.7V434.7M112 332.8V367.0M113 270.6V287.9M114 281.2V315.5M115 327.8V353.4M116 385.3V406.7M117 234.4V304.9M118 229.5V312.5M119 346.6V396.8M120 280.4V354.2M121 206.5V378.1M122 266.3V299.6M123 285.2V333.2M124 264.3V361.2M125 331.4V365.5M126 240.1V299.7M127 254.5V320.3M128 203.8V267.4M129 330.3V370.7M130 369.7V404.8M131 346.2V360.7M132 282.8V313.3M133 260.2V280.7M134 315.6V422.0M135 257.4V308.6M136 249.3V275.2M137 288.6V324.1M138 369.6V411.8M139 241.2V271.7M140 278.3V357.1M141 269.4V296.0M142 273.1V305.7M143 287.6V343.2M144 343.8V376.4M145 237.9V355.4M146 267.4V277.4M147 329.6V352.1M148 311.6V391.0M149 258.0V281.4M150 307.7V319.7M151 308.4V354.5M152 273.6V314.7M153 285.5V316.9M154 272.7V373.4M155 269.9V302.0M156 211.5V301.2M157 347.6V387.3M158 310.3V323.4M159 244.1V299.3M160 307.2V379.9M161 310.3V345.2M162 241.3V282.7M163 172.6V234.8M164 286.1V320.7M165 225.1V287.2M166 351.2V373.2M167 364.6V388.1M168 344.7V387.6M169 281.1V364.3M170 236.3V319.4M171 240.6V292.9M172 334.2V367.7M173 254.8V306.8M174 225.9V295.1M175 243.7V301.4M176 216.7V297.6M177 250.5V317.5M178 280.2V297.7M179 310.6V344.6M180 310.9V327.4M181 281.1V341.5M182 330.9V365.5M183 256.7V313.7M184 322.8V371.1M185 353.5V365.0M186 279.3V328.0M187 274.2V354.5M188 269.9V297.7M189 296.4V345.6M190 209.4V290.0M191 295.1V368.2M192 304.4V378.8M193 397.6V419.3M194 240.2V256.2M195 312.5V372.1M196 274.0V295.1M197 319.8V411.7M198 225.5V252.1M199 245.3V283.9M200 270.1V334.1M201 300.8V318.1M202 241.5V312.9M203 319.3V357.6M204 294.9V310.2M205 208.7V291.5M206 326.0V359.2M207 298.1V336.7M208 261.6V280.5M209 294.6V347.2M210 242.1V266.6M211 480.0V494.6M212 274.1V323.7M213 193.2V214.1M214 222.4V257.0M215 320.6V368.7M216 307.9V335.7M217 309.2V326.0M218 193.1V222.0M219 219.5V258.9M220 221.4V353.3M221 267.1V313.1M222 274.6V299.0M223 256.8V299.6M224 275.5V316.1M225 287.1V388.7M226 296.6V316.1M227 242.3V300.4M228 382.0V411.7M229 206.7V224.8M230 323.1V417.3M231 279.0V340.5M232 236.9V281.2M233 162.9V178.3M234 217.1V295.5M235 231.3V275.7M236 350.6V380.7M237 268.8V291.1M238 175.6V417.2M239 327.2V346.6M240 269.5V302.2M241 215.5V255.5M242 254.2V348.2M243 238.0V273.4M244 273.8V306.0M245 263.0V307.5M246 290.2V310.3M247 276.9V344.9M248 276.4V294.5M249 303.4V323.4M250 219.5V236.0M251 279.1V316.5M252 293.6V310.2M253 292.5V309.4M254 237.3V278.4M255 340.1V367.6M256 280.4V319.3M257 329.7V350.0M258 244.8V300.2M259 252.7V294.2M260 258.6V273.8M261 213.0V269.8M262 343.4V422.5M263 280.4V349.1M264 324.0V363.7M265 249.0V294.2M266 232.5V296.1M267 221.9V248.3M268 287.4V331.0M269 247.9V324.3M270 206.5V261.9M271 301.6V307.2M272 283.0V329.5M273 308.7V340.5M274 322.5V377.7M275 328.8V366.8M276 250.4V296.3M277 296.7V337.7M278 339.4V383.6M279 261.6V351.4M280 284.5V315.7M281 404.8V423.3M282 286.5V320.2M283 302.8V364.6M284 246.6V295.5M285 237.5V273.4M286 308.4V381.6M287 306.9V330.5M288 203.7V235.7M289 246.2V283.7M290 274.8V317.4M291 285.4V312.2M292 255.3V274.9M293 257.4V297.1M294 307.5V361.2M295 273.7V289.7M296 265.6V280.6M297 278.7V307.8M298 265.9V306.6M299 336.8V356.6M300 264.9V325.9M301 313.2V352.9M302 289.8V322.5M303 311.7V352.3M304 246.2V278.0M305 307.5V338.9M306 331.1V375.9M307 262.4V325.0M308 364.3V396.6M309 212.2V254.2M310 318.6V356.1M311 281.7V334.1M312 245.5V345.4M313 228.3V263.9M314 270.8V355.6M315 257.5V287.0M316 187.7V283.9M317 219.2V247.0M318 264.8V311.8M319 237.1V274.8M320 290.4V359.7M321 274.2V320.1M322 262.3V278.9M323 204.6V273.6M324 239.7V305.8M325 305.4V340.2M326 324.3V365.9M327 336.4V418.4M328 196.1V243.1M329 257.8V302.6M330 289.7V317.8M331 311.8V339.8M332 287.0V346.3M333 236.6V267.3M334 256.8V279.3M335 327.2V387.8M336 247.5V295.9M337 289.4V310.5M338 415.5V448.7M339 349.7V372.9M340 327.1V358.0M341 237.0V260.7M342 278.2V332.9M343 231.7V346.0M344 279.3V346.0M345 245.7V273.1"/>
<path stroke="#4050b0" d="M0 259.7V294.7M1 316.6V348.5M2 156.0V219.5M3 205.5V231.4M4 350.7V373.6M5 322.8V338.9M6 222.3V287.1M7 248.2V280.5M8 320.2V330.8M9 175.6V186.0M10 166.4V281.6M11 293.1V351.7M12 239.7V276.5M13 288.1V340.5M14 208.9V287.7M15 193.9V217.3M16 176.9V188.0M17 200.4V246.6M18 262.4V329.4M19 273.1V291.2M20 231.0V265.7M21 266.2V286.4M22 275.6V328.5M23 229.1V252.9M24 239.9V276.4M25 243.2V281.4M26 271.1V292.8M27 279.3V288.4M28 255.4V279.0M29 241.6V261.4M30 177.5V186.2M31 217.0V261.4M32 248.1V262.7M33 362.3V380.6M34 215.5V261.1M35 222.1V241.8M36 261.4V326.9M37 166.4V315.4M38 282.4V337.8M39 298.1V338.3M40 225.0V242.2M41 242.2V265.0M42 236.5V296.7M43 285.2V343.8M44 277.7V306.2M45 303.5V329.4M46 244.7V354.8M47 214.0V242.8M48 168.1V226.8M49 343.6V356.9M50 304.7V330.0M51 375.9V399.2M52 198.5V224.7M53 185.6V216.8M54 240.2V258.4M55 290.0V326.4M56 244.6V288.3M57 305.1V319.6M58 244.6V257.9M59 258.9V269.9M60 261.5V271.2M61 321.1V342.8M62 308.9V334.6M63 173.3V185.9M64 245.5V261.0M65 296.6V309.6M66 203.7V258.9M67 222.9V351.2M68 253.7V292.7M69 386.9V414.8M70 322.1V335.8M71 183.4V227.9M72 214.7V239.0M73 257.8V278.3M74 355.5V372.4M75 258.5V284.1M76 181.3V221.7M77 295.9V327.9M78 229.3V280.4M79 213.4V230.0M80 266.1V299.8M81 305.9V313.3M82 214.3V239.1M83 339.3V353.6M84 285.5V340.3M85 159.2V188.4M86 333.8V350.4M87 228.9V253.3M88 254.4V285.0M89 217.9V274.6M90 124.5V150.7M91 333.7V391.4M92 248.2V281.9M93 225.4V245.3M94 294.1V355.8M95 220.5V246.2M96 316.7V348.0M97 209.8V261.4M98 205.4V242.9M99 328.2V354.2M100 205.1V234.3M101 219.0V239.1M102 200.4V216.6M103 290.7V315.3M104 240.6V303.3M105 295.7V321.8M106 207.2V219.7M107 237.9V292.4M108 236.6V263.1M109 378.6V401.4M110 319.6V389.1M111 338.9V401.7M112 267.2V331.8M113 245.9V269.6M114 223.7V280.2M115 261.2V326.8M116 333.6V384.3M117 198.4V233.4M118 189.0V228.5M119 242.4V345.6M120 247.3V279.4M121 175.3V205.5M122 251.8V265.3M123 235.0V284.2M124 221.2V263.3M125 278.9V330.4M126 182.6V239.1M127 176.7V253.5M128 181.8V202.8M129 308.3V329.3M130 336.4V368.7M131 197.0V345.2M132 246.0V281.8M133 205.0V259.2M134 283.2V314.6M135 225.1V256.4M136 233.0V248.3M137 261.9V287.6M138 346.0V368.6M139 193.3V240.2M140 270.0V277.3M141 241.9V268.4M142 260.5V272.1M143 231.8V286.6M144 327.9V342.8M145 226.3V236.9M146 238.8V266.4M147 316.7V328.6M148 244.7V310.6M149 226.2V257.0M150 279.8V306.7M151 266.4V307.4M152 247.2V272.6M153 273.1V284.5M154 259.6V271.7M155 166.1V268.9M156 203.5V210.5M157 281.4V346.6M158 269.8V309.3M159 193.6V243.1M160 265.3V306.2M161 267.3V309.3M162 223.0V240.3M163 140.1V171.6M164 243.7V285.1M165 174.3V224.1M166 301.5V350.2M167 356.0V363.6M168 332.8V343.7M169 261.9V280.1M170 210.9V235.3M171 233.7V239.6M172 320.9V333.2M173 227.3V253.8M174 187.1V224.9M175 229.4V242.7M176 194.2V215.7M177 226.4V249.5M178 222.9V279.2M179 288.1V309.6M180 292.1V309.9M181 267.9V280.1M182 297.8V329.9M183 230.6V255.7M184 296.7V321.8M185 309.5V352.5M186 260.7V278.3M187 239.6V273.2M188 241.6V268.9M189 279.2V295.4M190 195.3V208.4M191 253.4V294.1M192 250.6V303.4M193 362.5V396.6M194 203.8V239.2M195 284.9V311.5M196 232.6V273.0M197 306.4V318.8M198 184.2V224.5M199 229.8V244.3M200 247.3V269.1M201 215.8V299.8M202 223.5V240.5M203 296.3V318.3M204 280.2V293.9M205 188.2V207.7M206 284.4V325.0M207 190.7V297.1M208 233.7V260.6M209 260.8V293.6M210 212.3V241.1M211 456.5V479.0M212 261.5V273.1M213 157.2V192.2M214 194.7V221.4M215 256.7V319.6M216 290.6V306.9M217 276.1V308.2M218 186.6V192.1M219 202.1V218.5M220 200.4V220.4M221 221.1V266.1M222 254.3V273.6M223 219.8V255.8M224 252.8V274.5M225 263.8V286.1M226 267.7V295.6M227 200.6V241.3M228 321.8V381.0M229 184.2V205.7M230 269.7V322.1M231 264.5V278.0M232 197.9V235.9M233 146.6V161.9M234 199.0V216.1M235 181.7V230.3M236 298.6V349.6M237 244.3V267.8M238 154.7V174.6M239 296.9V326.2M240 256.6V268.5M241 197.2V214.5M242 218.8V253.2M243 214.1V237.0M244 214.6V272.8M245 238.2V262.0M246 232.0V289.2M247 221.0V275.9M248 221.2V275.4M249 238.3V302.4M250 192.3V218.5M251 245.2V278.1M252 257.8V292.6M253 220.3V291.5M254 212.6V236.3M255 318.0V339.1M256 252.5V279.4M257 261.8V328.7M258 234.4V243.8M259 236.9V251.7M260 217.7V257.6M261 178.4V212.0M262 275.0V342.4M263 197.4V279.4M264 288.2V323.0M265 224.3V248.0M266 214.6V231.5M267 211.8V220.9M268 215.7V286.4M269 217.5V246.9M270 178.9V205.5M271 281.9V300.6M272 216.0V282.0M273 263.8V307.7M274 278.2V321.5M275 278.6V327.8M276 230.4V249.4M277 274.0V295.7M278 308.0V338.4M279 194.4V260.6M280 240.2V283.5M281 355.3V403.8M282 232.0V285.5M283 281.7V301.8M284 190.5V245.6M285 228.2V236.5M286 273.0V307.4M287 255.7V305.9M288 176.4V202.7M289 225.4V245.2M290 239.1V273.8M291 261.9V284.4M292 210.2V254.3M293 199.8V256.4M294 235.0V306.5M295 218.2V272.7M296 230.0V264.6M297 268.8V277.7M298 243.3V264.9M299 307.7V335.8M300 183.0V263.9M301 272.6V312.2M302 244.7V288.8M303 284.0V310.7M304 221.1V245.2M305 285.7V306.5M306 295.8V330.1M307 253.1V261.4M308 353.8V363.3M309 186.6V211.2M310 275.4V317.6M311 237.0V280.7M312 217.5V244.5M313 205.7V227.3M314 236.3V269.8M315 242.0V256.5M316 173.9V186.7M317 207.9V218.2M318 247.8V263.8M319 218.1V236.1M320 249.9V289.4M321 262.5V273.2M322 232.2V261.3M323 164.4V203.6M324 166.2V238.7M325 281.6V304.4M326 300.3V323.3M327 309.2V335.4M328 166.7V195.1M329 214.2V256.8M330 232.8V288.7M331 258.0V310.8M332 261.8V286.0M333 216.3V235.6M334 217.7V255.8M335 274.0V326.2M336 224.0V246.5M337 251.8V288.4M338 403.1V414.5M339 314.6V348.7M340 240.3V326.1M341 216.7V236.0M342 227.9V277.2M343 184.1V230.7M344 250.5V278.3M345 237.9V244.7"/>
<path stroke="#40449c" d="M0 102.9V258.7M1 157.6V315.6M2 101.2V155.0M3 119.8V204.5M4 133.5V349.7M5 203.2V321.8M6 139.4V221.3M7 146.0V247.2M8 188.9V319.2M9 147.7V174.6M10 119.7V165.4M11 196.8V292.1M12 148.0V238.7M13 202.8V287.1M14 130.4V207.9M15 145.7V192.9M16 124.5V175.9M17 106.2V199.4M18 139.6V261.4M19 195.7V272.1M20 117.0V230.0M21 219.5V265.2M22 229.2V274.6M23 160.1V228.1M24 144.8V238.9M25 199.3V242.2M26 143.8V270.1M27 184.4V278.3M28 121.7V254.4M29 128.4V240.6M30 143.2V176.5M31 146.8V216.0M32 189.0V247.1M33 306.7V361.3M34 167.3V214.5M35 188.7V221.1M36 144.8V260.4M37 112.8V165.4M38 200.6V281.4M39 233.1V297.1M40 141.6V224.0M41 153.6V241.2M42 167.5V235.5M43 139.7V284.2M44 163.0V276.7M45 136.4V302.5M46 175.0V243.7M47 166.3V213.0M48 122.5V167.1M49 293.0V342.6M50 153.1V303.7M51 246.0V374.9M52 120.5V197.5M53 110.2V184.6M54 177.1V239.2M55 142.9V289.0M56 110.3V243.6M57 225.8V304.1M58 206.2V243.6M59 91.2V257.9M60 143.8V260.5M61 156.8V320.1M62 169.6V307.9M63 98.9V172.3M64 201.6V244.5M65 235.7V295.6M66 120.2V202.7M67 101.1V221.9M68 107.3V252.7M69 109.9V385.9M70 257.4V321.1M71 100.7V182.4M72 145.9V213.7M73 191.6V256.8M74 119.2V354.5M75 147.4V257.5M76 146.1V180.3M77 156.2V294.9M78 158.8V228.3M79 134.9V212.4M80 176.0V265.1M81 159.4V304.9M82 175.7V213.3M83 228.8V338.3M84 231.4V284.5M85 130.5V158.2M86 266.1V332.8M87 101.2V227.9M88 174.8V253.4M89 151.2V216.9M90 100.9V123.5M91 190.9V332.7M92 177.2V247.2M93 125.8V224.4M94 255.5V293.1M95 123.1V219.5M96 303.5V315.7M97 171.9V208.8M98 122.2V204.4M99 167.2V327.2M100 152.7V204.1M101 155.5V218.0M102 116.2V199.4M103 194.6V289.7M104 156.9V239.6M105 161.0V294.7M106 98.0V206.2M107 200.0V236.9M108 191.8V235.6M109 302.7V377.6M110 226.7V318.6M111 147.6V337.9M112 161.3V266.2M113 196.0V244.9M114 108.4V222.7M115 129.6V260.2M116 277.7V332.6M117 158.5V197.4M118 121.2V188.0M119 122.8V241.4M120 161.5V246.3M121 90.4V174.3M122 146.7V250.8M123 186.7V234.0M124 123.7V220.2M125 178.3V277.9M126 134.4V181.6M127 129.6V175.7M128 128.0V180.8M129 246.8V307.3M130 158.1V335.4M131 175.0V196.0M132 176.7V245.0M133 121.0V204.0M134 187.5V282.2M135 140.5V224.1M136 165.5V232.0M137 144.5V260.9M138 266.1V345.0M139 96.2V192.3M140 112.9V269.0M141 162.4V240.9M142 210.0V259.5M143 104.5V230.8M144 197.1V326.9M145 123.6V225.3M146 120.9V237.8M147 253.1V315.7M148 144.4V243.7M149 158.0V225.2M150 195.5V278.8M151 232.5V265.4M152 155.1V246.2M153 177.6V272.1M154 171.0V258.6M155 140.7V165.1M156 153.4V202.5M157 143.7V280.4M158 175.7V268.8M159 124.7V192.6M160 140.6V264.3M161 201.8V266.3M162 149.8V222.0M163 100.6V139.1M164 172.2V242.7M165 151.5V173.3M166 253.3V300.5M167 186.6V355.0M168 291.8V331.8M169 167.6V260.9M170 159.2V209.9M171 160.6V232.7M172 110.7V319.9M173 185.0V226.3M174 110.0V186.1M175 165.5V228.4M176 128.9V193.2M177 114.0V225.4M178 176.3V221.9M179 147.1V287.1M180 170.7V291.1M181 189.3V266.9M182 184.3V296.8M183 170.8V229.6M184 206.0V295.7M185 102.2V308.5M186 164.7V259.7M187 126.7V238.6M188 205.0V240.6M189 196.9V278.2M190 141.7V194.3M191 168.3V252.4M192 214.9V249.6M193 127.5V361.5M194 126.1V202.8M195 213.6V283.9M196 143.3V231.6M197 134.2V305.4M198 149.0V183.2M199 131.4V228.8M200 142.8V246.3M201 162.3V214.8M202 160.9V222.5M203 177.4V295.3M204 155.2V279.2M205 119.8V187.2M206 153.7V283.4M207 109.5V189.7M208 133.8V232.7M209 194.1V259.8M210 150.1V211.3M211 113.5V455.5M212 171.9V260.5M213 113.2V156.2M214 137.4V193.7M215 108.6V255.7M216 212.7V289.6M217 180.6V275.1M218 120.0V185.6M219 137.7V201.1M220 119.3V199.4M221 132.2V220.1M222 171.0V253.3M223 116.4V218.8M224 130.6V251.8M225 242.8V262.8M226 168.2V266.7M227 120.7V199.6M228 243.2V320.8M229 132.0V183.2M230 221.9V268.7M231 128.3V263.5M232 118.6V196.9M233 97.4V145.6M234 93.1V198.0M235 145.6V180.7M236 124.3V297.6M237 193.4V243.3M238 126.0V153.7M239 210.5V295.9M240 144.6V255.6M241 138.5V196.2M242 174.6V217.8M243 143.1V213.1M244 128.2V213.6M245 165.3V237.2M246 160.0V231.0M247 179.0V220.0M248 168.2V220.2M249 214.0V237.3M250 134.8V191.3M251 173.7V244.2M252 224.6V256.8M253 180.9V219.3M254 165.4V211.6M255 186.8V317.0M256 111.7V251.5M257 206.7V260.8M258 170.2V233.4M259 181.5V235.9M260 145.6V216.7M261 100.8V177.4M262 164.1V274.0M263 91.7V196.4M264 184.5V287.2M265 126.8V223.3M266 137.0V213.6M267 150.8V210.8M268 112.6V214.7M269 165.8V216.5M270 128.1V177.9M271 194.0V280.9M272 129.8V215.0M273 176.0V262.8M274 146.7V277.2M275 152.5V277.6M276 159.3V229.4M277 125.7V273.0M278 152.5V307.0M279 146.3V193.4M280 147.2V239.2M281 220.1V354.3M282 173.1V231.0M283 242.1V280.7M284 107.9V189.5M285 175.2V227.2M286 247.4V272.0M287 107.7V254.7M288 114.5V175.4M289 116.5V224.4M290 185.1V238.1M291 211.1V260.9M292 120.3V209.2M293 141.2V198.8M294 193.9V234.0M295 119.4V217.2M296 135.6V229.0M297 158.4V267.8M298 141.9V242.3M299 138.6V306.7M300 89.3V182.0M301 194.0V271.6M302 185.9V243.7M303 214.6V283.0M304 136.0V220.1M305 212.4V284.7M306 164.1V294.8M307 196.1V252.1M308 275.7V352.8M309 124.0V185.6M310 151.1V274.4M311 179.0V236.0M312 164.5V216.5M313 153.5V204.7M314 130.0V235.3M315 119.4V241.0M316 112.8V172.9M317 141.4V206.9M318 197.5V246.8M319 150.8V217.1M320 135.3V248.9M321 141.0V261.5M322 109.4V231.2M323 137.4V163.4M324 100.7V165.2M325 95.7V280.6M326 236.9V299.3M327 226.4V308.2M328 110.1V165.7M329 149.3V213.2M330 117.7V231.8M331 157.3V257.0M332 187.5V260.8M333 161.2V215.3M334 152.6V216.7M335 159.7V273.0M336 107.1V223.0M337 193.4V250.8M338 157.2V402.1M339 190.2V313.6M340 116.3V239.3M341 116.4V215.7M342 157.8V226.9M343 151.1V183.1M344 138.6V249.5M345 166.5V236.9"/>
<path stroke="#5040a0" d="M0 99.5V101.9M1 152.4V156.6M2 93.9V100.2M3 109.4V118.8M4 130.7V132.5M5 201.4V202.2M6 125.1V138.4M7 141.3V145.0M8 176.6V187.9M9 139.1V146.7M10 104.7V118.7M11 189.5V195.8M12 139.9V147.0M13 197.9V201.8M14 125.5V129.4M15 137.3V144.7M16 107.9V123.5M17 100.0V105.2M18 121.4V138.6M19 192.2V194.7M20 99.6V116.0M21 181.7V218.5M22 223.6V228.2M23 152.1V159.1M24 137.3V143.8M25 187.4V198.3M26 133.1V142.8M27 167.2V183.4M28 116.7V120.7M29 123.4V127.4M30 133.6V142.2M31 136.9V145.8M32 185.3V188.0M33 304.8V305.7M34 161.1V166.3M35 182.2V187.7M36 135.1V143.8M37 107.3V111.8M38 196.7V199.6M39 225.4V232.1M40 129.4V140.6M41 149.8V152.6M42 158.2V166.5M44 148.6V162.0M45 126.5V135.4M46 159.2V174.0M47 157.4V165.3M48 109.8V121.5M49 283.0V292.0M50 144.2V152.1M51 236.9V245.0M52 111.2V119.5M53 101.1V109.2M54 175.3V176.1M55 138.4V141.9M56 102.7V109.3M57 220.8V224.8M58 185.5V205.2M59 86.4V90.2M60 141.9V142.8M61 150.0V155.8M62 147.3V168.6M64 198.8V200.6M65 231.8V234.7M66 87.0V119.2M67 95.1V100.1M68 101.0V106.3M70 237.2V256.4M71 96.3V99.7M72 143.7V144.9M73 181.0V190.6M74 114.9V118.2M75 144.5V146.4M76 133.1V145.1M77 149.3V155.2M78 143.8V157.8M79 132.3V133.9M80 160.8V175.0M81 156.0V158.4M82 167.5V174.7M83 225.1V227.8M84 222.2V230.4M85 117.9V129.5M86 262.4V265.1M87 86.3V100.2M88 165.8V173.8M89 143.7V150.2M90 97.1V99.9M91 183.5V189.9M92 144.6V176.2M93 109.2V124.8M94 251.2V254.5M95 115.5V122.1M96 298.4V302.5M97 163.4V170.9M98 117.5V121.2M99 163.4V166.2M100 146.3V151.7M101 127.1V154.5M102 110.7V115.2M103 188.2V193.6M104 152.6V155.9M105 155.6V160.0M106 88.8V97.0M107 196.0V199.0M108 176.4V190.8M109 298.5V301.7M110 220.5V225.7M111 145.2V146.6M112 152.5V160.3M113 167.7V195.0M114 103.8V107.4M115 121.2V128.6M116 271.7V276.7M117 149.9V157.5M118 111.1V120.2M119 119.1V121.8M120 154.7V160.5M121 87.9V89.4M122 144.8V145.7M123 168.8V185.7M124 118.7V122.7M125 173.8V177.3M126 119.6V133.4M128 125.3V127.0M129 238.0V245.8M130 151.2V157.1M131 154.9V174.0M132 160.5V175.7M133 116.2V120.0M134 181.4V186.5M135 131.0V139.5M136 158.5V164.5M137 121.7V143.5M138 259.8V265.1M139 93.8V95.2M140 109.1V111.9M141 157.4V161.4M142 202.7V209.0M143 100.6V103.5M144 191.0V196.1M145 116.4V122.6M146 113.5V119.9M147 236.8V252.1M148 142.5V143.4M149 135.9V157.0M150 189.3V194.5M151 209.1V231.5M152 142.3V154.1M153 174.4V176.6M154 166.4V170.0M155 131.0V139.7M156 130.0V152.4M157 138.5V142.7M158 161.9V174.7M159 118.3V123.7M160 136.9V139.6M161 198.0V200.8M162 146.3V148.8M163 90.4V99.6M164 136.6V171.2M165 136.9V150.5M167 177.2V185.6M168 284.2V290.8M169 162.4V166.6M171 152.5V159.6M172 101.5V109.7M173 181.1V184.0M174 106.1V109.0M175 158.2V164.5M176 124.7V127.9M177 109.9V113.0M178 172.1V175.3M179 138.6V146.1M180 166.5V169.7M181 185.7V188.3M182 181.7V183.3M183 158.8V169.8M185 93.9V101.2M186 155.0V163.7M187 104.2V125.7M188 197.0V204.0M189 184.8V195.9M190 139.8V140.7M191 160.6V167.3M192 200.0V213.9M193 122.9V126.5M194 114.2V125.1M195 205.2V212.6M196 135.2V142.3M197 116.7V133.2M198 144.3V148.0M199 126.9V130.4M200 139.5V141.8M201 149.0V161.3M202 155.7V159.9M203 160.7V176.4M204 142.0V154.2M206 149.6V152.7M207 100.6V108.5M208 126.9V132.8M209 187.8V193.1M210 141.1V149.1M211 108.8V112.5M212 151.8V170.9M213 108.9V112.2M214 133.1V136.4M215 103.5V107.6M216 205.5V211.7M217 158.1V179.6M218 112.3V119.0M219 125.4V136.7M220 113.9V118.3M221 129.3V131.2M222 162.4V170.0M223 110.7V115.4M224 126.8V129.6M225 231.7V241.8M226 164.5V167.2M227 112.7V119.7M228 233.1V242.2M229 124.4V131.0M230 218.3V220.9M231 109.4V127.3M232 110.5V117.6M233 94.8V96.4M234 86.0V92.1M235 124.6V144.6M236 116.6V123.3M237 183.8V192.4M238 122.7V125.0M239 206.0V209.5M240 124.9V143.6M241 129.2V137.5M242 161.7V173.6M243 121.9V142.1M244 108.5V127.2M245 140.3V164.3M246 150.8V159.0M247 175.2V178.0M248 159.4V167.2M249 210.4V213.0M250 130.4V133.8M251 166.4V172.7M252 207.4V223.6M253 177.0V179.9M254 158.6V164.4M255 172.0V185.8M256 92.4V110.7M257 194.9V205.7M258 163.7V169.2M259 168.3V180.5M260 139.1V144.6M261 96.0V99.8M262 136.3V163.1M263 85.5V90.7M264 181.5V183.5M265 111.6V125.8M266 131.5V136.0M267 136.3V149.8M268 105.8V111.6M269 150.9V164.8M270 119.1V127.1M271 184.3V193.0M272 126.4V128.8M273 149.4V175.0M274 139.8V145.7M275 145.1V151.5M276 155.7V158.3M277 121.9V124.7M278 144.2V151.5M279 98.9V145.3M280 143.7V146.2M281 205.0V219.1M282 161.6V172.1M283 201.6V241.1M284 101.5V106.9M285 166.7V174.2M286 236.7V246.4M287 103.4V106.7M288 102.9V113.5M289 111.9V115.5M290 178.5V184.1M291 207.4V210.1M292 109.3V119.3M293 131.7V140.2M294 185.0V192.9M295 110.0V118.4M296 131.2V134.6M297 149.6V157.4M298 129.9V140.9M299 133.5V137.6M300 86.7V88.3M301 192.3V193.0M302 179.7V184.9M303 204.4V213.6M304 134.1V135.0M305 203.6V211.4M306 159.2V163.1M307 192.1V195.1M308 270.1V274.7M309 114.1V123.0M310 148.3V150.1M311 176.7V178.0M312 157.2V163.5M313 141.5V152.5M314 126.4V129.0M315 110.5V118.4M316 108.7V111.8M317 133.9V140.4M318 184.1V196.5M319 144.1V149.8M320 121.5V134.3M321 137.6V140.0M322 103.2V108.4M323 133.0V136.4M324 93.2V99.7M325 87.4V94.7M326 232.9V235.9M327 220.5V225.4M328 106.1V109.1M329 145.4V148.3M330 105.0V116.7M331 152.9V156.3M332 178.9V186.5M333 152.4V160.2M334 141.4V151.6M335 150.8V158.7M336 93.6V106.1M337 178.7V192.4M338 153.8V156.2M339 185.4V189.2M340 107.3V115.3M341 113.4V115.4M342 151.5V156.8M343 142.4V150.1M344 127.3V137.6M345 151.4V165.5"/>
<path stroke="#6a48a8" d="M0 93.3V98.5M1 145.1V151.4M2 89.3V92.9M3 102.0V108.4M4 127.4V129.7M5 187.1V200.4M6 117.8V124.1M7 130.5V140.3M8 171.0V175.6M9 131.7V138.1M10 97.1V103.7M11 182.7V188.5M12 136.3V138.9M13 194.6V196.9M14 116.9V124.5M15 114.3V136.3M16 92.9V106.9M17 93.6V99.0M18 115.9V120.4M19 189.2V191.2M20 94.9V98.6M21 173.5V180.7M22 221.3V222.6M23 148.1V151.1M24 132.4V136.3M25 169.0V186.4M26 124.3V132.1M27 155.2V166.2M28 102.4V115.7M29 110.4V122.4M30 130.0V132.6M31 111.6V135.9M32 180.8V184.3M33 298.7V303.8M34 147.6V160.1M35 179.2V181.2M36 125.2V134.1M37 103.2V106.3M38 191.5V195.7M39 223.3V224.4M40 125.8V128.4M42 146.7V157.2M43 136.2V137.6M44 142.3V147.6M45 123.3V125.5M46 155.3V158.2M47 112.2V156.4M48 94.2V108.8M49 275.6V282.0M50 134.4V143.2M51 234.6V235.9M52 96.9V110.2M53 91.7V100.1M54 171.9V174.3M55 134.7V137.4M57 182.4V219.8M58 181.7V184.5M59 75.0V85.4M60 137.9V140.9M61 143.6V149.0M63 95.5V96.5M64 180.5V197.8M65 218.9V230.8M66 83.1V86.0M67 89.6V94.1M68 93.1V100.0M69 100.0V107.7M70 234.2V236.2M71 89.0V95.3M72 138.3V142.7M73 176.5V180.0M74 110.9V113.9M75 140.8V143.5M76 129.8V132.1M77 134.4V148.3M78 141.5V142.8M79 129.8V131.3M80 149.6V159.8M81 152.3V155.0M82 165.4V166.5M83 217.5V224.1M84 217.9V221.2M85 105.8V116.9M86 257.2V261.4M87 83.5V85.3M88 159.9V164.8M89 131.6V142.7M90 90.6V96.1M91 181.6V182.5M92 136.5V143.6M93 105.4V108.2M94 240.4V250.2M95 111.5V114.5M96 296.6V297.4M97 153.9V162.4M98 113.1V116.5M99 158.7V162.4M100 135.6V145.3M101 123.9V126.1M102 107.5V109.7M103 183.7V187.2M104 146.7V151.6M105 148.9V154.6M106 82.8V87.8M107 194.0V195.0M108 172.6V175.4M109 295.5V297.5M110 208.9V219.5M111 133.9V144.2M112 143.6V151.5M113 158.5V166.7M114 92.4V102.8M115 118.0V120.2M116 263.1V270.7M117 144.1V148.9M118 102.9V110.1M119 107.1V118.1M120 143.8V153.7M121 85.0V86.9M122 140.9V143.8M123 164.3V167.8M124 116.1V117.7M125 164.4V172.8M126 109.8V118.6M127 125.8V127.4M128 122.4V124.3M129 230.6V237.0M130 141.2V150.2M131 133.0V153.9M132 155.5V159.5M133 103.1V115.2M134 176.6V180.4M135 119.1V130.0M136 146.0V157.5M137 119.0V120.7M138 256.0V258.8M139 90.6V92.8M140 101.8V108.1M141 153.6V156.4M142 194.0V201.7M143 95.4V99.6M144 171.0V190.0M145 110.3V115.4M146 110.1V112.5M147 221.9V235.8M148 138.1V141.5M149 125.9V134.9M150 183.5V188.3M151 201.7V208.1M152 130.5V141.3M153 166.7V173.4M154 164.5V165.4M155 118.6V130.0M156 124.7V129.0M157 134.6V137.5M158 152.5V160.9M159 114.1V117.3M160 133.9V135.9M161 190.8V197.0M162 132.5V145.3M163 84.8V89.4M164 119.3V135.6M165 130.2V135.9M166 244.9V250.7M167 174.5V176.2M168 270.0V283.2M170 149.5V157.1M171 136.1V151.5M172 83.7V100.5M173 178.3V180.1M174 100.7V105.1M175 146.1V157.2M176 118.5V123.7M177 105.3V108.9M178 169.9V171.1M179 134.3V137.6M180 153.2V165.5M181 179.2V184.7M182 179.0V180.7M183 147.5V157.8M184 193.2V203.8M185 85.8V92.9M186 152.4V154.0M187 96.3V103.2M188 185.3V196.0M189 169.4V183.8M190 131.7V138.8M191 148.8V159.6M192 188.6V199.0M193 115.8V121.9M194 110.0V113.2M195 200.2V204.2M196 130.4V134.2M197 110.6V115.7M198 141.5V143.3M199 107.9V125.9M200 136.7V138.5M201 127.0V148.0M202 152.3V154.7M203 151.0V159.7M204 138.0V141.0M205 107.2V117.5M206 136.2V148.6M207 98.9V99.6M208 110.6V125.9M209 183.5V186.8M210 132.6V140.1M211 105.8V107.8M212 133.8V150.8M213 105.9V107.9M214 115.2V132.1M215 96.5V102.5M216 174.6V204.5M218 103.9V111.3M219 113.8V124.4M221 124.6V128.3M222 147.9V161.4M223 105.4V109.7M224 118.4V125.8M225 226.9V230.7M226 159.8V163.5M227 102.8V111.7M228 220.8V232.1M229 105.1V123.4M230 199.2V217.3M231 105.1V108.4M232 108.8V109.5M233 90.3V93.8M234 81.8V85.0M235 107.4V123.6M236 113.3V115.6M237 177.0V182.8M238 117.9V121.7M239 196.5V205.0M240 105.2V123.9M241 121.7V128.2M242 146.8V160.7M243 105.6V120.9M244 99.9V107.5M245 118.7V139.3M246 146.1V149.8M247 168.6V174.2M248 155.0V158.4M249 204.0V209.4M250 125.2V129.4M251 162.4V165.4M252 200.7V206.4M253 171.7V176.0M254 146.0V157.6M255 160.8V171.0M256 84.6V91.4M257 187.6V193.9M258 161.8V162.7M259 163.0V167.3M260 133.7V138.1M261 91.3V95.0M262 128.1V135.3M263 82.9V84.5M264 175.3V180.5M266 123.8V130.5M267 120.3V135.3M268 101.2V104.8M269 142.9V149.9M270 98.6V118.1M271 181.5V183.3M272 118.0V125.4M273 145.8V148.4M274 135.2V138.8M275 137.3V144.1M276 145.7V154.7M277 100.9V120.9M278 136.1V143.2M279 95.1V97.9M280 138.8V142.7M281 173.2V204.0M282 156.0V160.6M283 192.6V200.6M284 95.8V100.5M285 162.2V165.7M286 229.6V235.7M287 100.4V102.4M288 86.5V101.9M289 110.1V110.9M290 176.4V177.5M291 202.6V206.4M292 102.4V108.3M293 117.8V130.7M294 179.7V184.0M295 102.3V109.0M296 116.7V130.2M297 144.9V148.6M298 119.6V128.9M299 108.9V132.5M300 69.4V85.7M301 184.0V191.3M302 177.7V178.7M303 184.2V203.4M304 131.2V133.1M305 146.4V202.6M306 152.4V158.2M307 169.4V191.1M308 267.1V269.1M309 103.0V113.1M310 145.6V147.3M311 145.2V175.7M312 137.1V156.2M313 136.7V140.5M314 121.2V125.4M315 86.6V109.5M316 103.9V107.7M317 122.0V132.9M318 173.2V183.1M319 134.9V143.1M320 117.9V120.5M322 91.8V102.2M323 121.2V132.0M324 87.0V92.2M325 85.2V86.4M326 228.0V231.9M327 215.7V219.5M328 97.4V105.1M329 140.1V144.4M330 100.0V104.0M331 144.0V151.9M332 170.0V177.9M333 146.3V151.4M334 137.4V140.4M335 142.1V149.8M336 80.8V92.6M337 166.2V177.7M338 149.4V152.8M339 179.1V184.4M340 104.3V106.3M341 105.4V112.4M342 143.1V150.5M343 137.8V141.4M344 124.2V126.3M345 142.8V150.4"/>
<path stroke="#9040a8" d="M0 91.0V92.3M1 136.6V144.1M2 82.3V88.3M3 94.9V101.0M4 121.5V126.4M5 184.8V186.1M6 113.4V116.8M7 125.0V129.5M8 161.8V170.0M9 125.7V130.7M10 89.1V96.1M11 175.4V181.7M12 130.0V135.3M13 191.3V193.6M14 109.4V115.9M15 98.3V113.3M16 84.7V91.9M17 90.3V92.6M18 110.2V114.9M19 182.1V188.2M20 86.2V93.9M21 161.3V172.5M22 217.9V220.3M23 135.4V147.1M24 124.4V131.4M25 152.6V168.0M26 108.1V123.3M27 149.2V154.2M28 99.8V101.4M29 100.6V109.4M30 124.5V129.0M31 106.5V110.6M33 275.9V297.7M34 138.9V146.6M35 173.9V178.2M36 122.5V124.2M37 90.2V102.2M38 166.6V190.5M39 215.3V222.3M40 117.1V124.8M41 138.3V147.6M42 142.2V145.7M43 128.9V135.2M44 127.7V141.3M45 119.5V122.3M46 143.0V154.3M47 93.9V111.2M48 90.1V93.2M49 272.0V274.6M50 125.6V133.4M51 231.2V233.6M52 92.1V95.9M53 82.8V90.7M54 165.8V170.9M55 130.0V133.7M56 97.9V100.6M57 179.2V181.4M58 165.6V180.7M59 66.7V74.0M60 132.4V136.9M61 117.2V142.6M62 99.6V144.7M63 88.5V94.5M64 145.8V179.5M65 193.6V217.9M66 75.4V82.1M67 86.3V88.6M68 81.8V92.1M69 94.3V99.0M70 231.1V233.2M71 86.8V88.0M72 131.4V137.3M73 167.2V175.5M74 107.1V109.9M75 132.1V139.8M76 124.0V128.8M77 119.4V133.4M78 128.3V140.5M79 116.0V128.8M80 147.3V148.6M81 139.8V151.3M82 154.7V164.4M83 202.2V216.5M84 214.0V216.9M85 99.7V104.8M86 253.6V256.2M87 78.6V82.5M88 157.5V158.9M89 117.8V130.6M90 88.1V89.6M91 178.6V180.6M92 132.1V135.5M93 99.3V104.4M94 233.8V239.4M95 94.0V110.5M96 286.0V295.6M97 144.7V152.9M98 109.6V112.1M99 155.3V157.7M100 129.2V134.6M101 120.3V122.9M102 105.4V106.5M103 178.3V182.7M104 142.3V145.7M105 143.2V147.9M106 79.7V81.8M107 177.0V193.0M108 159.5V171.6M109 288.2V294.5M110 198.6V207.9M111 126.4V132.9M112 129.2V142.6M113 156.3V157.5M114 87.6V91.4M115 109.1V117.0M116 257.5V262.1M117 140.3V143.1M118 89.3V101.9M119 103.3V106.1M120 136.4V142.8M121 82.8V84.0M122 129.3V139.9M123 155.7V163.3M124 112.7V115.1M125 130.4V163.4M126 85.8V108.8M127 122.3V124.8M128 116.0V121.4M129 227.3V229.6M130 137.6V140.2M131 119.1V132.0M132 139.1V154.5M133 98.8V102.1M134 165.7V175.6M135 117.3V118.1M136 134.3V145.0M137 112.2V118.0M138 250.3V255.0M139 84.3V89.6M141 124.9V152.6M142 187.6V193.0M143 88.9V94.4M144 160.6V170.0M145 103.8V109.3M146 94.0V109.1M147 216.6V220.9M148 127.8V137.1M149 114.7V124.9M150 178.3V182.5M151 195.1V200.7M152 122.8V129.5M153 161.0V165.7M154 159.2V163.5M155 115.2V117.6M156 122.1V123.7M157 124.8V133.6M158 147.8V151.5M159 99.9V113.1M160 126.7V132.9M161 169.6V189.8M163 79.1V83.8M164 99.2V118.3M165 121.5V129.2M166 235.8V243.9M167 168.6V173.5M168 257.2V269.0M169 151.9V159.9M170 145.6V148.5M171 129.3V135.1M172 78.3V82.7M173 170.5V177.3M174 91.5V99.7M175 140.0V145.1M176 93.6V117.5M177 89.0V104.3M178 136.1V168.9M180 144.1V152.2M181 169.5V178.2M182 172.3V178.0M183 140.2V146.5M184 167.4V192.2M185 80.4V84.8M186 145.4V151.4M187 79.6V95.3M188 181.0V184.3M189 165.9V168.4M190 127.5V130.7M191 143.1V147.8M192 183.9V187.6M193 97.9V114.8M194 103.6V109.0M195 191.4V199.2M196 123.6V129.4M197 103.9V109.6M198 137.4V140.5M199 97.4V106.9M200 125.6V135.7M201 124.1V126.0M202 149.1V151.3M203 141.6V150.0M204 132.4V137.0M205 95.3V106.2M206 109.9V135.2M207 94.8V97.9M208 108.8V109.6M209 173.5V182.5M210 118.0V131.6M212 128.7V132.8M213 103.0V104.9M214 101.6V114.2M215 89.2V95.5M216 172.9V173.6M217 152.4V155.9M218 97.2V102.9M219 106.0V112.8M220 111.3V112.4M221 115.1V123.6M222 136.2V146.9M223 98.1V104.4M224 116.7V117.4M225 221.7V225.9M226 155.4V158.8M227 100.3V101.8M228 218.0V219.8M229 93.9V104.1M230 194.7V198.2M231 96.0V104.1M232 89.0V107.8M233 86.5V89.3M234 76.0V80.8M235 102.7V106.4M236 109.8V112.3M237 167.0V176.0M238 113.2V116.9M239 183.5V195.5M240 90.6V104.2M241 118.9V120.7M242 139.2V145.8M243 100.1V104.6M244 96.6V98.9M245 92.3V117.7M247 162.9V167.6M248 148.9V154.0M249 196.2V203.0M250 115.8V124.2M251 154.2V161.4M252 198.0V199.7M253 165.2V170.7M254 140.0V145.0M255 147.2V159.8M256 80.6V83.6M257 184.2V186.6M258 159.3V160.8M259 156.0V162.0M260 121.2V132.7M261 85.7V90.3M262 124.9V127.1M263 76.4V81.9M264 173.3V174.3M265 103.8V109.0M266 118.0V122.8M267 108.8V119.3M268 98.9V100.2M269 135.2V141.9M270 93.6V97.6M271 158.6V180.5M272 86.7V117.0M273 132.1V144.8M274 133.6V134.2M275 130.1V136.3M276 124.0V144.7M277 95.8V99.9M278 126.8V135.1M279 89.1V94.1M280 133.9V137.8M281 162.6V172.2M282 144.6V155.0M283 186.2V191.6M284 90.8V94.8M285 157.8V161.2M286 226.0V228.6M287 82.3V99.4M288 81.2V85.5M289 97.9V109.1M290 171.4V175.4M291 197.5V201.6M292 98.1V101.4M293 112.5V116.8M294 174.6V178.7M295 96.1V101.3M296 107.1V115.7M297 139.5V143.9M298 106.3V118.6M299 74.1V107.9M300 64.0V68.4M301 180.8V183.0M302 171.7V176.7M303 179.4V183.2M304 124.6V130.2M305 144.5V145.4M306 143.6V151.4M307 165.3V168.4M308 256.3V266.1M309 100.2V102.0M310 131.5V144.6M311 131.7V144.2M312 132.1V136.1M313 130.5V135.7M314 114.5V120.2M315 83.4V85.6M316 100.3V102.9M317 116.1V121.0M318 168.0V172.2M319 130.0V133.9M320 109.6V116.9M321 130.7V135.1M322 80.6V90.8M323 118.5V120.2M324 78.8V86.0M325 74.5V84.2M326 219.8V227.0M327 211.9V214.7M328 85.1V96.4M329 132.8V139.1M330 86.8V99.0M331 137.6V143.0M332 167.6V169.0M333 137.5V145.3M334 129.7V136.4M335 135.5V141.1M336 76.6V79.8M337 163.8V165.2M338 147.0V148.4M339 166.9V178.1M340 96.8V103.3M341 94.1V104.4M342 139.1V142.1M343 123.9V136.8M344 112.4V123.2M345 141.0V141.8"/>
<path stroke="#b8409c" d="M0 48.7V90.0M1 49.6V135.6M2 48.9V81.3M3 50.4V93.9M4 48.7V120.5M5 52.5V183.8M6 49.8V112.4M7 47.7V124.0M8 55.2V160.8M9 47.5V124.7M10 53.0V88.1M11 52.7V174.4M12 56.9V129.0M13 50.3V190.3M14 65.3V108.4M15 48.9V97.3M16 49.7V83.7M17 53.8V89.3M18 71.6V109.2M19 48.9V181.1M20 52.4V85.2M21 53.5V160.3M22 52.2V216.9M23 51.8V134.4M24 50.5V123.4M25 52.9V151.6M26 53.8V107.1M27 52.2V148.2M28 50.8V98.8M29 50.8V99.6M30 50.9V123.5M31 55.1V105.5M32 53.5V178.7M33 56.8V274.9M34 57.0V137.9M35 61.6V172.9M36 50.8V121.5M37 49.9V89.2M38 56.5V165.6M39 50.7V214.3M40 73.9V116.1M41 49.9V137.3M42 49.6V141.2M43 50.3V127.9M44 52.0V126.7M45 49.4V118.5M46 54.7V142.0M47 49.0V92.9M48 48.5V89.1M49 62.1V271.0M50 49.7V124.6M51 50.4V230.2M52 47.3V91.1M53 50.1V81.8M54 52.9V164.8M55 55.2V129.0M56 49.1V96.9M57 49.1V178.2M58 62.4V164.6M59 50.1V65.7M60 50.2V131.4M61 47.6V116.2M62 59.4V98.6M63 49.8V87.5M64 51.2V144.8M65 57.5V192.6M66 53.7V74.4M67 48.1V85.3M68 48.8V80.8M69 51.5V93.3M70 57.8V230.1M71 52.5V85.8M72 51.0V130.4M73 50.6V166.2M74 51.6V106.1M75 49.0V131.1M76 47.8V123.0M77 56.1V118.4M78 52.8V127.3M79 66.7V115.0M80 54.5V146.3M81 60.4V138.8M82 47.7V153.7M83 57.8V201.2M84 47.5V213.0M85 60.1V98.7M86 55.0V252.6M87 50.1V77.6M88 51.0V156.5M89 49.8V116.8M90 50.1V87.1M91 58.6V177.6M92 48.1V131.1M93 47.6V98.3M94 49.7V232.8M95 59.2V93.0M96 48.7V285.0M97 57.3V143.7M98 50.7V108.6M99 47.3V154.3M100 49.8V128.2M101 70.5V119.3M102 66.6V104.4M103 58.0V177.3M104 51.5V141.3M105 53.1V142.2M106 48.2V78.7M107 50.1V176.0M108 47.6V158.5M109 49.4V287.2M110 51.9V197.6M111 51.1V125.4M112 58.5V128.2M113 59.8V155.3M114 62.2V86.6M115 53.6V108.1M116 48.3V256.5M117 47.9V139.3M118 50.9V88.3M119 73.3V102.3M120 49.2V135.4M121 47.2V81.8M122 52.8V128.3M123 50.9V154.7M124 51.5V111.7M125 65.4V129.4M126 50.6V84.8M127 52.2V121.3M128 53.4V115.0M129 50.4V226.3M130 49.1V136.6M131 50.4V118.1M132 53.6V138.1M133 47.4V97.8M134 51.3V164.7M135 47.9V116.3M136 54.6V133.3M137 51.9V111.2M138 48.1V249.3M139 47.7V83.3M140 49.7V100.0M141 47.7V123.9M142 54.6V186.6M143 54.0V87.9M144 51.0V159.6M145 55.1V102.8M146 47.4V93.0M147 57.3V215.6M148 55.7V126.8M149 47.6V113.7M150 49.3V177.3M151 49.8V194.1M152 48.3V121.8M153 52.1V160.0M154 53.0V158.2M155 60.7V114.2M156 50.0V121.1M157 47.9V123.8M158 51.9V146.8M159 64.3V98.9M160 49.5V125.7M161 60.2V168.6M162 67.4V130.0M163 48.5V78.1M164 55.2V98.2M165 48.3V120.5M166 56.5V234.8M167 52.1V167.6M168 50.0V256.2M169 50.9V150.9M170 49.7V144.6M171 52.6V128.3M172 57.4V77.3M173 52.8V169.5M174 51.4V90.5M175 61.8V139.0M176 57.0V92.6M177 49.5V88.0M178 50.5V135.1M179 50.0V132.4M180 53.9V143.1M181 52.7V168.5M182 55.9V171.3M183 69.7V139.2M184 47.9V166.4M185 51.5V79.4M186 55.8V144.4M187 52.2V78.6M188 46.6V180.0M189 54.7V164.9M190 48.0V126.5M191 48.8V142.1M192 47.4V182.9M193 47.8V96.9M194 52.4V102.6M195 52.3V190.4M196 57.3V122.6M197 52.3V102.9M198 56.8V136.4M199 49.1V96.4M200 47.6V124.6M201 50.3V123.1M202 69.8V148.1M203 52.3V140.6M204 47.9V131.4M205 50.8V94.3M206 51.0V108.9M207 50.7V93.8M208 57.2V107.8M209 59.0V172.5M210 47.6V117.0M211 46.5V103.4M212 66.2V127.7M213 50.8V102.0M214 49.1V100.6M215 53.1V88.2M216 50.0V171.9M217 47.8V151.4M218 55.3V96.2M219 51.3V105.0M220 50.3V110.3M221 71.7V114.1M222 61.1V135.2M223 54.5V97.1M224 51.7V115.7M225 53.4V220.7M226 50.2V154.4M227 49.2V99.3M228 53.9V217.0M229 53.8V92.9M230 55.3V193.7M231 53.0V95.0M232 47.3V88.0M233 52.8V85.5M234 47.6V75.0M235 52.9V101.7M236 55.2V108.8M237 49.0V166.0M238 50.1V112.2M239 50.2V182.5M240 54.9V89.6M241 51.5V117.9M242 59.6V138.2M243 51.0V99.1M244 46.9V95.6M245 52.9V91.3M246 52.1V143.8M247 52.0V161.9M248 50.4V147.9M249 48.0V195.2M250 48.1V114.8M251 51.8V153.2M252 52.8V197.0M253 52.2V164.2M254 48.6V139.0M255 55.2V146.2M256 48.9V79.6M257 50.8V183.2M258 52.0V158.3M259 49.0V155.0M260 49.2V120.2M261 51.7V84.7M262 47.6V123.9M263 57.2V75.4M264 48.5V172.3M265 48.0V102.8M266 62.2V117.0M267 69.5V107.8M268 50.0V97.9M269 56.8V134.2M270 50.3V92.6M271 50.9V157.6M272 52.9V85.7M273 49.4V131.1M274 51.0V132.6M275 55.2V129.1M276 53.0V123.0M277 53.2V94.8M278 54.3V125.8M279 49.2V88.1M280 52.0V132.9M281 51.8V161.6M282 50.6V143.6M283 58.4V185.2M284 48.1V89.8M285 53.9V156.8M286 58.6V225.0M287 50.0V81.3M288 48.8V80.2M289 47.5V96.9M290 56.7V170.4M291 48.9V196.5M292 57.6V97.1M293 52.5V111.5M294 50.7V173.6M295 50.3V95.1M296 48.1V106.1M297 50.4V138.5M298 50.4V105.3M299 48.3V73.1M300 51.7V63.0M301 51.9V179.8M302 52.6V170.7M303 50.8V178.4M304 47.9V123.6M305 54.9V143.5M306 58.9V142.6M307 47.6V164.3M308 53.0V255.3M309 56.6V99.2M310 52.3V130.5M311 47.9V130.7M312 51.2V131.1M313 56.8V129.5M314 47.7V113.5M315 51.4V82.4M316 49.4V99.3M317 55.8V115.1M318 68.6V167.0M319 54.0V129.0M320 56.8V108.6M321 53.8V129.7M322 51.0V79.6M323 53.2V117.5M324 49.8V77.8M325 48.4V73.5M326 53.3V218.8M327 51.2V210.9M328 52.9V84.1M329 50.7V131.8M330 49.1V85.8M331 47.2V136.6M332 48.7V166.6M333 61.1V136.5M334 50.3V128.7M335 51.0V134.5M336 50.3V75.6M337 53.2V162.8M338 49.8V146.0M339 49.4V165.9M340 49.9V95.8M341 53.4V93.1M342 49.7V138.1M343 50.3V122.9M344 50.9V111.4M345 60.1V140.0"/>
<path stroke="#b84070" d="M3 47.7V49.4M8 50.7V54.2M10 51.2V52.0M11 48.7V51.7M12 49.3V55.9M13 47.6V49.3M14 61.5V64.3M16 47.5V48.7M17 48.1V52.8M18 47.9V70.6M20 46.9V51.4M21 49.5V52.5M22 47.4V51.2M23 48.2V50.8M24 46.9V49.5M26 51.1V52.8M27 46.1V51.2M29 47.8V49.8M30 47.3V49.9M31 49.0V54.1M32 51.1V52.5M33 49.8V55.8M34 47.1V56.0M35 57.8V60.6M36 48.8V49.8M37 48.3V48.9M38 47.8V55.5M39 47.7V49.7M40 66.7V72.9M41 47.8V48.9M42 47.3V48.6M43 47.3V49.3M44 49.8V51.0M45 47.6V48.4M46 51.5V53.7M48 46.4V47.5M49 46.3V61.1M50 47.6V48.7M51 47.8V49.4M53 47.3V49.1M54 47.8V51.9M55 51.6V54.2M57 47.4V48.1M58 51.5V61.4M60 48.0V49.2M62 53.5V58.4M63 47.8V48.8M65 55.6V56.5M68 46.5V47.8M69 46.3V50.5M70 55.3V56.8M71 47.4V51.5M74 48.1V50.6M75 47.3V48.0M77 48.3V55.1M78 47.0V51.8M79 48.3V65.7M80 49.3V53.5M83 47.7V56.8M85 49.4V59.1M86 48.7V54.0M87 47.7V49.1M88 47.9V50.0M89 47.1V48.8M91 48.6V57.6M95 51.8V58.2M97 49.1V56.3M98 48.0V49.7M100 46.1V48.8M101 62.9V69.5M102 58.6V65.6M103 53.6V57.0M104 48.5V50.5M105 48.5V52.1M106 46.4V47.2M107 46.4V49.1M110 47.4V50.9M111 46.8V50.1M112 50.3V57.5M114 47.5V61.2M115 48.3V52.6M116 46.3V47.3M118 48.0V49.9M119 48.9V72.3M123 46.3V49.9M124 49.4V50.5M125 56.5V64.4M126 47.7V49.6M127 47.9V51.2M128 47.1V52.4M129 47.8V49.4M130 47.0V48.1M131 46.9V49.4M132 47.5V52.6M136 48.6V53.6M137 48.3V50.9M142 48.9V53.6M143 50.9V53.0M144 48.4V50.0M145 48.5V54.1M147 55.4V56.3M148 46.5V54.7M151 47.2V48.8M153 50.3V51.1M154 51.1V52.0M155 56.9V59.7M156 47.9V49.0M157 46.3V46.9M158 50.1V50.9M159 62.2V63.3M161 48.6V59.2M162 47.5V66.4M166 48.8V55.5M167 48.8V51.1M168 47.8V49.0M170 46.5V48.7M172 48.3V56.4M173 47.0V51.8M174 46.6V50.4M175 55.4V60.8M176 46.7V56.0M178 47.2V49.5M179 46.6V49.0M180 49.6V52.9M182 52.0V54.9M183 47.3V68.7M185 48.4V50.5M186 53.5V54.8M187 47.5V51.2M189 51.9V53.7M191 46.1V47.8M195 47.4V51.3M196 54.2V56.3M197 50.0V51.3M198 53.2V55.8M199 46.6V48.1M202 50.2V68.8M203 46.3V51.3M205 48.7V49.8M206 46.4V50.0M207 48.7V49.7M209 57.0V58.0M212 57.9V65.2M216 46.9V49.0M218 47.0V54.3M219 46.4V50.3M220 46.9V49.3M221 47.2V70.7M222 58.4V60.1M225 51.8V52.4M228 50.3V52.9M229 51.9V52.8M230 47.0V54.3M231 48.7V52.0M233 50.0V51.8M235 50.9V51.9M236 48.4V54.2M239 48.4V49.2M240 46.9V53.9M241 46.8V50.5M242 55.0V58.6M243 47.9V50.0M248 47.8V49.4M251 49.9V50.8M252 47.0V51.8M253 47.5V51.2M255 50.7V54.2M257 48.5V49.8M258 48.6V51.0M259 46.4V48.0M261 48.0V50.7M263 55.5V56.2M265 46.2V47.0M266 48.9V61.2M267 46.6V68.5M268 47.6V49.0M269 50.9V55.8M270 46.4V49.3M271 49.2V49.9M272 48.5V51.9M273 47.0V48.4M274 47.1V50.0M275 46.0V54.2M276 46.9V52.0M277 49.2V52.2M278 51.0V53.3M279 46.6V48.2M280 48.8V51.0M281 49.1V50.8M282 47.0V49.6M284 46.5V47.1M285 52.0V52.9M287 47.0V49.0M288 46.4V47.8M290 47.6V55.7M292 53.2V56.6M293 48.6V51.5M294 46.6V49.7M296 46.5V47.1M298 48.1V49.4M299 46.6V47.3M300 49.8V50.7M301 49.3V50.9M302 48.7V51.6M303 48.2V49.8M305 52.5V53.9M308 46.4V52.0M309 49.2V55.6M310 49.0V51.3M312 49.4V50.2M315 49.4V50.4M316 47.3V48.4M317 47.1V54.8M318 62.6V67.6M319 48.9V53.0M320 50.8V55.8M321 47.6V52.8M322 49.3V50.0M323 51.1V52.2M324 47.7V48.8M325 46.4V47.4M326 47.3V52.3M327 48.1V50.2M328 50.3V51.9M329 48.4V49.7M330 46.0V48.1M333 47.6V60.1M334 47.6V49.3M335 48.8V50.0M336 47.4V49.3M339 47.1V48.4M340 48.0V48.9M341 47.5V52.4M342 47.2V48.7M343 48.3V49.3M344 48.5V49.9"/>
<path stroke="#b84050" d="M0 45.8V47.2M1 45.8V47.7M2 45.8V46.6M3 45.8V46.7M5 45.8V50.2M6 45.8V47.3M8 45.8V49.7M10 45.8V50.2M11 45.8V47.7M12 45.8V48.3M13 45.8V46.6M14 45.8V60.5M15 45.8V46.6M16 45.8V46.5M17 45.8V47.1M18 45.8V46.9M19 45.8V47.3M21 45.8V48.5M22 45.8V46.4M23 45.8V47.2M25 45.8V51.3M26 45.8V50.1M28 45.8V48.3M29 45.8V46.8M31 45.8V48.0M32 45.8V50.1M33 45.8V48.8M35 45.8V56.8M36 45.8V47.8M37 45.8V47.3M38 45.8V46.8M39 45.8V46.7M40 45.8V65.7M41 45.8V46.8M44 45.8V48.8M45 45.8V46.6M46 45.8V50.5M47 45.8V46.7M50 45.8V46.6M51 45.8V46.8M54 45.8V46.8M55 45.8V50.6M56 45.8V47.3M57 45.8V46.4M58 45.8V50.5M59 45.8V47.8M60 45.8V47.0M62 45.8V52.5M63 45.8V46.8M64 45.8V49.1M65 45.8V54.6M66 45.8V52.0M70 45.8V54.3M72 45.8V49.1M73 45.8V48.1M74 45.8V47.1M77 45.8V47.3M79 45.8V47.3M80 45.8V48.3M81 45.8V58.8M83 45.8V46.7M85 45.8V48.4M86 45.8V47.7M87 45.8V46.7M88 45.8V46.9M90 45.8V47.6M91 45.8V47.6M94 45.8V47.7M95 45.8V50.8M96 45.8V46.6M97 45.8V48.1M98 45.8V47.0M101 45.8V61.9M102 45.8V57.6M103 45.8V52.6M104 45.8V47.5M105 45.8V47.5M109 45.8V47.1M112 45.8V49.3M113 45.8V57.3M114 45.8V46.5M115 45.8V47.3M118 45.8V47.0M119 45.8V47.9M120 45.8V47.6M122 45.8V50.3M124 45.8V48.4M125 45.8V55.5M126 45.8V46.7M127 45.8V46.9M129 45.8V46.8M132 45.8V46.5M134 45.8V49.7M136 45.8V47.6M137 45.8V47.3M138 45.8V46.8M140 45.8V47.6M142 45.8V47.9M143 45.8V49.9M144 45.8V47.4M145 45.8V47.5M147 45.8V54.4M150 45.8V46.8M152 45.8V46.6M153 45.8V49.3M154 45.8V50.1M155 45.8V55.9M156 45.8V46.9M158 45.8V49.1M159 45.8V61.2M160 45.8V47.4M161 45.8V47.6M162 45.8V46.5M164 45.8V53.0M165 45.8V46.5M166 45.8V47.8M167 45.8V47.8M168 45.8V46.8M169 45.8V49.0M171 45.8V50.0M172 45.8V47.3M175 45.8V54.4M177 45.8V48.1M180 45.8V48.6M181 45.8V50.9M182 45.8V51.0M185 45.8V47.4M186 45.8V52.5M187 45.8V46.5M189 45.8V50.9M194 45.8V50.3M195 45.8V46.4M196 45.8V53.2M197 45.8V49.0M198 45.8V52.2M201 45.8V47.9M202 45.8V49.2M204 45.8V46.5M205 45.8V47.7M207 45.8V47.7M208 45.8V55.5M209 45.8V56.0M212 45.8V56.9M213 45.8V48.8M214 45.8V46.8M215 45.8V51.0M222 45.8V57.4M223 45.8V52.7M224 45.8V49.2M225 45.8V50.8M226 45.8V48.0M227 45.8V47.0M228 45.8V49.3M229 45.8V50.9M231 45.8V47.7M233 45.8V49.0M235 45.8V49.9M236 45.8V47.4M237 45.8V47.8M238 45.8V48.2M239 45.8V47.4M242 45.8V54.0M243 45.8V46.9M245 45.8V50.5M246 45.8V50.4M247 45.8V50.4M248 45.8V46.8M249 45.8V46.6M250 45.8V46.5M251 45.8V48.9M253 45.8V46.5M254 45.8V47.2M255 45.8V49.7M256 45.8V46.9M257 45.8V47.5M258 45.8V47.6M260 45.8V47.4M261 45.8V47.0M263 45.8V54.5M264 45.8V46.6M266 45.8V47.9M268 45.8V46.6M269 45.8V49.9M271 45.8V48.2M272 45.8V47.5M277 45.8V48.2M278 45.8V50.0M280 45.8V47.8M281 45.8V48.1M283 45.8V56.1M285 45.8V51.0M286 45.8V57.1M290 45.8V46.6M291 45.8V47.1M292 45.8V52.2M293 45.8V47.6M295 45.8V48.2M297 45.8V48.0M298 45.8V47.1M300 45.8V48.8M301 45.8V48.3M302 45.8V47.7M303 45.8V47.2M305 45.8V51.5M306 45.8V56.7M309 45.8V48.2M310 45.8V48.0M312 45.8V48.4M313 45.8V54.3M315 45.8V48.4M318 45.8V61.6M319 45.8V47.9M320 45.8V49.8M321 45.8V46.6M322 45.8V48.3M323 45.8V50.1M324 45.8V46.7M327 45.8V47.1M328 45.8V49.3M329 45.8V47.4M332 45.8V47.0M333 45.8V46.6M334 45.8V46.6M335 45.8V47.8M336 45.8V46.4M337 45.8V50.8M338 45.8V48.0M340 45.8V47.0M341 45.8V46.5M343 45.8V47.3M344 45.8V47.5M345 45.8V58.5"/>
</g>
<path d="M77 45.3V590.9" stroke="#666" stroke-width="1.3" fill="none"/>
<path d="M74.5 590.9H77.6" stroke="#666" stroke-width="1.3"/>
<text x="75.5" y="597.4" font-size="18.2" text-anchor="end">0%</text>
<path d="M74.5 481.8H77.6" stroke="#666" stroke-width="1.3"/>
<text x="75.5" y="488.3" font-size="18.2" text-anchor="end">20%</text>
<path d="M74.5 372.7H77.6" stroke="#666" stroke-width="1.3"/>
<text x="75.5" y="379.2" font-size="18.2" text-anchor="end">40%</text>
<path d="M74.5 263.5H77.6" stroke="#666" stroke-width="1.3"/>
<text x="75.5" y="270.0" font-size="18.2" text-anchor="end">60%</text>
<path d="M74.5 154.4H77.6" stroke="#666" stroke-width="1.3"/>
<text x="75.5" y="160.9" font-size="18.2" text-anchor="end">80%</text>
<path d="M74.5 45.3H77.6" stroke="#666" stroke-width="1.3"/>
<text x="75.5" y="51.8" font-size="18.2" text-anchor="end">100%</text>
<path d="M126 596.5H1318.5" stroke="#666" stroke-width="1.6"/>
<text x="31.3" y="320.2" font-size="21.9" text-anchor="middle" transform="rotate(-90 31.3 320.2)">Relative Percent</text>
<text x="2.5" y="29.9" font-size="39">A</text>
<rect x="1352.9" y="60.8" width="7.2" height="7.2" fill="#a13841"/>
<text x="1371.0" y="70.3" font-size="16">B cells naive</text>
<rect x="1352.9" y="79.6" width="7.2" height="7.2" fill="#a85438"/>
<text x="1371.0" y="89.1" font-size="16">B cells memory</text>
<rect x="1352.9" y="98.5" width="7.2" height="7.2" fill="#b0793f"/>
<text x="1371.0" y="108.0" font-size="16">Plasma cells</text>
<rect x="1352.9" y="117.3" width="7.2" height="7.2" fill="#b09541"/>
<text x="1371.0" y="126.8" font-size="16">T cells CD8</text>
<rect x="1352.9" y="136.1" width="7.2" height="7.2" fill="#a5a841"/>
<text x="1371.0" y="145.6" font-size="16">T cells CD4 naive</text>
<rect x="1352.9" y="154.9" width="7.2" height="7.2" fill="#93b34a"/>
<text x="1371.0" y="164.4" font-size="16">T cells CD4 memory resting</text>
<rect x="1352.9" y="173.8" width="7.2" height="7.2" fill="#62a13f"/>
<text x="1371.0" y="183.3" font-size="16">T cells CD4 memory activated</text>
<rect x="1352.9" y="192.6" width="7.2" height="7.2" fill="#38933f"/>
<text x="1371.0" y="202.1" font-size="16">T cells follicular helper</text>
<rect x="1352.9" y="211.4" width="7.2" height="7.2" fill="#389a5b"/>
<text x="1371.0" y="220.9" font-size="16">T cells regulatory (Tregs)</text>
<rect x="1352.9" y="230.3" width="7.2" height="7.2" fill="#38a17e"/>
<text x="1371.0" y="239.8" font-size="16">T cells gamma delta</text>
<rect x="1352.9" y="249.1" width="7.2" height="7.2" fill="#38a193"/>
<text x="1371.0" y="258.6" font-size="16">NK cells resting</text>
<rect x="1352.9" y="267.9" width="7.2" height="7.2" fill="#38b0b7"/>
<text x="1371.0" y="277.4" font-size="16">NK cells activated</text>
<rect x="1352.9" y="286.8" width="7.2" height="7.2" fill="#3885b0"/>
<text x="1371.0" y="296.3" font-size="16">Monocytes</text>
<rect x="1352.9" y="305.6" width="7.2" height="7.2" fill="#3862a8"/>
<text x="1371.0" y="315.1" font-size="16">Macrophages M0</text>
<rect x="1352.9" y="324.4" width="7.2" height="7.2" fill="#38469a"/>
<text x="1371.0" y="333.9" font-size="16">Macrophages M1</text>
<rect x="1352.9" y="343.2" width="7.2" height="7.2" fill="#383b89"/>
<text x="1371.0" y="352.8" font-size="16">Macrophages M2</text>
<rect x="1352.9" y="362.1" width="7.2" height="7.2" fill="#46388c"/>
<text x="1371.0" y="371.6" font-size="16">Dendritic cells resting</text>
<rect x="1352.9" y="380.9" width="7.2" height="7.2" fill="#5d3f93"/>
<text x="1371.0" y="390.4" font-size="16">Dendritic cells activated</text>
<rect x="1352.9" y="399.7" width="7.2" height="7.2" fill="#7e3893"/>
<text x="1371.0" y="409.2" font-size="16">Mast cells resting</text>
<rect x="1352.9" y="418.6" width="7.2" height="7.2" fill="#a13889"/>
<text x="1371.0" y="428.1" font-size="16">Mast cells activated</text>
<rect x="1352.9" y="437.4" width="7.2" height="7.2" fill="#a13862"/>
<text x="1371.0" y="446.9" font-size="16">Eosinophils</text>
<rect x="1352.9" y="456.2" width="7.2" height="7.2" fill="#a13846"/>
<text x="1371.0" y="465.7" font-size="16">Neutrophils</text>
<text x="39.2" y="710.6" font-size="38.5">B</text>
<text x="28.6" y="1291.2" font-size="38.5">C</text>
<text x="216.6" y="699.8" font-size="16" text-anchor="middle" font-weight="bold">consensus matrix k=3</text>
<path d="M96.3 762.2V702.5H211.5V709.9M161.8 760V709.9H261.3V755.4M49.9 777.5V762.2H142.9V768M46.9 801V777.5H58.7V782.3M51.3 801V782.3H66.4V792M64.6 801V792H70V797M70 801V797.5H82V798.5M80 801V799.5H140V801M141.3 801V768H145.4V789M143.5 801V789H147V795M152.7 773.7V760H169.6V772.1M158.4 779.8V772.1H181.6V774.4M157.2 801V779.8H161V790M169.6 790V774.4H192.8V777.5M172.9 789V777.5H212.5V785.3M188.5 796.6V785.3H236.8V795.5M175 801V796.6H200V801M233 801V795.5H247V797.5M245 801V797.5H253V801M205 801V798.5H232V801M255.8 782.4V755.4H267.9V769.5M259.4 788V769.5H276.8V772.1M261.4 781.3V772.1H292V781.3M262.5 790V781.3H379.9V786.25M375.5 801V786.25H385V792M377 801V792H383V797M267.4 801V793.6H284.8V796M268.75 801V797H368.75V801M152.5 801V773.7H157V785" fill="none" stroke="#1a1a1a" stroke-width="1.25" stroke-linejoin="miter"/>
<polygon points="46.5,785 48,780 50,790 54,795 60,797 70,798.5 80,799.5 46.5,801" fill="#111"/>
<polygon points="150.5,776 152,772 154,778 156,785 158,792 162,797 170,799 150.5,801" fill="#111"/>
<polygon points="254.5,772 256,768 258,778 261,786 264,792 270,797 280,798.5 254.5,801" fill="#111"/>
<polygon points="372,801 376,796 380,793 384,795 387,797 387,801" fill="#111"/>
<polygon points="140,801 141.5,794 144,797 147,799 149,801" fill="#111"/>
<rect x="46.2" y="799.6" width="340.9" height="3.0" fill="#111"/>
<rect x="150.8" y="782" width="5.0" height="19.0" fill="#111"/>
<rect x="169" y="790" width="5.0" height="11.0" fill="#111"/>
<rect x="254.8" y="782.4" width="3.4" height="18.6" fill="#111"/>
<rect x="258.5" y="788" width="5.0" height="13.0" fill="#111"/>
<rect x="46.5" y="792" width="3.5" height="9.0" fill="#111"/>
<rect x="140.5" y="795" width="5.5" height="6.0" fill="#111"/>
<rect x="46.2" y="805.1" width="104.0" height="13.8" fill="#a6cee3"/>
<rect x="150.2" y="805.1" width="104.2" height="13.8" fill="#b2df8a"/>
<rect x="254.4" y="805.1" width="132.7" height="13.8" fill="#1f78b4"/>
<rect x="254.4" y="825.8" width="132.7" height="133.1" fill="#1f47a0"/>
<rect x="150.2" y="958.9" width="104.2" height="101.9" fill="#1f47a0"/>
<rect x="46.2" y="1060.8" width="104.0" height="104.2" fill="#1f47a0"/>
<rect x="174.3" y="840.5" width="56.2" height="107.5" fill="#d9daee"/>
<rect x="150.2" y="825.8" width="6.3" height="133.1" fill="#6c7bc0"/>
<rect x="167" y="825.8" width="3.0" height="133.1" fill="#8b96cf"/>
<rect x="150.2" y="950" width="104.2" height="8.9" fill="#c4c9e5"/>
<rect x="63" y="827" width="76.0" height="13.0" fill="#dcdef0"/>
<rect x="139" y="825.8" width="2.0" height="133.1" fill="#8a95ce"/>
<rect x="46.2" y="956.5" width="104.0" height="2.0" fill="#7f8bcb"/>
<rect x="254.4" y="825.8" width="3.6" height="133.1" fill="#3a58ac"/>
<rect x="262" y="982" width="110.0" height="58.0" fill="#dcdcee"/>
<rect x="254.4" y="1041.5" width="132.7" height="2.0" fill="#7f8bcb"/>
<rect x="254.4" y="1055" width="132.7" height="3.5" fill="#6878c0"/>
<rect x="254.4" y="958.9" width="3.6" height="101.9" fill="#8894cc"/>
<rect x="47" y="963" width="13.0" height="17.0" fill="#d0d3eb"/>
<rect x="46.2" y="1045" width="104.0" height="12.0" fill="#c9cde7"/>
<rect x="140" y="958.9" width="10.2" height="101.9" fill="#aab3dc"/>
<rect x="150.2" y="958.9" width="2.8" height="101.9" fill="#3555aa"/>
<rect x="157" y="958.9" width="2.0" height="101.9" fill="#5c6fba"/>
<rect x="150.2" y="1043" width="104.2" height="3.0" fill="#4d65b4"/>
<rect x="150.2" y="1054" width="104.2" height="3.0" fill="#4d65b4"/>
<rect x="46.2" y="1062" width="104.0" height="2.0" fill="#5a6db8"/>
<rect x="46.2" y="1068" width="104.0" height="2.0" fill="#7483c4"/>
<rect x="141" y="1061" width="2.0" height="104.0" fill="#7483c4"/>
<rect x="146" y="1061" width="2.0" height="104.0" fill="#8a96cd"/>
<rect x="156" y="1060.8" width="12.0" height="104.2" fill="#c9cee8"/>
<rect x="171" y="1060.8" width="2.0" height="104.2" fill="#8e99cf"/>
<rect x="228" y="1147" width="26.4" height="16.0" fill="#cdd1ea"/>
<rect x="150.2" y="1062" width="104.2" height="4.0" fill="#c8cce8"/>
<rect x="150.2" y="1070" width="104.2" height="2.0" fill="#d0d4eb"/>
<rect x="372" y="1075" width="13.0" height="75.0" fill="#cdd1ea"/>
<rect x="254.4" y="1060.8" width="2.0" height="104.2" fill="#8e99cf"/>
<rect x="254.4" y="1063" width="132.7" height="2.0" fill="#a0aad8"/>
<rect x="426.3" y="752.8" width="46.7" height="63.4" fill="#fff" stroke="#222" stroke-width="1.3"/>
<rect x="437.4" y="764.7" width="10" height="8.4" fill="#b2df8a" stroke="#111" stroke-width="1.1"/>
<text x="459.3" y="774.1" font-size="14" fill="#111">1</text>
<rect x="437.4" y="780.6" width="10" height="8.4" fill="#a6cee3" stroke="#111" stroke-width="1.1"/>
<text x="459.3" y="790.0" font-size="14" fill="#111">2</text>
<rect x="437.4" y="796.3" width="10" height="8.4" fill="#1f78b4" stroke="#111" stroke-width="1.1"/>
<text x="459.3" y="805.7" font-size="14" fill="#111">3</text>
<text x="224.7" y="1265.0" font-size="16" text-anchor="middle" font-weight="bold">consensus matrix k=3</text>
<path d="M60.3 1332V1268.2H237.8V1269.4M165.5 1335.4V1269.4H310.8V1331.8M57.5 1344V1332H63.8V1339.5M55.5 1366V1344H59.5V1352M61.5 1352V1339.5H66.5V1342.5M60.5 1366V1352H63V1358M65 1366V1342.5H68V1354.5M66.5 1366V1354.5H70V1358M68 1366V1360.6H93V1366M70 1366V1362.8H152V1366M158.6 1345.7V1335.4H172.3V1340.4M154.1 1366V1345.7H162.4V1351M160 1366V1351H164V1358M168.5 1360V1340.4H176.2V1349.5M174 1366V1349.5H178.5V1352.8M176 1366V1352.8H183.4V1356.1M177.8 1366V1356.1H188.1V1362.8M186 1366V1364H230V1366M304.2 1355V1331.8H316.1V1340.9M308.3 1362V1340.9H324V1344.5M309.5 1355V1344.5H337.3V1353.6M310.8 1362V1353.6H364.7V1355M335.7 1361V1355.6H394.6V1365.3M311 1366V1362H394V1366" fill="none" stroke="#1a1a1a" stroke-width="1.25" stroke-linejoin="miter"/>
<polygon points="54.5,1350 57,1350 60,1356 63,1356 66,1359 70,1361.5 78,1363 90,1364.5 54.5,1366" fill="#111"/>
<polygon points="154.5,1355 158,1352 162,1358 166,1354 170,1356 174,1360 180,1361 190,1363.5 200,1364.5 154.5,1366" fill="#111"/>
<polygon points="301.5,1340 304,1338 307,1346 309,1352 312,1360 320,1362.5 301.5,1366" fill="#111"/>
<polygon points="388,1366 391,1360 394,1358 395.2,1366" fill="#111"/>
<rect x="54.5" y="1364.6" width="340.7" height="2.8" fill="#111"/>
<rect x="54.5" y="1355" width="6.5" height="11.0" fill="#111"/>
<rect x="301.8" y="1345" width="5.7" height="21.0" fill="#111"/>
<rect x="166" y="1356" width="9.0" height="10.0" fill="#111"/>
<rect x="54.5" y="1370.2" width="99.2" height="13.5" fill="#1f78b4"/>
<rect x="153.7" y="1370.2" width="147.8" height="13.5" fill="#a6cee3"/>
<rect x="301.5" y="1370.2" width="93.7" height="13.5" fill="#b2df8a"/>
<rect x="301.5" y="1390.7" width="93.7" height="92.7" fill="#1f47a0"/>
<rect x="153.7" y="1483.4" width="147.8" height="147.6" fill="#1f47a0"/>
<rect x="54.5" y="1631" width="99.2" height="99.5" fill="#1f47a0"/>
<rect x="60" y="1390.7" width="2.0" height="86.3" fill="#d3d6ec"/>
<rect x="54.5" y="1476.5" width="99.2" height="3.0" fill="#c3c8e6"/>
<rect x="153.7" y="1390.7" width="11.3" height="88.3" fill="#a5afda"/>
<rect x="174.5" y="1390.7" width="1.5" height="88.3" fill="#d8dbee"/>
<rect x="165" y="1477" width="136.5" height="5.0" fill="#c8cce8"/>
<rect x="301.5" y="1478" width="93.7" height="5.4" fill="#3a58ac"/>
<rect x="54.5" y="1484" width="5.5" height="124.0" fill="#a4acd8"/>
<rect x="54.5" y="1611.5" width="99.2" height="8.5" fill="#bcc2e2"/>
<rect x="153.7" y="1479.4" width="147.8" height="4.6" fill="#5d6fba"/>
<rect x="163" y="1484" width="3.0" height="147.0" fill="#3a58ac"/>
<rect x="165" y="1611" width="136.5" height="2.0" fill="#4a62b2"/>
<rect x="165" y="1621" width="136.5" height="2.0" fill="#4a62b2"/>
<rect x="301.5" y="1483.4" width="6.5" height="147.6" fill="#b8bfe0"/>
<rect x="301.5" y="1620" width="93.7" height="11.0" fill="#9aa4d5"/>
<rect x="301.5" y="1608" width="93.7" height="2.0" fill="#d3d6ec"/>
<rect x="165" y="1631" width="7.0" height="99.5" fill="#b0b8dd"/>
<rect x="165" y="1718.8" width="136.5" height="1.7" fill="#d3d6ec"/>
<rect x="165" y="1725.5" width="136.5" height="3.5" fill="#8c96ce"/>
<rect x="307.5" y="1631" width="1.5" height="99.5" fill="#c8cce8"/>
<rect x="301.5" y="1721" width="93.7" height="3.0" fill="#b5bcdf"/>
<rect x="54.5" y="1724" width="99.2" height="3.0" fill="#3a58ac"/>
<rect x="434.4" y="1318.5" width="47.1" height="62.9" fill="#fff" stroke="#222" stroke-width="1.3"/>
<rect x="445.6" y="1330.4" width="10" height="8.4" fill="#b2df8a" stroke="#111" stroke-width="1.1"/>
<text x="467.6" y="1339.8" font-size="14" fill="#111">1</text>
<rect x="445.6" y="1345.9" width="10" height="8.4" fill="#1f78b4" stroke="#111" stroke-width="1.1"/>
<text x="467.6" y="1355.3" font-size="14" fill="#111">2</text>
<rect x="445.6" y="1361.4" width="10" height="8.4" fill="#a6cee3" stroke="#111" stroke-width="1.1"/>
<text x="467.6" y="1370.8" font-size="14" fill="#111">3</text>
<text x="765.9" y="765.0" font-size="16" text-anchor="middle" font-weight="bold">consensus CDF</text>
<polyline points="567.1,1108.2 569.1,1070.8 571.9,1053.0 575.9,1038.8 581.9,1029.9 589.8,1026.3 605.8,1019.2 625.8,1015.6 645.7,1013.8 665.6,1011.0 677.6,1008.5 689.6,1001.3 705.5,997.8 725.5,994.2 745.5,988.9 765.4,985.3 785.4,981.8 805.3,978.2 825.2,976.4 845.2,971.1 865.1,967.5 885.1,964.6 905.0,962.2 925.0,960.4 937.0,956.8 946.9,949.7 950.9,928.3 954.9,892.7 958.9,857.0 960.9,828.5 962.9,814.3 964.9,803.6" fill="none" stroke="#e41a1c" stroke-width="2" stroke-linejoin="round"/>
<polyline points="567.1,1035.2 571.9,1024.5 577.9,1013.8 585.9,1008.5 593.8,1006.7 601.8,1001.3 613.8,994.2 621.8,981.8 629.7,967.5 637.7,949.7 645.7,944.3 665.6,940.8 685.6,937.2 705.5,933.6 725.5,930.1 745.5,926.5 765.4,923.0 785.4,919.4 805.3,915.8 825.2,912.3 845.2,908.7 865.1,903.4 877.1,898.0 885.1,890.9 893.1,882.0 905.0,876.6 925.0,869.5 937.0,864.2 948.9,853.5 956.9,842.8 960.9,821.4 964.9,803.6" fill="none" stroke="#f5b51f" stroke-width="2" stroke-linejoin="round"/>
<polyline points="567.1,988.9 569.9,974.6 577.9,960.4 589.8,946.1 605.8,931.9 625.8,924.7 645.7,921.2 685.6,910.5 725.5,905.1 765.4,901.6 805.3,898.0 845.2,892.7 885.1,883.8 905.0,878.4 925.0,867.7 937.0,853.5 948.9,835.7 956.9,821.4 962.9,807.2 964.9,803.6" fill="none" stroke="#8dc11c" stroke-width="2" stroke-linejoin="round"/>
<polyline points="567.1,981.8 569.9,971.1 577.9,956.8 589.8,949.7 605.8,939.0 625.8,928.3 645.7,921.2 685.6,906.9 725.5,889.1 765.4,871.3 805.3,855.3 845.2,846.4 885.1,835.7 925.0,826.8 944.9,821.4 956.9,814.3 964.9,803.6" fill="none" stroke="#5cb340" stroke-width="2" stroke-linejoin="round"/>
<polyline points="567.1,969.3 569.9,956.8 577.9,939.0 589.8,921.2 605.8,906.9 625.8,896.2 645.7,887.3 685.6,878.4 725.5,869.5 765.4,862.4 805.3,855.3 845.2,848.1 885.1,839.2 925.0,828.5 944.9,821.4 964.9,803.6" fill="none" stroke="#6ccbdc" stroke-width="2" stroke-linejoin="round"/>
<polyline points="567.1,953.2 569.9,939.0 577.9,917.6 589.8,903.4 605.8,890.9 625.8,882.0 645.7,876.6 685.6,869.5 725.5,862.4 765.4,857.0 805.3,851.7 845.2,846.4 885.1,837.4 925.0,825.0 944.9,816.1 964.9,803.6" fill="none" stroke="#1f55af" stroke-width="2" stroke-linejoin="round"/>
<polyline points="567.1,946.1 569.9,931.9 577.9,914.1 589.8,901.6 605.8,890.9 625.8,880.2 645.7,873.1 685.6,864.2 725.5,857.0 765.4,849.9 805.3,842.8 845.2,835.7 885.1,826.8 925.0,817.9 944.9,812.5 964.9,803.6" fill="none" stroke="#5a3c9e" stroke-width="2" stroke-linejoin="round"/>
<polyline points="567.1,942.6 569.9,930.1 577.9,912.3 589.8,899.8 605.8,889.1 625.8,878.4 645.7,871.3 685.6,860.6 725.5,851.7 765.4,844.6 805.3,837.4 845.2,830.3 885.1,821.4 925.0,814.3 944.9,808.9 964.9,803.6" fill="none" stroke="#cc3b96" stroke-width="2" stroke-linejoin="round"/>
<rect x="550.2" y="790" width="432.1" height="383.6" fill="none" stroke="#222" stroke-width="1.3"/>
<text x="533.4" y="1164.5" font-size="13.5" text-anchor="end" fill="#222">0.0</text>
<text x="570.7" y="1188.4" font-size="13.5" text-anchor="end" fill="#222" transform="rotate(-90 570.6999999999999 1188.3999999999999)">0.0</text>
<text x="533.4" y="1093.2" font-size="13.5" text-anchor="end" fill="#222">0.2</text>
<text x="650.5" y="1188.4" font-size="13.5" text-anchor="end" fill="#222" transform="rotate(-90 650.5 1188.3999999999999)">0.2</text>
<text x="533.4" y="1022.0" font-size="13.5" text-anchor="end" fill="#222">0.4</text>
<text x="730.3" y="1188.4" font-size="13.5" text-anchor="end" fill="#222" transform="rotate(-90 730.3 1188.3999999999999)">0.4</text>
<text x="533.4" y="950.7" font-size="13.5" text-anchor="end" fill="#222">0.6</text>
<text x="810.1" y="1188.4" font-size="13.5" text-anchor="end" fill="#222" transform="rotate(-90 810.0999999999999 1188.3999999999999)">0.6</text>
<text x="533.4" y="879.5" font-size="13.5" text-anchor="end" fill="#222">0.8</text>
<text x="889.9" y="1188.4" font-size="13.5" text-anchor="end" fill="#222" transform="rotate(-90 889.9 1188.3999999999999)">0.8</text>
<text x="533.4" y="808.2" font-size="13.5" text-anchor="end" fill="#222">1.0</text>
<text x="969.7" y="1188.4" font-size="13.5" text-anchor="end" fill="#222" transform="rotate(-90 969.6999999999999 1188.3999999999999)">1.0</text>
<path d="M550.2 1159.9H542.5M565.9 1173.6V1181.3M550.2 1088.6H542.5M645.7 1173.6V1181.3M550.2 1017.4H542.5M725.5 1173.6V1181.3M550.2 946.1H542.5M805.3 1173.6V1181.3M550.2 874.9H542.5M885.1 1173.6V1181.3M550.2 803.6H542.5M964.9 1173.6V1181.3" stroke="#222" stroke-width="1.2" fill="none"/>
<text x="494.5" y="982.0" font-size="13.5" text-anchor="middle" fill="#222" transform="rotate(-90 494.5 982)">CDF</text>
<rect x="886" y="981.3" width="47.7" height="143.5" fill="#fff" stroke="#222" stroke-width="1.3"/>
<rect x="897.8" y="993.7" width="10.3" height="7.8" fill="#e41a1c" stroke="#111" stroke-width="1.1"/>
<text x="919.5" y="1002.8" font-size="14" fill="#111">2</text>
<rect x="897.8" y="1009.7" width="10.3" height="7.8" fill="#f5b51f" stroke="#111" stroke-width="1.1"/>
<text x="919.5" y="1018.8" font-size="14" fill="#111">3</text>
<rect x="897.8" y="1025.6" width="10.3" height="7.8" fill="#8dc11c" stroke="#111" stroke-width="1.1"/>
<text x="919.5" y="1034.7" font-size="14" fill="#111">4</text>
<rect x="897.8" y="1041.5" width="10.3" height="7.8" fill="#5cb340" stroke="#111" stroke-width="1.1"/>
<text x="919.5" y="1050.7" font-size="14" fill="#111">5</text>
<rect x="897.8" y="1057.5" width="10.3" height="7.8" fill="#6ccbdc" stroke="#111" stroke-width="1.1"/>
<text x="919.5" y="1066.6" font-size="14" fill="#111">6</text>
<rect x="897.8" y="1073.4" width="10.3" height="7.8" fill="#1f55af" stroke="#111" stroke-width="1.1"/>
<text x="919.5" y="1082.5" font-size="14" fill="#111">7</text>
<rect x="897.8" y="1089.4" width="10.3" height="7.8" fill="#5a3c9e" stroke="#111" stroke-width="1.1"/>
<text x="919.5" y="1098.5" font-size="14" fill="#111">8</text>
<rect x="897.8" y="1105.3" width="10.3" height="7.8" fill="#cc3b96" stroke="#111" stroke-width="1.1"/>
<text x="919.5" y="1114.5" font-size="14" fill="#111">9</text>
<text x="774.3" y="1252.6" font-size="16" text-anchor="middle" font-weight="bold">consensus CDF</text>
<polyline points="576.6,1701.5 587.4,1696.1 599.3,1690.8 615.3,1687.2 635.2,1683.6 647.2,1680.1 655.2,1669.4 663.1,1648.0 675.1,1639.1 695.0,1632.0 715.0,1624.9 723.0,1612.4 730.9,1587.5 738.9,1559.0 746.9,1544.7 754.9,1537.6 784.8,1526.9 804.7,1518.0 814.7,1505.5 826.6,1489.5 834.6,1482.4 854.6,1473.5 874.5,1462.8 886.5,1452.1 894.4,1443.2 910.4,1436.1 930.3,1430.7 944.3,1425.4 960.2,1416.5 968.2,1402.2 972.2,1370.2 974.2,1359.5" fill="none" stroke="#e41a1c" stroke-width="2" stroke-linejoin="round"/>
<polyline points="576.6,1605.3 579.4,1555.4 583.4,1530.5 587.4,1519.8 595.3,1516.2 615.3,1510.9 635.2,1509.1 647.2,1507.3 655.2,1503.8 675.1,1498.4 695.0,1493.1 715.0,1489.5 734.9,1486.0 754.9,1484.2 774.8,1482.4 794.7,1480.6 814.7,1478.8 834.6,1477.0 854.6,1473.5 874.5,1468.1 894.4,1459.2 914.4,1455.7 934.3,1452.1 954.3,1450.3 962.2,1437.9 968.2,1405.8 972.2,1377.3 974.2,1359.5" fill="none" stroke="#f5b51f" stroke-width="2" stroke-linejoin="round"/>
<polyline points="576.6,1555.4 579.4,1541.2 587.4,1526.9 599.3,1512.7 615.3,1502.0 635.2,1491.3 655.2,1480.6 695.0,1466.4 734.9,1461.0 774.8,1457.5 814.7,1452.1 854.6,1445.0 894.4,1437.9 914.4,1430.7 934.3,1416.5 954.3,1395.1 966.2,1377.3 974.2,1359.5" fill="none" stroke="#8dc11c" stroke-width="2" stroke-linejoin="round"/>
<polyline points="576.6,1553.6 579.4,1537.6 587.4,1523.4 599.3,1507.3 615.3,1494.9 635.2,1486.0 655.2,1477.0 695.0,1464.6 734.9,1450.3 774.8,1436.1 814.7,1421.8 854.6,1409.4 894.4,1395.1 934.3,1380.9 954.3,1373.7 974.2,1359.5" fill="none" stroke="#5cb340" stroke-width="2" stroke-linejoin="round"/>
<polyline points="576.6,1546.5 579.4,1530.5 587.4,1512.7 599.3,1498.4 615.3,1486.0 635.2,1473.5 655.2,1462.8 695.0,1445.0 734.9,1430.7 774.8,1416.5 814.7,1404.0 854.6,1393.3 894.4,1382.7 934.3,1373.7 954.3,1368.4 974.2,1359.5" fill="none" stroke="#6ccbdc" stroke-width="2" stroke-linejoin="round"/>
<polyline points="576.6,1535.8 579.4,1519.8 587.4,1502.0 599.3,1486.0 615.3,1471.7 635.2,1459.2 655.2,1448.5 695.0,1432.5 734.9,1418.3 774.8,1405.8 814.7,1395.1 854.6,1384.4 894.4,1375.5 934.3,1368.4 974.2,1359.5" fill="none" stroke="#1f55af" stroke-width="2" stroke-linejoin="round"/>
<polyline points="576.6,1528.7 579.4,1512.7 587.4,1494.9 599.3,1478.8 615.3,1464.6 635.2,1452.1 655.2,1441.4 695.0,1425.4 734.9,1411.1 774.8,1400.5 814.7,1389.8 854.6,1380.9 894.4,1373.7 934.3,1366.6 974.2,1359.5" fill="none" stroke="#5a3c9e" stroke-width="2" stroke-linejoin="round"/>
<polyline points="576.6,1519.8 579.4,1505.5 587.4,1489.5 599.3,1473.5 615.3,1459.2 635.2,1446.8 655.2,1436.1 695.0,1420.1 734.9,1407.6 774.8,1396.9 814.7,1386.2 854.6,1379.1 894.4,1372.0 934.3,1366.6 974.2,1359.5" fill="none" stroke="#cc3b96" stroke-width="2" stroke-linejoin="round"/>
<rect x="558.7" y="1346.5" width="431.8" height="383.3" fill="none" stroke="#222" stroke-width="1.3"/>
<text x="541.9" y="1720.3" font-size="13.5" text-anchor="end" fill="#222">0.0</text>
<text x="580.2" y="1744.6" font-size="13.5" text-anchor="end" fill="#222" transform="rotate(-90 580.1999999999999 1744.6)">0.0</text>
<text x="541.9" y="1649.1" font-size="13.5" text-anchor="end" fill="#222">0.2</text>
<text x="660.0" y="1744.6" font-size="13.5" text-anchor="end" fill="#222" transform="rotate(-90 659.9599999999999 1744.6)">0.2</text>
<text x="541.9" y="1577.8" font-size="13.5" text-anchor="end" fill="#222">0.4</text>
<text x="739.7" y="1744.6" font-size="13.5" text-anchor="end" fill="#222" transform="rotate(-90 739.72 1744.6)">0.4</text>
<text x="541.9" y="1506.6" font-size="13.5" text-anchor="end" fill="#222">0.6</text>
<text x="819.5" y="1744.6" font-size="13.5" text-anchor="end" fill="#222" transform="rotate(-90 819.48 1744.6)">0.6</text>
<text x="541.9" y="1435.3" font-size="13.5" text-anchor="end" fill="#222">0.8</text>
<text x="899.2" y="1744.6" font-size="13.5" text-anchor="end" fill="#222" transform="rotate(-90 899.24 1744.6)">0.8</text>
<text x="541.9" y="1364.1" font-size="13.5" text-anchor="end" fill="#222">1.0</text>
<text x="979.0" y="1744.6" font-size="13.5" text-anchor="end" fill="#222" transform="rotate(-90 979.0 1744.6)">1.0</text>
<path d="M558.7 1715.7H551.0M575.4 1729.8V1737.5M558.7 1644.5H551.0M655.2 1729.8V1737.5M558.7 1573.2H551.0M734.9 1729.8V1737.5M558.7 1502.0H551.0M814.7 1729.8V1737.5M558.7 1430.7H551.0M894.4 1729.8V1737.5M558.7 1359.5H551.0M974.2 1729.8V1737.5" stroke="#222" stroke-width="1.2" fill="none"/>
<text x="503.0" y="1537.4" font-size="13.5" text-anchor="middle" fill="#222" transform="rotate(-90 503 1537.4)">CDF</text>
<rect x="893.5" y="1537" width="48.5" height="144.3" fill="#fff" stroke="#222" stroke-width="1.3"/>
<rect x="905.3" y="1549.4" width="10.3" height="7.8" fill="#e41a1c" stroke="#111" stroke-width="1.1"/>
<text x="927.0" y="1558.5" font-size="14" fill="#111">2</text>
<rect x="905.3" y="1565.3" width="10.3" height="7.8" fill="#f5b51f" stroke="#111" stroke-width="1.1"/>
<text x="927.0" y="1574.5" font-size="14" fill="#111">3</text>
<rect x="905.3" y="1581.3" width="10.3" height="7.8" fill="#8dc11c" stroke="#111" stroke-width="1.1"/>
<text x="927.0" y="1590.4" font-size="14" fill="#111">4</text>
<rect x="905.3" y="1597.2" width="10.3" height="7.8" fill="#5cb340" stroke="#111" stroke-width="1.1"/>
<text x="927.0" y="1606.3" font-size="14" fill="#111">5</text>
<rect x="905.3" y="1613.2" width="10.3" height="7.8" fill="#6ccbdc" stroke="#111" stroke-width="1.1"/>
<text x="927.0" y="1622.3" font-size="14" fill="#111">6</text>
<rect x="905.3" y="1629.1" width="10.3" height="7.8" fill="#1f55af" stroke="#111" stroke-width="1.1"/>
<text x="927.0" y="1638.2" font-size="14" fill="#111">7</text>
<rect x="905.3" y="1645.1" width="10.3" height="7.8" fill="#5a3c9e" stroke="#111" stroke-width="1.1"/>
<text x="927.0" y="1654.2" font-size="14" fill="#111">8</text>
<rect x="905.3" y="1661.0" width="10.3" height="7.8" fill="#cc3b96" stroke="#111" stroke-width="1.1"/>
<text x="927.0" y="1670.2" font-size="14" fill="#111">9</text>
<text x="774.3" y="1792.0" font-size="14" text-anchor="middle" fill="#222">consensus index</text>
<text x="1276.0" y="764.9" font-size="16" text-anchor="middle" font-weight="bold">Delta area</text>
<path d="M1079.4 808.5L1131.0 907.0M1135.6 918.0L1189.1 1083.3M1196.7 1090.8L1242.4 1104.6M1253.4 1109.3L1300.1 1135.7M1311.2 1140.0L1356.7 1150.2M1368.5 1152.0L1413.7 1155.5M1425.7 1156.4L1470.9 1159.4" stroke="#111" stroke-width="1.2" fill="none"/>
<circle cx="1076.6" cy="803.2" r="2.6" fill="none" stroke="#111" stroke-width="1"/>
<circle cx="1133.8" cy="912.3" r="2.6" fill="none" stroke="#111" stroke-width="1"/>
<circle cx="1191.0" cy="1089.1" r="2.6" fill="none" stroke="#111" stroke-width="1"/>
<circle cx="1248.2" cy="1106.4" r="2.6" fill="none" stroke="#111" stroke-width="1"/>
<circle cx="1305.3" cy="1138.7" r="2.6" fill="none" stroke="#111" stroke-width="1"/>
<circle cx="1362.5" cy="1151.5" r="2.6" fill="none" stroke="#111" stroke-width="1"/>
<circle cx="1419.7" cy="1156.0" r="2.6" fill="none" stroke="#111" stroke-width="1"/>
<circle cx="1476.9" cy="1159.8" r="2.6" fill="none" stroke="#111" stroke-width="1"/>
<rect x="1060.6" y="789.8" width="432.6" height="383.7" fill="none" stroke="#222" stroke-width="1.3"/>
<text x="1075.8" y="1204.3" font-size="13.5" text-anchor="middle" fill="#222">2</text>
<text x="1133.0" y="1204.3" font-size="13.5" text-anchor="middle" fill="#222">3</text>
<text x="1190.2" y="1204.3" font-size="13.5" text-anchor="middle" fill="#222">4</text>
<text x="1247.4" y="1204.3" font-size="13.5" text-anchor="middle" fill="#222">5</text>
<text x="1304.5" y="1204.3" font-size="13.5" text-anchor="middle" fill="#222">6</text>
<text x="1361.7" y="1204.3" font-size="13.5" text-anchor="middle" fill="#222">7</text>
<text x="1418.9" y="1204.3" font-size="13.5" text-anchor="middle" fill="#222">8</text>
<text x="1476.1" y="1204.3" font-size="13.5" text-anchor="middle" fill="#222">9</text>
<text x="1041.6" y="1171.8" font-size="13.5" text-anchor="middle" fill="#222" transform="rotate(-90 1041.6 1171.8)">0.0</text>
<text x="1041.6" y="1096.6" font-size="13.5" text-anchor="middle" fill="#222" transform="rotate(-90 1041.6 1096.58)">0.1</text>
<text x="1041.6" y="1021.4" font-size="13.5" text-anchor="middle" fill="#222" transform="rotate(-90 1041.6 1021.36)">0.2</text>
<text x="1041.6" y="946.1" font-size="13.5" text-anchor="middle" fill="#222" transform="rotate(-90 1041.6 946.14)">0.3</text>
<text x="1041.6" y="870.9" font-size="13.5" text-anchor="middle" fill="#222" transform="rotate(-90 1041.6 870.9200000000001)">0.4</text>
<text x="1041.6" y="795.7" font-size="13.5" text-anchor="middle" fill="#222" transform="rotate(-90 1041.6 795.7)">0.5</text>
<path d="M1076.6 1173.5V1181.2M1133.8 1173.5V1181.2M1191.0 1173.5V1181.2M1248.2 1173.5V1181.2M1305.3 1173.5V1181.2M1362.5 1173.5V1181.2M1419.7 1173.5V1181.2M1476.9 1173.5V1181.2M1060.6 1171.8H1052.8999999999999M1060.6 1096.6H1052.8999999999999M1060.6 1021.4H1052.8999999999999M1060.6 946.1H1052.8999999999999M1060.6 870.9H1052.8999999999999M1060.6 795.7H1052.8999999999999" stroke="#222" stroke-width="1.2" fill="none"/>
<text x="1008.8" y="982.0" font-size="13.5" text-anchor="middle" fill="#222" transform="rotate(-90 1008.8 982)">relative change in area under CDF curve</text>
<text x="1288.0" y="1245.9" font-size="16" text-anchor="middle" font-weight="bold">Delta area</text>
<path d="M1092.2 1356.7L1140.9 1403.3M1146.7 1413.2L1201.1 1623.3M1207.8 1632.1L1254.7 1659.1M1265.5 1664.2L1311.6 1682.5M1323.1 1686.1L1368.7 1696.7M1380.5 1698.8L1425.9 1704.4M1437.9 1705.5L1483.2 1708.6" stroke="#111" stroke-width="1.2" fill="none"/>
<circle cx="1087.9" cy="1352.6" r="2.6" fill="none" stroke="#111" stroke-width="1"/>
<circle cx="1145.2" cy="1407.4" r="2.6" fill="none" stroke="#111" stroke-width="1"/>
<circle cx="1202.6" cy="1629.1" r="2.6" fill="none" stroke="#111" stroke-width="1"/>
<circle cx="1259.9" cy="1662.0" r="2.6" fill="none" stroke="#111" stroke-width="1"/>
<circle cx="1317.2" cy="1684.8" r="2.6" fill="none" stroke="#111" stroke-width="1"/>
<circle cx="1374.5" cy="1698.1" r="2.6" fill="none" stroke="#111" stroke-width="1"/>
<circle cx="1431.9" cy="1705.1" r="2.6" fill="none" stroke="#111" stroke-width="1"/>
<circle cx="1489.2" cy="1709.0" r="2.6" fill="none" stroke="#111" stroke-width="1"/>
<rect x="1073" y="1339.4" width="432.1" height="383.7" fill="none" stroke="#222" stroke-width="1.3"/>
<text x="1087.1" y="1753.2" font-size="13.5" text-anchor="middle" fill="#222">2</text>
<text x="1144.4" y="1753.2" font-size="13.5" text-anchor="middle" fill="#222">3</text>
<text x="1201.8" y="1753.2" font-size="13.5" text-anchor="middle" fill="#222">4</text>
<text x="1259.1" y="1753.2" font-size="13.5" text-anchor="middle" fill="#222">5</text>
<text x="1316.4" y="1753.2" font-size="13.5" text-anchor="middle" fill="#222">6</text>
<text x="1373.7" y="1753.2" font-size="13.5" text-anchor="middle" fill="#222">7</text>
<text x="1431.1" y="1753.2" font-size="13.5" text-anchor="middle" fill="#222">8</text>
<text x="1488.4" y="1753.2" font-size="13.5" text-anchor="middle" fill="#222">9</text>
<text x="1053.8" y="1720.8" font-size="13.5" text-anchor="middle" fill="#222" transform="rotate(-90 1053.8 1720.8)">0.0</text>
<text x="1053.8" y="1642.5" font-size="13.5" text-anchor="middle" fill="#222" transform="rotate(-90 1053.8 1642.45)">0.1</text>
<text x="1053.8" y="1564.1" font-size="13.5" text-anchor="middle" fill="#222" transform="rotate(-90 1053.8 1564.1)">0.2</text>
<text x="1053.8" y="1485.8" font-size="13.5" text-anchor="middle" fill="#222" transform="rotate(-90 1053.8 1485.75)">0.3</text>
<text x="1053.8" y="1407.4" font-size="13.5" text-anchor="middle" fill="#222" transform="rotate(-90 1053.8 1407.4)">0.4</text>
<path d="M1087.9 1723.1V1730.8M1145.2 1723.1V1730.8M1202.6 1723.1V1730.8M1259.9 1723.1V1730.8M1317.2 1723.1V1730.8M1374.5 1723.1V1730.8M1431.9 1723.1V1730.8M1489.2 1723.1V1730.8M1073 1720.8H1065.3M1073 1642.5H1065.3M1073 1564.1H1065.3M1073 1485.8H1065.3M1073 1407.4H1065.3" stroke="#222" stroke-width="1.2" fill="none"/>
<text x="1021.0" y="1531.0" font-size="13.5" text-anchor="middle" fill="#222" transform="rotate(-90 1021 1531)">relative change in area under CDF curve</text>
<clipPath id="kc1"><rect x="1280" y="1774.2" width="20" height="10"/></clipPath><clipPath id="kc2"><rect x="1280" y="1848" width="20" height="8.8"/></clipPath>
<text x="1288.6" y="1780.4" font-size="11" text-anchor="middle" fill="#222" clip-path="url(#kc1)">k</text>
<text x="1288.6" y="1860.2" font-size="11" text-anchor="middle" fill="#222" clip-path="url(#kc2)">k</text>
<rect x="168.8" y="1866" width="446.6" height="444.3" fill="#ebebeb"/>
<path d="M272.9 1866V2310.3M424.3 1866V2310.3M575.4 1866V2310.3M168.8 1880.5H615.4M168.8 1959.9H615.4M168.8 2038.4H615.4M168.8 2117.7H615.4M168.8 2197.6H615.4M168.8 2276.8H615.4" stroke="#fff" stroke-width="0.9" fill="none"/>
<path d="M197.3 1866V2310.3M348.5 1866V2310.3M500.1 1866V2310.3M168.8 1920H615.4M168.8 1999.5H615.4M168.8 2078H615.4M168.8 2157.6H615.4M168.8 2237.2H615.4" stroke="#fff" stroke-width="1.8" fill="none"/>
<g fill="#ec6f6a"><circle cx="326.7" cy="2081.3" r="4.1"/><circle cx="342.5" cy="2083.2" r="4.1"/><circle cx="347.6" cy="2083.7" r="4.1"/><circle cx="339.2" cy="2087.9" r="4.1"/><circle cx="364.5" cy="2090.5" r="4.1"/><circle cx="374.1" cy="2094.6" r="4.1"/><circle cx="317.9" cy="2099.3" r="4.1"/><circle cx="333.0" cy="2097.9" r="4.1"/><circle cx="338.4" cy="2102.3" r="4.1"/><circle cx="359.7" cy="2108.4" r="4.1"/><circle cx="303.7" cy="2111.8" r="4.1"/><circle cx="309.8" cy="2113.3" r="4.1"/><circle cx="318.6" cy="2110.3" r="4.1"/><circle cx="320.8" cy="2108.1" r="4.1"/><circle cx="327.4" cy="2112.1" r="4.1"/><circle cx="283.9" cy="2115.0" r="4.1"/><circle cx="252.9" cy="2122.5" r="4.1"/><circle cx="304.7" cy="2120.6" r="4.1"/><circle cx="298.5" cy="2126.2" r="4.1"/><circle cx="318.9" cy="2124.0" r="4.1"/><circle cx="327.9" cy="2124.0" r="4.1"/><circle cx="345.8" cy="2121.3" r="4.1"/><circle cx="352.1" cy="2117.7" r="4.1"/><circle cx="348.0" cy="2125.0" r="4.1"/><circle cx="361.2" cy="2122.4" r="4.1"/><circle cx="311.6" cy="2132.6" r="4.1"/><circle cx="317.2" cy="2138.2" r="4.1"/><circle cx="326.7" cy="2135.6" r="4.1"/><circle cx="335.5" cy="2131.6" r="4.1"/><circle cx="335.5" cy="2134.5" r="4.1"/><circle cx="344.3" cy="2130.9" r="4.1"/><circle cx="369.7" cy="2135.3" r="4.1"/><circle cx="242.3" cy="2132.8" r="4.1"/><circle cx="215.9" cy="2140.9" r="4.1"/><circle cx="250.0" cy="2146.3" r="4.1"/><circle cx="264.6" cy="2149.2" r="4.1"/><circle cx="274.3" cy="2155.4" r="4.1"/><circle cx="311.0" cy="2148.8" r="4.1"/><circle cx="338.1" cy="2149.7" r="4.1"/><circle cx="355.3" cy="2146.7" r="4.1"/><circle cx="361.9" cy="2141.9" r="4.1"/><circle cx="387.6" cy="2147.0" r="4.1"/><circle cx="390.2" cy="2150.7" r="4.1"/><circle cx="295.4" cy="2157.3" r="4.1"/><circle cx="255.8" cy="2167.3" r="4.1"/><circle cx="301.0" cy="2169.0" r="4.1"/><circle cx="298.8" cy="2173.7" r="4.1"/><circle cx="315.7" cy="2166.5" r="4.1"/><circle cx="332.3" cy="2171.9" r="4.1"/><circle cx="344.0" cy="2167.3" r="4.1"/><circle cx="365.6" cy="2161.4" r="4.1"/><circle cx="365.6" cy="2166.8" r="4.1"/><circle cx="370.0" cy="2167.5" r="4.1"/><circle cx="381.7" cy="2160.9" r="4.1"/><circle cx="379.5" cy="2167.5" r="4.1"/><circle cx="372.2" cy="2176.1" r="4.1"/><circle cx="392.0" cy="2178.3" r="4.1"/><circle cx="248.2" cy="2181.2" r="4.1"/><circle cx="241.6" cy="2184.9" r="4.1"/><circle cx="272.7" cy="2178.8" r="4.1"/><circle cx="273.4" cy="2188.8" r="4.1"/><circle cx="286.4" cy="2188.5" r="4.1"/><circle cx="284.9" cy="2195.9" r="4.1"/><circle cx="247.5" cy="2193.7" r="4.1"/><circle cx="306.5" cy="2185.9" r="4.1"/><circle cx="323.3" cy="2180.8" r="4.1"/><circle cx="322.0" cy="2190.3" r="4.1"/><circle cx="336.7" cy="2194.4" r="4.1"/><circle cx="295.9" cy="2205.4" r="4.1"/><circle cx="309.1" cy="2202.8" r="4.1"/><circle cx="315.7" cy="2202.8" r="4.1"/><circle cx="318.6" cy="2204.2" r="4.1"/><circle cx="313.5" cy="2208.6" r="4.1"/><circle cx="349.4" cy="2203.5" r="4.1"/><circle cx="368.9" cy="2206.0" r="4.1"/><circle cx="380.2" cy="2204.2" r="4.1"/><circle cx="333.3" cy="2214.2" r="4.1"/><circle cx="345.8" cy="2214.2" r="4.1"/><circle cx="383.9" cy="2216.7" r="4.1"/><circle cx="399.5" cy="2215.2" r="4.1"/><circle cx="303.5" cy="2218.2" r="4.1"/><circle cx="263.2" cy="2227.0" r="4.1"/><circle cx="297.8" cy="2228.0" r="4.1"/><circle cx="315.0" cy="2224.5" r="4.1"/><circle cx="349.4" cy="2243.1" r="4.1"/><circle cx="397.5" cy="2241.6" r="4.1"/><circle cx="250.1" cy="2247.5" r="4.1"/><circle cx="253.3" cy="2251.9" r="4.1"/><circle cx="258.2" cy="2254.8" r="4.1"/><circle cx="221.8" cy="2254.1" r="4.1"/><circle cx="277.6" cy="2263.6" r="4.1"/><circle cx="314.2" cy="2258.2" r="4.1"/><circle cx="391.8" cy="2255.2" r="4.1"/><circle cx="323.5" cy="2290.0" r="4.1"/><circle cx="402.0" cy="2123.5" r="4.1"/><circle cx="420.2" cy="2198.1" r="4.1"/><circle cx="411.4" cy="2215.2" r="4.1"/><circle cx="421.0" cy="2214.9" r="4.1"/><circle cx="432.0" cy="2282.0" r="4.1"/><circle cx="403.7" cy="2286.8" r="4.1"/></g>
<g fill="#2ca638"><circle cx="399.3" cy="1952.3" r="4.1"/><circle cx="385.4" cy="1979.4" r="4.1"/><circle cx="377.3" cy="1983.8" r="4.1"/><circle cx="399.8" cy="1995.1" r="4.1"/><circle cx="378.0" cy="1999.0" r="4.1"/><circle cx="380.2" cy="2009.0" r="4.1"/><circle cx="376.6" cy="2026.3" r="4.1"/><circle cx="387.9" cy="2023.7" r="4.1"/><circle cx="377.3" cy="2036.6" r="4.1"/><circle cx="380.2" cy="2046.4" r="4.1"/><circle cx="395.3" cy="2046.4" r="4.1"/><circle cx="370.0" cy="2048.6" r="4.1"/><circle cx="380.2" cy="2051.6" r="4.1"/><circle cx="393.8" cy="2056.6" r="4.1"/><circle cx="376.6" cy="2056.7" r="4.1"/><circle cx="372.9" cy="2061.1" r="4.1"/><circle cx="372.2" cy="2066.2" r="4.1"/><circle cx="375.8" cy="2067.7" r="4.1"/><circle cx="369.2" cy="2070.3" r="4.1"/><circle cx="372.9" cy="2081.9" r="4.1"/><circle cx="390.7" cy="2085.5" r="4.1"/><circle cx="400.3" cy="2069.9" r="4.1"/><circle cx="431.6" cy="1886.5" r="4.1"/><circle cx="426.5" cy="1919.2" r="4.1"/><circle cx="486.6" cy="1940.4" r="4.1"/><circle cx="533.3" cy="1936.9" r="4.1"/><circle cx="422.8" cy="1946.4" r="4.1"/><circle cx="438.2" cy="1949.3" r="4.1"/><circle cx="434.5" cy="1958.0" r="4.1"/><circle cx="448.5" cy="1958.4" r="4.1"/><circle cx="426.9" cy="1962.8" r="4.1"/><circle cx="464.6" cy="1961.3" r="4.1"/><circle cx="475.9" cy="1965.8" r="4.1"/><circle cx="489.3" cy="1967.2" r="4.1"/><circle cx="595.2" cy="1975.3" r="4.1"/><circle cx="503.5" cy="1983.8" r="4.1"/><circle cx="585.3" cy="1988.0" r="4.1"/><circle cx="435.7" cy="1988.5" r="4.1"/><circle cx="488.8" cy="1996.3" r="4.1"/><circle cx="471.7" cy="1999.2" r="4.1"/><circle cx="450.4" cy="2001.7" r="4.1"/><circle cx="435.3" cy="2005.1" r="4.1"/><circle cx="434.5" cy="2012.7" r="4.1"/><circle cx="468.3" cy="2007.6" r="4.1"/><circle cx="494.0" cy="2008.0" r="4.1"/><circle cx="416.5" cy="2015.3" r="4.1"/><circle cx="462.9" cy="2019.6" r="4.1"/><circle cx="419.1" cy="2027.8" r="4.1"/><circle cx="410.0" cy="2030.3" r="4.1"/><circle cx="437.5" cy="2033.2" r="4.1"/><circle cx="444.1" cy="2031.0" r="4.1"/><circle cx="453.3" cy="2032.9" r="4.1"/><circle cx="473.7" cy="2032.5" r="4.1"/><circle cx="488.8" cy="2033.7" r="4.1"/><circle cx="485.4" cy="2040.6" r="4.1"/><circle cx="507.9" cy="2044.2" r="4.1"/><circle cx="404.5" cy="2041.3" r="4.1"/><circle cx="463.6" cy="2048.6" r="4.1"/><circle cx="457.3" cy="2054.5" r="4.1"/><circle cx="456.5" cy="2058.2" r="4.1"/><circle cx="445.1" cy="2055.7" r="4.1"/><circle cx="403.7" cy="2059.2" r="4.1"/><circle cx="420.6" cy="2058.9" r="4.1"/><circle cx="530.3" cy="2058.2" r="4.1"/><circle cx="562.9" cy="2060.8" r="4.1"/><circle cx="439.2" cy="2065.5" r="4.1"/><circle cx="447.7" cy="2068.4" r="4.1"/><circle cx="456.1" cy="2069.5" r="4.1"/><circle cx="440.8" cy="2072.1" r="4.1"/><circle cx="478.5" cy="2069.5" r="4.1"/><circle cx="552.3" cy="2069.9" r="4.1"/><circle cx="429.8" cy="2075.0" r="4.1"/><circle cx="449.9" cy="2078.9" r="4.1"/><circle cx="546.9" cy="2085.4" r="4.1"/><circle cx="439.7" cy="2088.3" r="4.1"/><circle cx="376.1" cy="2109.9" r="4.1"/><circle cx="391.3" cy="2104.8" r="4.1"/><circle cx="392.0" cy="2112.3" r="4.1"/><circle cx="399.5" cy="2133.2" r="4.1"/><circle cx="410.6" cy="2096.7" r="4.1"/><circle cx="452.9" cy="2095.4" r="4.1"/><circle cx="458.0" cy="2094.6" r="4.1"/><circle cx="485.1" cy="2095.4" r="4.1"/><circle cx="476.6" cy="2117.7" r="4.1"/><circle cx="421.0" cy="2127.2" r="4.1"/><circle cx="409.6" cy="2130.4" r="4.1"/><circle cx="441.9" cy="2128.7" r="4.1"/><circle cx="445.5" cy="2125.7" r="4.1"/><circle cx="449.5" cy="2130.9" r="4.1"/><circle cx="457.6" cy="2127.9" r="4.1"/><circle cx="538.0" cy="2129.4" r="4.1"/><circle cx="440.4" cy="2144.8" r="4.1"/><circle cx="430.4" cy="2153.2" r="4.1"/><circle cx="496.2" cy="2155.5" r="4.1"/><circle cx="406.7" cy="2168.0" r="4.1"/><circle cx="437.8" cy="2168.7" r="4.1"/><circle cx="509.4" cy="2177.4" r="4.1"/><circle cx="517.1" cy="2174.3" r="4.1"/><circle cx="510.5" cy="2181.2" r="4.1"/><circle cx="510.5" cy="2185.6" r="4.1"/><circle cx="496.9" cy="2235.5" r="4.1"/><circle cx="476.8" cy="2256.6" r="4.1"/><circle cx="484.4" cy="2277.3" r="4.1"/></g>
<g fill="#6394d8"><circle cx="246.5" cy="1898.0" r="4.1"/><circle cx="227.7" cy="1909.4" r="4.1"/><circle cx="197.6" cy="1914.7" r="4.1"/><circle cx="224.4" cy="1921.7" r="4.1"/><circle cx="235.0" cy="1929.1" r="4.1"/><circle cx="259.5" cy="1917.3" r="4.1"/><circle cx="284.4" cy="1916.9" r="4.1"/><circle cx="357.9" cy="1892.7" r="4.1"/><circle cx="368.5" cy="1917.2" r="4.1"/><circle cx="333.3" cy="1930.3" r="4.1"/><circle cx="354.1" cy="1934.2" r="4.1"/><circle cx="277.3" cy="1940.8" r="4.1"/><circle cx="203.5" cy="1960.6" r="4.1"/><circle cx="309.1" cy="1958.1" r="4.1"/><circle cx="318.6" cy="1954.6" r="4.1"/><circle cx="337.4" cy="1954.6" r="4.1"/><circle cx="355.0" cy="1961.1" r="4.1"/><circle cx="359.7" cy="1964.0" r="4.1"/><circle cx="365.9" cy="1968.0" r="4.1"/><circle cx="375.2" cy="1965.0" r="4.1"/><circle cx="327.4" cy="1966.9" r="4.1"/><circle cx="337.3" cy="1967.7" r="4.1"/><circle cx="232.1" cy="1972.4" r="4.1"/><circle cx="245.3" cy="1971.6" r="4.1"/><circle cx="251.9" cy="1980.0" r="4.1"/><circle cx="281.7" cy="1973.1" r="4.1"/><circle cx="294.7" cy="1971.9" r="4.1"/><circle cx="317.5" cy="1978.7" r="4.1"/><circle cx="215.9" cy="1991.1" r="4.1"/><circle cx="224.0" cy="1992.2" r="4.1"/><circle cx="202.4" cy="1997.3" r="4.1"/><circle cx="211.1" cy="1998.5" r="4.1"/><circle cx="222.5" cy="2000.7" r="4.1"/><circle cx="218.9" cy="2005.4" r="4.1"/><circle cx="221.1" cy="2012.0" r="4.1"/><circle cx="247.0" cy="1995.5" r="4.1"/><circle cx="245.0" cy="2007.3" r="4.1"/><circle cx="276.5" cy="1999.5" r="4.1"/><circle cx="278.3" cy="2002.4" r="4.1"/><circle cx="277.8" cy="2012.3" r="4.1"/><circle cx="289.0" cy="2001.7" r="4.1"/><circle cx="293.7" cy="2006.1" r="4.1"/><circle cx="293.0" cy="1991.1" r="4.1"/><circle cx="298.5" cy="1991.9" r="4.1"/><circle cx="309.1" cy="2006.1" r="4.1"/><circle cx="320.1" cy="1990.4" r="4.1"/><circle cx="326.0" cy="1988.5" r="4.1"/><circle cx="332.6" cy="1986.7" r="4.1"/><circle cx="326.4" cy="1997.0" r="4.1"/><circle cx="318.9" cy="1999.5" r="4.1"/><circle cx="325.2" cy="2010.5" r="4.1"/><circle cx="320.8" cy="2015.6" r="4.1"/><circle cx="338.1" cy="2008.6" r="4.1"/><circle cx="360.9" cy="2005.4" r="4.1"/><circle cx="375.2" cy="1995.1" r="4.1"/><circle cx="261.0" cy="2018.6" r="4.1"/><circle cx="226.9" cy="2028.1" r="4.1"/><circle cx="232.4" cy="2030.0" r="4.1"/><circle cx="273.4" cy="2028.8" r="4.1"/><circle cx="271.7" cy="2031.0" r="4.1"/><circle cx="285.6" cy="2028.1" r="4.1"/><circle cx="285.3" cy="2036.6" r="4.1"/><circle cx="299.3" cy="2020.0" r="4.1"/><circle cx="303.2" cy="2018.6" r="4.1"/><circle cx="308.1" cy="2032.9" r="4.1"/><circle cx="343.6" cy="2020.5" r="4.1"/><circle cx="360.4" cy="2015.6" r="4.1"/><circle cx="361.2" cy="2023.7" r="4.1"/><circle cx="356.8" cy="2025.9" r="4.1"/><circle cx="344.7" cy="2031.5" r="4.1"/><circle cx="348.0" cy="2038.4" r="4.1"/><circle cx="324.5" cy="2036.6" r="4.1"/><circle cx="331.1" cy="2039.5" r="4.1"/><circle cx="356.0" cy="2037.6" r="4.1"/><circle cx="360.4" cy="2034.7" r="4.1"/><circle cx="238.7" cy="2044.7" r="4.1"/><circle cx="206.0" cy="2050.1" r="4.1"/><circle cx="264.3" cy="2036.9" r="4.1"/><circle cx="262.1" cy="2041.3" r="4.1"/><circle cx="269.9" cy="2041.7" r="4.1"/><circle cx="301.0" cy="2043.5" r="4.1"/><circle cx="245.3" cy="2053.0" r="4.1"/><circle cx="248.9" cy="2052.0" r="4.1"/><circle cx="253.3" cy="2055.2" r="4.1"/><circle cx="254.1" cy="2060.8" r="4.1"/><circle cx="262.9" cy="2051.6" r="4.1"/><circle cx="265.1" cy="2053.8" r="4.1"/><circle cx="334.0" cy="2055.2" r="4.1"/><circle cx="337.0" cy="2052.6" r="4.1"/><circle cx="344.7" cy="2053.8" r="4.1"/><circle cx="364.1" cy="2051.6" r="4.1"/><circle cx="359.0" cy="2059.9" r="4.1"/><circle cx="339.6" cy="2062.1" r="4.1"/><circle cx="364.1" cy="2066.2" r="4.1"/><circle cx="189.2" cy="2069.2" r="4.1"/><circle cx="204.2" cy="2066.5" r="4.1"/><circle cx="237.9" cy="2063.3" r="4.1"/><circle cx="237.2" cy="2069.5" r="4.1"/><circle cx="269.5" cy="2069.2" r="4.1"/><circle cx="267.6" cy="2073.1" r="4.1"/><circle cx="287.8" cy="2070.3" r="4.1"/><circle cx="290.8" cy="2072.1" r="4.1"/><circle cx="289.6" cy="2080.0" r="4.1"/><circle cx="302.2" cy="2060.8" r="4.1"/><circle cx="313.5" cy="2067.7" r="4.1"/><circle cx="305.9" cy="2075.0" r="4.1"/><circle cx="317.2" cy="2080.0" r="4.1"/><circle cx="328.2" cy="2072.1" r="4.1"/><circle cx="338.8" cy="2072.5" r="4.1"/><circle cx="227.7" cy="2075.8" r="4.1"/><circle cx="225.5" cy="2080.2" r="4.1"/><circle cx="250.0" cy="2081.7" r="4.1"/><circle cx="252.6" cy="2080.9" r="4.1"/><circle cx="208.6" cy="2087.4" r="4.1"/><circle cx="277.0" cy="2088.7" r="4.1"/><circle cx="265.4" cy="2093.0" r="4.1"/><circle cx="277.6" cy="2097.1" r="4.1"/><circle cx="302.0" cy="2091.6" r="4.1"/><circle cx="312.8" cy="2091.3" r="4.1"/><circle cx="244.5" cy="2103.0" r="4.1"/><circle cx="268.8" cy="2108.1" r="4.1"/><circle cx="281.7" cy="2107.4" r="4.1"/><circle cx="279.8" cy="2111.8" r="4.1"/><circle cx="293.7" cy="2104.2" r="4.1"/><circle cx="297.4" cy="2104.8" r="4.1"/><circle cx="306.9" cy="2102.3" r="4.1"/><circle cx="203.9" cy="2120.9" r="4.1"/><circle cx="251.9" cy="2141.4" r="4.1"/></g>
<text x="197.3" y="2330.9" font-size="15.5" text-anchor="middle" fill="#4d4d4d">−0.1</text>
<text x="348.5" y="2330.9" font-size="15.5" text-anchor="middle" fill="#4d4d4d">0.0</text>
<text x="500.1" y="2330.9" font-size="15.5" text-anchor="middle" fill="#4d4d4d">0.1</text>
<text x="159.4" y="1925.5" font-size="15.5" text-anchor="end" fill="#4d4d4d">0.10</text>
<text x="159.4" y="2005.0" font-size="15.5" text-anchor="end" fill="#4d4d4d">0.05</text>
<text x="159.4" y="2083.5" font-size="15.5" text-anchor="end" fill="#4d4d4d">0.00</text>
<text x="159.4" y="2163.1" font-size="15.5" text-anchor="end" fill="#4d4d4d">−0.05</text>
<text x="159.4" y="2242.7" font-size="15.5" text-anchor="end" fill="#4d4d4d">−0.10</text>
<path d="M197.3 2310.3V2314.9M348.5 2310.3V2314.9M500.1 2310.3V2314.9M168.8 1920H164.20000000000002M168.8 1999.5H164.20000000000002M168.8 2078H164.20000000000002M168.8 2157.6H164.20000000000002M168.8 2237.2H164.20000000000002" stroke="#333" stroke-width="1.3" fill="none"/>
<text x="392.1" y="2352.3" font-size="19.6" text-anchor="middle">PC1 (28.25%)</text>
<text x="110.5" y="2088.2" font-size="19.3" text-anchor="middle" transform="rotate(-90 110.5 2088.15)">PC2 (20.04%)</text>
<text x="645.9" y="2044.6" font-size="19.3">Cluster</text>
<rect x="644.9" y="2056.3" width="30" height="91.6" fill="#f2f2f2"/>
<circle cx="659.9" cy="2071.3" r="4.1" fill="#ec6f6a"/>
<text x="685.5" y="2076.9" font-size="15.5">C1</text>
<circle cx="659.9" cy="2102.1" r="4.1" fill="#2ca638"/>
<text x="685.5" y="2107.7" font-size="15.5">C2</text>
<circle cx="659.9" cy="2132.9" r="4.1" fill="#6394d8"/>
<text x="685.5" y="2138.5" font-size="15.5">C3</text>
<rect x="492.8" y="1860" width="130" height="23.5" fill="#fff"/>
<rect x="909.8" y="1866.6" width="446.3" height="442.4" fill="#ebebeb"/>
<path d="M953.7 1866.6V2309M1027.5 1866.6V2309M1100.4 1866.6V2309M1173.7 1866.6V2309M1247.8 1866.6V2309M1320.7 1866.6V2309M909.8 1899H1356.1M909.8 1979.7H1356.1M909.8 2059.6H1356.1M909.8 2140.9H1356.1M909.8 2221.8H1356.1M909.8 2302.5H1356.1" stroke="#fff" stroke-width="0.9" fill="none"/>
<path d="M917.0 1866.6V2309M990.4 1866.6V2309M1063.8 1866.6V2309M1137.2 1866.6V2309M1210.4 1866.6V2309M1284 1866.6V2309M909.8 1939.4H1356.1M909.8 2019.7H1356.1M909.8 2100.1H1356.1M909.8 2181.2H1356.1M909.8 2262.2H1356.1" stroke="#fff" stroke-width="1.8" fill="none"/>
<g fill="#ec6f6a"><circle cx="1027.5" cy="2058.6" r="4.1"/><circle cx="1060.1" cy="2050.4" r="4.1"/><circle cx="1063.8" cy="2056.0" r="4.1"/><circle cx="1037.4" cy="2072.1" r="4.1"/><circle cx="1059.4" cy="2080.6" r="4.1"/><circle cx="1066.2" cy="2079.7" r="4.1"/><circle cx="1088.1" cy="2079.9" r="4.1"/><circle cx="1060.8" cy="2089.0" r="4.1"/><circle cx="1070.7" cy="2089.6" r="4.1"/><circle cx="1001.1" cy="2092.7" r="4.1"/><circle cx="1067.9" cy="2093.5" r="4.1"/><circle cx="1058.6" cy="2099.3" r="4.1"/><circle cx="1081.4" cy="2094.9" r="4.1"/><circle cx="1075.1" cy="2101.2" r="4.1"/><circle cx="1105.3" cy="2102.0" r="4.1"/><circle cx="1084.3" cy="2107.4" r="4.1"/><circle cx="1085.8" cy="2109.6" r="4.1"/><circle cx="1097.2" cy="2110.3" r="4.1"/><circle cx="1100.4" cy="2109.3" r="4.1"/><circle cx="1060.1" cy="2113.3" r="4.1"/><circle cx="1068.2" cy="2114.4" r="4.1"/><circle cx="1077.0" cy="2114.4" r="4.1"/><circle cx="1088.7" cy="2118.9" r="4.1"/><circle cx="1026.7" cy="2116.6" r="4.1"/><circle cx="1035.2" cy="2118.1" r="4.1"/><circle cx="1046.2" cy="2118.1" r="4.1"/><circle cx="1041.8" cy="2124.3" r="4.1"/><circle cx="1046.6" cy="2130.9" r="4.1"/><circle cx="1022.0" cy="2127.9" r="4.1"/><circle cx="1058.3" cy="2129.4" r="4.1"/><circle cx="1055.0" cy="2136.0" r="4.1"/><circle cx="1059.4" cy="2141.1" r="4.1"/><circle cx="1065.2" cy="2140.9" r="4.1"/><circle cx="1079.2" cy="2130.6" r="4.1"/><circle cx="1102.6" cy="2126.5" r="4.1"/><circle cx="1101.9" cy="2129.4" r="4.1"/><circle cx="1093.8" cy="2137.5" r="4.1"/><circle cx="1092.4" cy="2142.6" r="4.1"/><circle cx="1084.3" cy="2144.8" r="4.1"/><circle cx="1112.2" cy="2118.1" r="4.1"/><circle cx="1119.8" cy="2114.7" r="4.1"/><circle cx="1128.3" cy="2119.7" r="4.1"/><circle cx="1120.2" cy="2125.7" r="4.1"/><circle cx="1118.8" cy="2131.6" r="4.1"/><circle cx="1131.1" cy="2134.5" r="4.1"/><circle cx="1135.8" cy="2146.6" r="4.1"/><circle cx="1012.9" cy="2145.8" r="4.1"/><circle cx="1028.1" cy="2152.9" r="4.1"/><circle cx="1045.4" cy="2155.1" r="4.1"/><circle cx="966.6" cy="2153.6" r="4.1"/><circle cx="975.5" cy="2164.9" r="4.1"/><circle cx="1035.9" cy="2164.9" r="4.1"/><circle cx="1045.4" cy="2166.5" r="4.1"/><circle cx="1056.9" cy="2167.5" r="4.1"/><circle cx="1056.9" cy="2173.1" r="4.1"/><circle cx="1067.1" cy="2176.3" r="4.1"/><circle cx="1066.4" cy="2179.6" r="4.1"/><circle cx="1092.8" cy="2175.6" r="4.1"/><circle cx="1100.4" cy="2167.5" r="4.1"/><circle cx="1106.3" cy="2157.0" r="4.1"/><circle cx="1115.8" cy="2162.7" r="4.1"/><circle cx="1126.1" cy="2152.6" r="4.1"/><circle cx="1132.7" cy="2161.8" r="4.1"/><circle cx="1131.7" cy="2170.5" r="4.1"/><circle cx="1128.3" cy="2174.9" r="4.1"/><circle cx="1035.4" cy="2177.5" r="4.1"/><circle cx="1044.0" cy="2180.5" r="4.1"/><circle cx="1109.2" cy="2179.3" r="4.1"/><circle cx="1113.6" cy="2177.8" r="4.1"/><circle cx="1108.5" cy="2183.7" r="4.1"/><circle cx="1089.4" cy="2185.2" r="4.1"/><circle cx="1096.0" cy="2188.8" r="4.1"/><circle cx="1108.8" cy="2192.0" r="4.1"/><circle cx="930.0" cy="2190.7" r="4.1"/><circle cx="970.3" cy="2188.4" r="4.1"/><circle cx="989.4" cy="2188.8" r="4.1"/><circle cx="993.3" cy="2188.8" r="4.1"/><circle cx="1031.5" cy="2186.9" r="4.1"/><circle cx="1024.4" cy="2190.7" r="4.1"/><circle cx="1047.6" cy="2189.6" r="4.1"/><circle cx="1055.7" cy="2195.7" r="4.1"/><circle cx="1056.1" cy="2203.5" r="4.1"/><circle cx="1067.4" cy="2199.1" r="4.1"/><circle cx="1077.7" cy="2198.4" r="4.1"/><circle cx="1080.6" cy="2194.0" r="4.1"/><circle cx="1085.8" cy="2194.7" r="4.1"/><circle cx="1013.9" cy="2198.1" r="4.1"/><circle cx="943.9" cy="2201.0" r="4.1"/><circle cx="955.9" cy="2203.5" r="4.1"/><circle cx="958.6" cy="2201.0" r="4.1"/><circle cx="951.5" cy="2214.5" r="4.1"/><circle cx="961.8" cy="2212.6" r="4.1"/><circle cx="930.7" cy="2221.8" r="4.1"/><circle cx="937.3" cy="2220.4" r="4.1"/><circle cx="1046.9" cy="2211.1" r="4.1"/><circle cx="1060.1" cy="2213.5" r="4.1"/><circle cx="1061.6" cy="2222.3" r="4.1"/><circle cx="1037.8" cy="2221.8" r="4.1"/><circle cx="1046.9" cy="2224.8" r="4.1"/><circle cx="982.6" cy="2229.2" r="4.1"/><circle cx="1087.7" cy="2234.0" r="4.1"/><circle cx="959.3" cy="2239.9" r="4.1"/><circle cx="1131.4" cy="2201.9" r="4.1"/><circle cx="1114.1" cy="2206.9" r="4.1"/><circle cx="1036.6" cy="2255.6" r="4.1"/></g>
<g fill="#2ca638"><circle cx="1235.6" cy="2036.9" r="4.1"/><circle cx="1228.0" cy="2046.4" r="4.1"/><circle cx="1226.5" cy="2051.1" r="4.1"/><circle cx="1208.5" cy="2062.6" r="4.1"/><circle cx="1204.5" cy="2070.6" r="4.1"/><circle cx="1226.8" cy="2068.7" r="4.1"/><circle cx="1193.4" cy="2080.4" r="4.1"/><circle cx="1289.6" cy="2084.5" r="4.1"/><circle cx="1191.5" cy="2089.0" r="4.1"/><circle cx="1137.7" cy="2170.8" r="4.1"/><circle cx="1138.0" cy="2234.0" r="4.1"/><circle cx="1139.8" cy="2248.4" r="4.1"/><circle cx="1140.5" cy="2289.9" r="4.1"/><circle cx="1140.4" cy="2194.7" r="4.1"/><circle cx="1140.3" cy="2158.7" r="4.1"/><circle cx="1193.8" cy="2094.2" r="4.1"/><circle cx="1183.5" cy="2097.1" r="4.1"/><circle cx="1196.7" cy="2098.3" r="4.1"/><circle cx="1193.1" cy="2103.0" r="4.1"/><circle cx="1168.4" cy="2096.4" r="4.1"/><circle cx="1246.9" cy="2098.9" r="4.1"/><circle cx="1236.8" cy="2103.7" r="4.1"/><circle cx="1231.2" cy="2110.3" r="4.1"/><circle cx="1238.3" cy="2116.2" r="4.1"/><circle cx="1236.8" cy="2119.9" r="4.1"/><circle cx="1235.9" cy="2125.7" r="4.1"/><circle cx="1185.0" cy="2108.1" r="4.1"/><circle cx="1166.7" cy="2114.0" r="4.1"/><circle cx="1156.4" cy="2119.4" r="4.1"/><circle cx="1154.6" cy="2123.1" r="4.1"/><circle cx="1180.2" cy="2119.4" r="4.1"/><circle cx="1193.4" cy="2118.0" r="4.1"/><circle cx="1194.5" cy="2127.6" r="4.1"/><circle cx="1197.8" cy="2127.6" r="4.1"/><circle cx="1219.8" cy="2129.7" r="4.1"/><circle cx="1161.5" cy="2132.0" r="4.1"/><circle cx="1184.6" cy="2133.4" r="4.1"/><circle cx="1145.0" cy="2135.7" r="4.1"/><circle cx="1247.8" cy="2133.1" r="4.1"/><circle cx="1251.5" cy="2136.0" r="4.1"/><circle cx="1206.0" cy="2137.2" r="4.1"/><circle cx="1210.4" cy="2140.4" r="4.1"/><circle cx="1158.6" cy="2144.1" r="4.1"/><circle cx="1174.0" cy="2141.4" r="4.1"/><circle cx="1177.7" cy="2142.3" r="4.1"/><circle cx="1171.5" cy="2147.0" r="4.1"/><circle cx="1203.1" cy="2146.7" r="4.1"/><circle cx="1223.1" cy="2145.1" r="4.1"/><circle cx="1235.2" cy="2146.0" r="4.1"/><circle cx="1242.2" cy="2148.8" r="4.1"/><circle cx="1246.3" cy="2142.3" r="4.1"/><circle cx="1185.4" cy="2152.1" r="4.1"/><circle cx="1193.8" cy="2155.5" r="4.1"/><circle cx="1197.2" cy="2158.7" r="4.1"/><circle cx="1152.1" cy="2155.4" r="4.1"/><circle cx="1160.8" cy="2152.9" r="4.1"/><circle cx="1168.9" cy="2155.1" r="4.1"/><circle cx="1220.7" cy="2157.6" r="4.1"/><circle cx="1222.4" cy="2162.4" r="4.1"/><circle cx="1160.1" cy="2160.9" r="4.1"/><circle cx="1158.6" cy="2165.8" r="4.1"/><circle cx="1165.2" cy="2164.2" r="4.1"/><circle cx="1183.1" cy="2163.4" r="4.1"/><circle cx="1187.5" cy="2163.4" r="4.1"/><circle cx="1195.7" cy="2167.1" r="4.1"/><circle cx="1146.6" cy="2167.5" r="4.1"/><circle cx="1146.6" cy="2170.5" r="4.1"/><circle cx="1254.4" cy="2154.1" r="4.1"/><circle cx="1267.5" cy="2154.1" r="4.1"/><circle cx="1277.9" cy="2155.8" r="4.1"/><circle cx="1296.2" cy="2154.6" r="4.1"/><circle cx="1299.9" cy="2163.6" r="4.1"/><circle cx="1290.1" cy="2167.3" r="4.1"/><circle cx="1318.2" cy="2167.3" r="4.1"/><circle cx="1273.0" cy="2172.2" r="4.1"/><circle cx="1284.5" cy="2174.6" r="4.1"/><circle cx="1244.4" cy="2169.0" r="4.1"/><circle cx="1237.4" cy="2175.6" r="4.1"/><circle cx="1244.1" cy="2179.0" r="4.1"/><circle cx="1262.3" cy="2178.6" r="4.1"/><circle cx="1215.1" cy="2181.2" r="4.1"/><circle cx="1180.6" cy="2183.0" r="4.1"/><circle cx="1305.6" cy="2184.4" r="4.1"/><circle cx="1231.2" cy="2191.5" r="4.1"/><circle cx="1228.0" cy="2201.6" r="4.1"/><circle cx="1225.1" cy="2206.4" r="4.1"/><circle cx="1161.5" cy="2195.7" r="4.1"/><circle cx="1263.8" cy="2199.8" r="4.1"/><circle cx="1325.8" cy="2200.6" r="4.1"/><circle cx="1336.1" cy="2197.9" r="4.1"/><circle cx="1166.2" cy="2207.9" r="4.1"/><circle cx="1185.4" cy="2208.6" r="4.1"/><circle cx="1187.9" cy="2216.0" r="4.1"/><circle cx="1192.8" cy="2215.5" r="4.1"/><circle cx="1188.2" cy="2224.0" r="4.1"/><circle cx="1153.8" cy="2218.2" r="4.1"/><circle cx="1218.7" cy="2220.4" r="4.1"/><circle cx="1221.7" cy="2228.4" r="4.1"/><circle cx="1214.8" cy="2233.1" r="4.1"/><circle cx="1254.2" cy="2221.8" r="4.1"/><circle cx="1318.5" cy="2228.4" r="4.1"/><circle cx="1182.1" cy="2235.3" r="4.1"/><circle cx="1174.3" cy="2248.2" r="4.1"/><circle cx="1195.3" cy="2254.5" r="4.1"/><circle cx="1328.0" cy="2250.1" r="4.1"/><circle cx="1232.7" cy="2286.7" r="4.1"/><circle cx="1244.1" cy="2287.1" r="4.1"/><circle cx="1335.1" cy="2289.0" r="4.1"/></g>
<g fill="#6394d8"><circle cx="1100.4" cy="1934.5" r="4.1"/><circle cx="1135.0" cy="1930.1" r="4.1"/><circle cx="1139.3" cy="1927.4" r="4.1"/><circle cx="1130.5" cy="1943.7" r="4.1"/><circle cx="1110.0" cy="1950.6" r="4.1"/><circle cx="1115.8" cy="1947.1" r="4.1"/><circle cx="1126.8" cy="1955.5" r="4.1"/><circle cx="1133.0" cy="1954.9" r="4.1"/><circle cx="1112.6" cy="1964.6" r="4.1"/><circle cx="1136.5" cy="1966.5" r="4.1"/><circle cx="1125.4" cy="1972.8" r="4.1"/><circle cx="1133.3" cy="1973.5" r="4.1"/><circle cx="1138.7" cy="1979.0" r="4.1"/><circle cx="1108.8" cy="1979.0" r="4.1"/><circle cx="1119.5" cy="1983.8" r="4.1"/><circle cx="1122.4" cy="1987.5" r="4.1"/><circle cx="1093.1" cy="1989.7" r="4.1"/><circle cx="1099.0" cy="1987.8" r="4.1"/><circle cx="1114.4" cy="1993.9" r="4.1"/><circle cx="1140.0" cy="1995.1" r="4.1"/><circle cx="1084.3" cy="1995.8" r="4.1"/><circle cx="1082.1" cy="2001.0" r="4.1"/><circle cx="1079.9" cy="2003.2" r="4.1"/><circle cx="1102.3" cy="1997.0" r="4.1"/><circle cx="1096.0" cy="2001.3" r="4.1"/><circle cx="1132.1" cy="1998.2" r="4.1"/><circle cx="1121.7" cy="2001.7" r="4.1"/><circle cx="1127.6" cy="2003.9" r="4.1"/><circle cx="1062.3" cy="2003.9" r="4.1"/><circle cx="1067.9" cy="2002.9" r="4.1"/><circle cx="1099.7" cy="2008.0" r="4.1"/><circle cx="1101.2" cy="2012.0" r="4.1"/><circle cx="1110.0" cy="2010.9" r="4.1"/><circle cx="1119.5" cy="2013.4" r="4.1"/><circle cx="1129.2" cy="2009.8" r="4.1"/><circle cx="1127.6" cy="2006.8" r="4.1"/><circle cx="1139.3" cy="2014.9" r="4.1"/><circle cx="1062.3" cy="2018.6" r="4.1"/><circle cx="1079.2" cy="2020.8" r="4.1"/><circle cx="1085.0" cy="2014.9" r="4.1"/><circle cx="1089.4" cy="2019.3" r="4.1"/><circle cx="1093.1" cy="2023.7" r="4.1"/><circle cx="1124.6" cy="2020.0" r="4.1"/><circle cx="1133.2" cy="2020.8" r="4.1"/><circle cx="1132.0" cy="2025.2" r="4.1"/><circle cx="1139.4" cy="2021.5" r="4.1"/><circle cx="1058.9" cy="2031.8" r="4.1"/><circle cx="1119.5" cy="2028.1" r="4.1"/><circle cx="1121.7" cy="2031.8" r="4.1"/><circle cx="1097.5" cy="2034.7" r="4.1"/><circle cx="1098.2" cy="2039.1" r="4.1"/><circle cx="1105.6" cy="2033.7" r="4.1"/><circle cx="1137.6" cy="2032.1" r="4.1"/><circle cx="1138.3" cy="2038.0" r="4.1"/><circle cx="1084.3" cy="2040.9" r="4.1"/><circle cx="1138.3" cy="2045.3" r="4.1"/><circle cx="1105.6" cy="2048.9" r="4.1"/><circle cx="1115.1" cy="2048.6" r="4.1"/><circle cx="1124.6" cy="2046.4" r="4.1"/><circle cx="1122.4" cy="2055.2" r="4.1"/><circle cx="1089.4" cy="2051.6" r="4.1"/><circle cx="1137.8" cy="2048.6" r="4.1"/><circle cx="1132.8" cy="2059.3" r="4.1"/><circle cx="1055.4" cy="2055.5" r="4.1"/><circle cx="1068.2" cy="2059.9" r="4.1"/><circle cx="1076.2" cy="2057.4" r="4.1"/><circle cx="1079.2" cy="2066.2" r="4.1"/><circle cx="1077.7" cy="2062.6" r="4.1"/><circle cx="1099.7" cy="2064.5" r="4.1"/><circle cx="1100.4" cy="2071.4" r="4.1"/><circle cx="1115.8" cy="2072.8" r="4.1"/><circle cx="1118.8" cy="2075.8" r="4.1"/><circle cx="1123.9" cy="2072.1" r="4.1"/><circle cx="1130.6" cy="2074.3" r="4.1"/><circle cx="1121.3" cy="2082.1" r="4.1"/><circle cx="1074.8" cy="2081.5" r="4.1"/><circle cx="1096.0" cy="2081.2" r="4.1"/><circle cx="1102.8" cy="2087.1" r="4.1"/><circle cx="1132.1" cy="2081.9" r="4.1"/><circle cx="1138.0" cy="2082.6" r="4.1"/><circle cx="1121.7" cy="2085.3" r="4.1"/><circle cx="1142.9" cy="1886.5" r="4.1"/><circle cx="1162.0" cy="1913.7" r="4.1"/><circle cx="1152.5" cy="1938.2" r="4.1"/><circle cx="1168.9" cy="1945.9" r="4.1"/><circle cx="1192.1" cy="1948.6" r="4.1"/><circle cx="1153.8" cy="1951.1" r="4.1"/><circle cx="1169.3" cy="1959.9" r="4.1"/><circle cx="1153.5" cy="1965.8" r="4.1"/><circle cx="1160.1" cy="1968.7" r="4.1"/><circle cx="1144.7" cy="1977.8" r="4.1"/><circle cx="1153.8" cy="1974.8" r="4.1"/><circle cx="1188.2" cy="1977.9" r="4.1"/><circle cx="1231.2" cy="1983.8" r="4.1"/><circle cx="1164.8" cy="1988.9" r="4.1"/><circle cx="1172.5" cy="1988.2" r="4.1"/><circle cx="1180.9" cy="1991.0" r="4.1"/><circle cx="1164.9" cy="1996.6" r="4.1"/><circle cx="1218.0" cy="2000.5" r="4.1"/><circle cx="1191.6" cy="2004.6" r="4.1"/><circle cx="1196.7" cy="2001.7" r="4.1"/><circle cx="1147.2" cy="2008.3" r="4.1"/><circle cx="1151.3" cy="2012.4" r="4.1"/><circle cx="1171.8" cy="2006.8" r="4.1"/><circle cx="1176.6" cy="2010.5" r="4.1"/><circle cx="1168.4" cy="2014.9" r="4.1"/><circle cx="1189.9" cy="2015.9" r="4.1"/><circle cx="1211.4" cy="2019.0" r="4.1"/><circle cx="1183.5" cy="2020.8" r="4.1"/><circle cx="1146.9" cy="2025.6" r="4.1"/><circle cx="1153.5" cy="2025.6" r="4.1"/><circle cx="1156.4" cy="2028.8" r="4.1"/><circle cx="1164.5" cy="2029.6" r="4.1"/><circle cx="1171.8" cy="2030.3" r="4.1"/><circle cx="1182.1" cy="2029.6" r="4.1"/><circle cx="1189.4" cy="2032.1" r="4.1"/><circle cx="1153.5" cy="2035.4" r="4.1"/><circle cx="1201.9" cy="2036.9" r="4.1"/><circle cx="1217.6" cy="2039.5" r="4.1"/><circle cx="1160.1" cy="2043.9" r="4.1"/><circle cx="1157.1" cy="2053.0" r="4.1"/><circle cx="1165.9" cy="2054.5" r="4.1"/><circle cx="1169.6" cy="2050.8" r="4.1"/><circle cx="1176.6" cy="2048.3" r="4.1"/><circle cx="1184.0" cy="2051.1" r="4.1"/><circle cx="1199.7" cy="2054.5" r="4.1"/><circle cx="1205.5" cy="2050.8" r="4.1"/><circle cx="1144.2" cy="2062.6" r="4.1"/><circle cx="1158.2" cy="2061.1" r="4.1"/><circle cx="1178.8" cy="2064.8" r="4.1"/><circle cx="1178.8" cy="2069.9" r="4.1"/><circle cx="1191.6" cy="2068.4" r="4.1"/><circle cx="1186.5" cy="2071.4" r="4.1"/><circle cx="1192.3" cy="2073.6" r="4.1"/><circle cx="1155.7" cy="2073.6" r="4.1"/><circle cx="1150.9" cy="2079.9" r="4.1"/><circle cx="1182.4" cy="2081.7" r="4.1"/><circle cx="1185.7" cy="2080.9" r="4.1"/><circle cx="1149.1" cy="2086.5" r="4.1"/><circle cx="1141.0" cy="2088.3" r="4.1"/><circle cx="1090.9" cy="2093.5" r="4.1"/><circle cx="1123.9" cy="2099.3" r="4.1"/><circle cx="1129.5" cy="2098.6" r="4.1"/><circle cx="1133.2" cy="2095.3" r="4.1"/><circle cx="1135.6" cy="2093.5" r="4.1"/><circle cx="1120.2" cy="2108.9" r="4.1"/><circle cx="1129.2" cy="2107.3" r="4.1"/><circle cx="1130.6" cy="2114.7" r="4.1"/><circle cx="1152.7" cy="2096.8" r="4.1"/><circle cx="1151.3" cy="2101.5" r="4.1"/><circle cx="1141.7" cy="2107.4" r="4.1"/><circle cx="1149.1" cy="2110.3" r="4.1"/></g>
<text x="917.0" y="2329.6" font-size="15.5" text-anchor="middle" fill="#4d4d4d">−0.15</text>
<text x="990.4" y="2329.6" font-size="15.5" text-anchor="middle" fill="#4d4d4d">−0.10</text>
<text x="1063.8" y="2329.6" font-size="15.5" text-anchor="middle" fill="#4d4d4d">−0.05</text>
<text x="1137.2" y="2329.6" font-size="15.5" text-anchor="middle" fill="#4d4d4d">0.00</text>
<text x="1210.4" y="2329.6" font-size="15.5" text-anchor="middle" fill="#4d4d4d">0.05</text>
<text x="1284.0" y="2329.6" font-size="15.5" text-anchor="middle" fill="#4d4d4d">0.10</text>
<text x="900.4" y="1944.9" font-size="15.5" text-anchor="end" fill="#4d4d4d">0.10</text>
<text x="900.4" y="2025.2" font-size="15.5" text-anchor="end" fill="#4d4d4d">0.05</text>
<text x="900.4" y="2105.6" font-size="15.5" text-anchor="end" fill="#4d4d4d">0.00</text>
<text x="900.4" y="2186.7" font-size="15.5" text-anchor="end" fill="#4d4d4d">−0.05</text>
<text x="900.4" y="2267.7" font-size="15.5" text-anchor="end" fill="#4d4d4d">−0.10</text>
<path d="M917.0 2309V2313.6M990.4 2309V2313.6M1063.8 2309V2313.6M1137.2 2309V2313.6M1210.4 2309V2313.6M1284 2309V2313.6M909.8 1939.4H905.1999999999999M909.8 2019.7H905.1999999999999M909.8 2100.1H905.1999999999999M909.8 2181.2H905.1999999999999M909.8 2262.2H905.1999999999999" stroke="#333" stroke-width="1.3" fill="none"/>
<text x="1132.9" y="2352.3" font-size="19.6" text-anchor="middle">PC1 (25.18%)</text>
<text x="853.5" y="2087.8" font-size="19.3" text-anchor="middle" transform="rotate(-90 853.5 2087.8)">PC2 (20.09%)</text>
<text x="1386.4" y="2044.6" font-size="19.3">Cluster</text>
<rect x="1385.4" y="2056.3" width="30" height="91.6" fill="#f2f2f2"/>
<circle cx="1400.4" cy="2071.3" r="4.1" fill="#ec6f6a"/>
<text x="1426.0" y="2076.9" font-size="15.5">C1</text>
<circle cx="1400.4" cy="2102.1" r="4.1" fill="#2ca638"/>
<text x="1426.0" y="2107.7" font-size="15.5">C2</text>
<circle cx="1400.4" cy="2132.9" r="4.1" fill="#6394d8"/>
<text x="1426.0" y="2138.5" font-size="15.5">C3</text>
<text x="38.5" y="1895.8" font-size="38.5">D</text>
<text x="841.0" y="1895.6" font-size="38.5">E</text>
</svg></body></html>
